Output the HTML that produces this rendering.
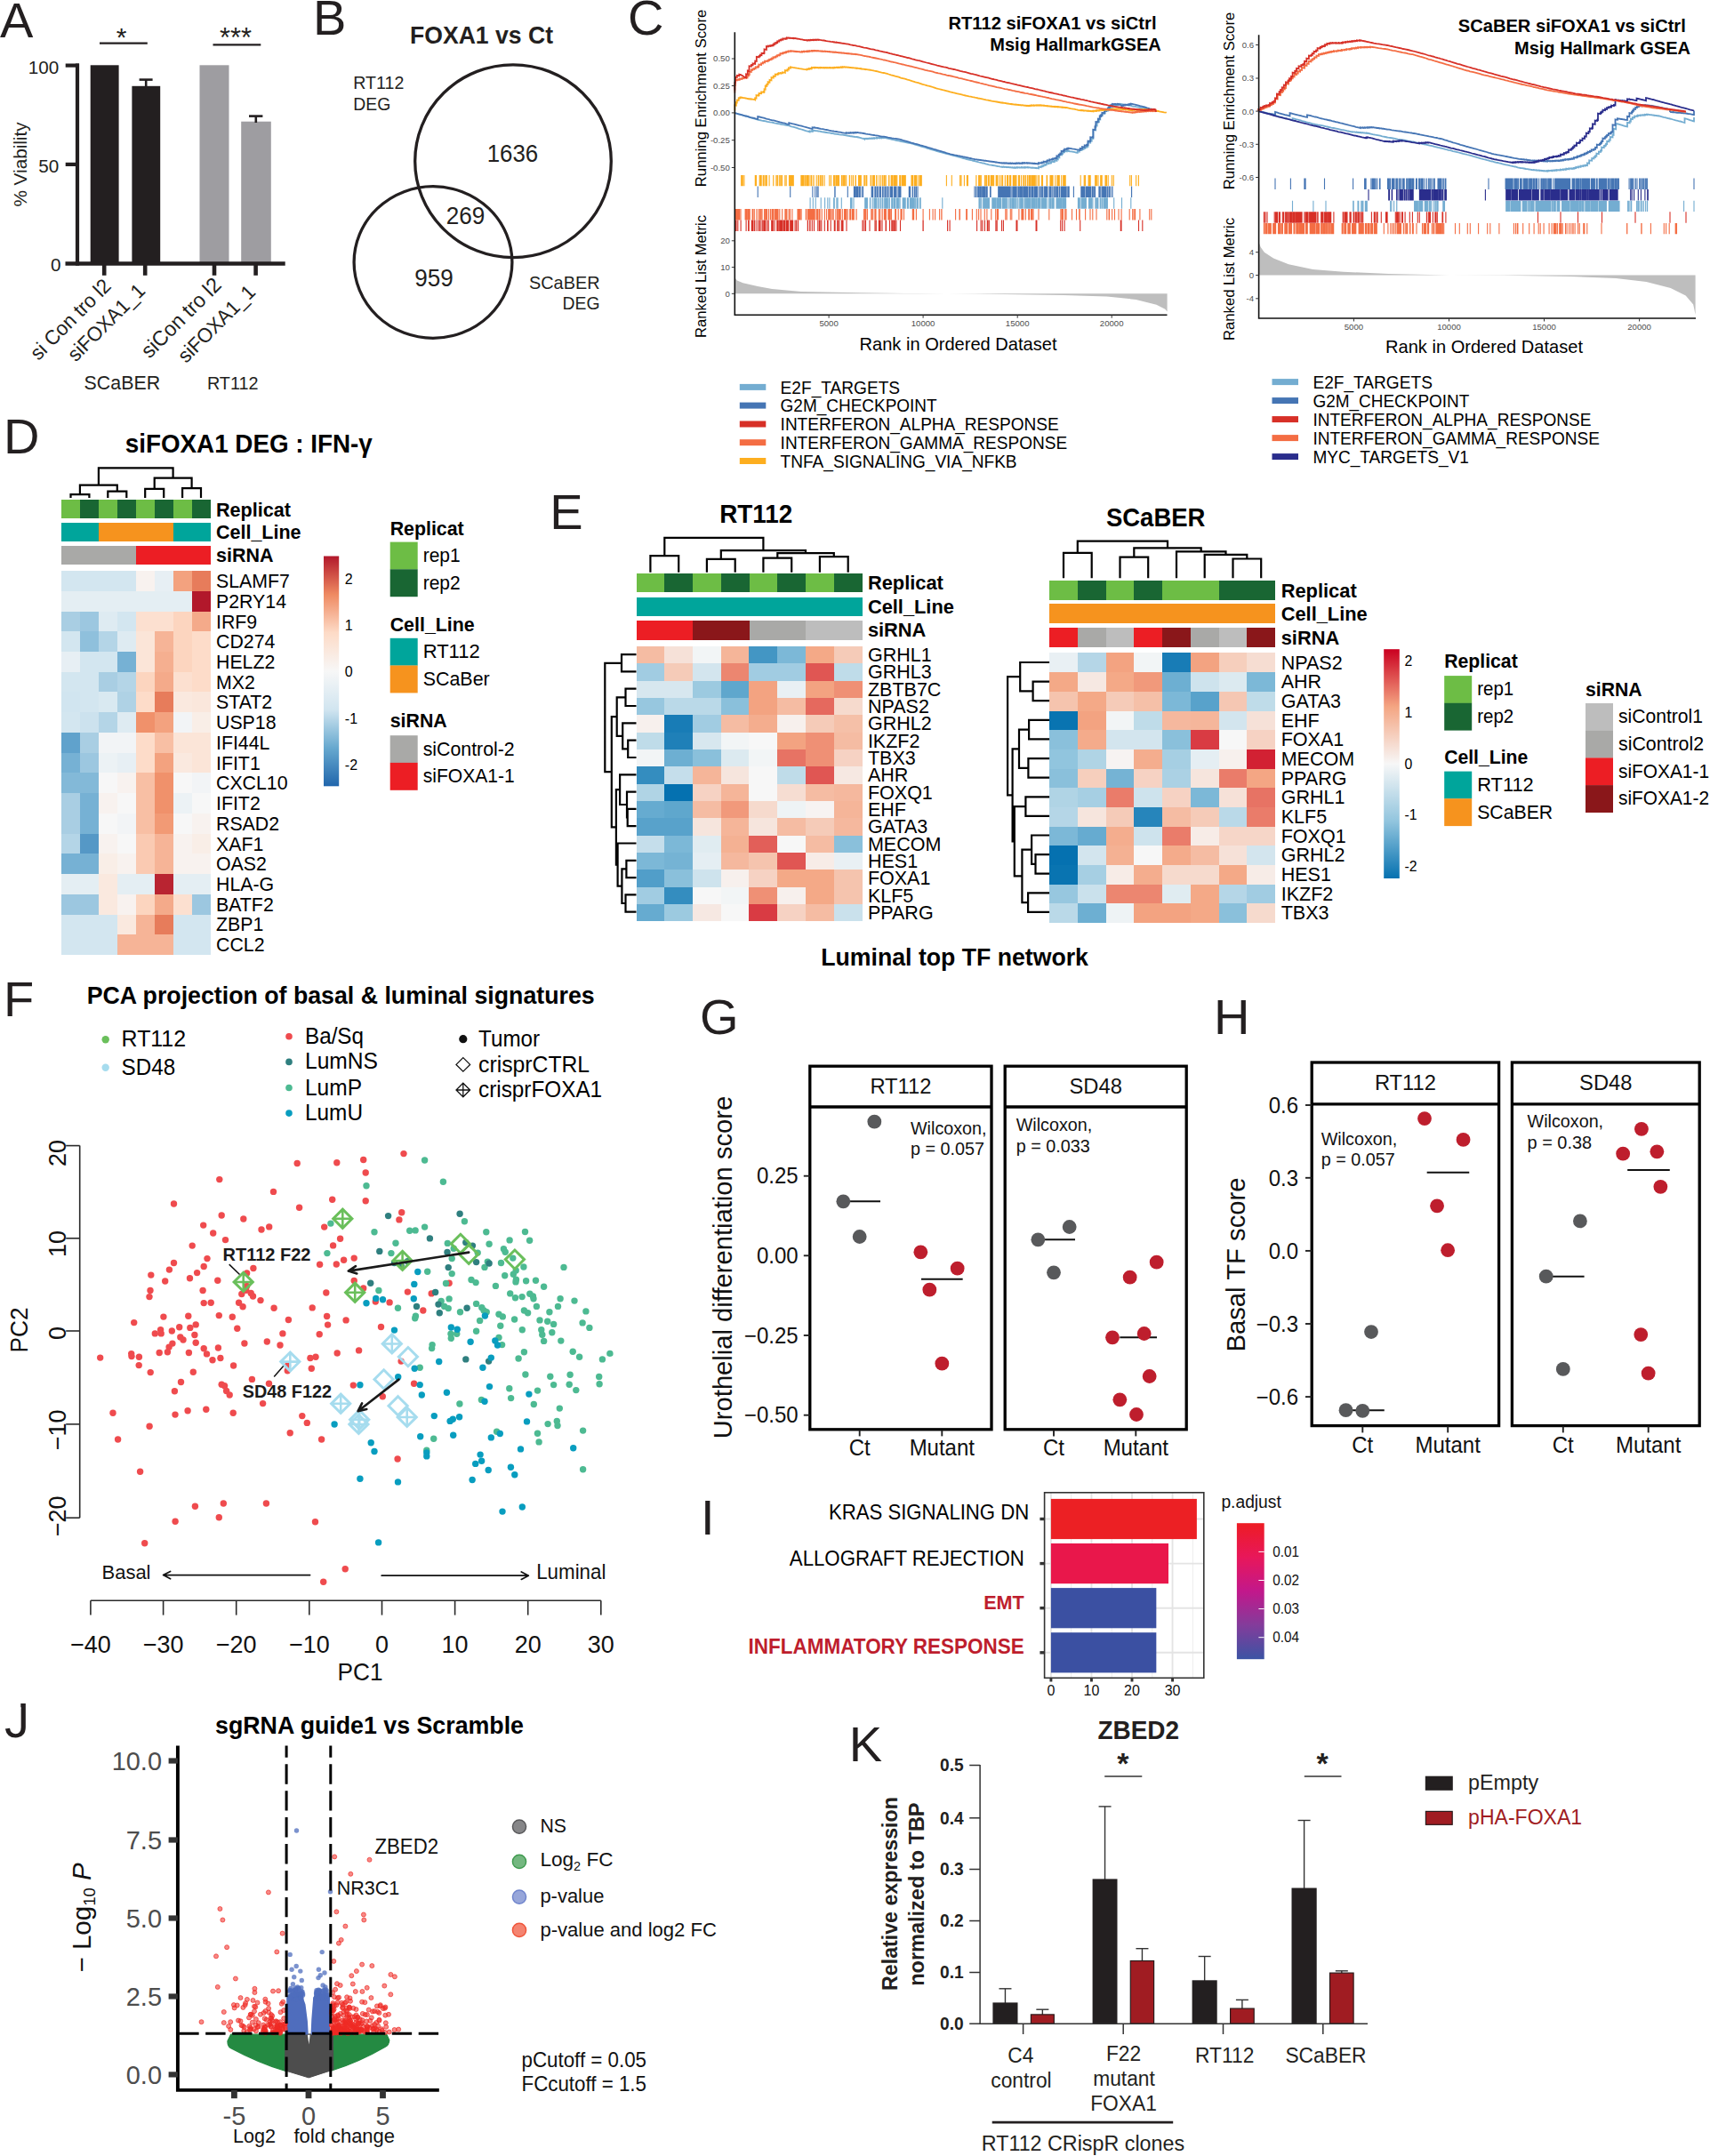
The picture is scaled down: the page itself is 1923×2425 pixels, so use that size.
<!DOCTYPE html>
<html lang="en"><head><meta charset="utf-8"><title>Figure</title>
<style>html,body{margin:0;padding:0;background:#fff}svg{display:block}text{font-family:'Liberation Sans', Arial, Helvetica, sans-serif}</style>
</head><body>
<svg width="1923" height="2425" viewBox="0 0 1923 2425">
<rect width="1923" height="2425" fill="#fff"/>
<text x="0.00" y="42.10" font-size="56.00" fill="#231f20">A</text>
<text x="352.00" y="38.60" font-size="56.00" fill="#231f20">B</text>
<text x="706.00" y="39.30" font-size="56.00" fill="#231f20">C</text>
<text x="4.00" y="509.80" font-size="56.00" fill="#231f20">D</text>
<text x="618.20" y="595.20" font-size="56.00" fill="#231f20">E</text>
<text x="4.00" y="1142.90" font-size="56.00" fill="#231f20">F</text>
<text x="787.00" y="1162.80" font-size="56.00" fill="#231f20">G</text>
<text x="1365.00" y="1162.90" font-size="56.00" fill="#231f20">H</text>
<text x="787.90" y="1725.70" font-size="56.00" fill="#231f20">I</text>
<text x="5.00" y="1954.30" font-size="56.00" fill="#231f20">J</text>
<text x="954.80" y="1980.50" font-size="56.00" fill="#231f20">K</text>
<rect x="13.50" y="1913.50" width="9.80" height="8.60" fill="#fff"/>
<g id="panelA">
<rect x="101.70" y="73.30" width="31.90" height="223.20" fill="#231f20"/>
<rect x="148.40" y="96.80" width="31.80" height="199.70" fill="#231f20"/>
<rect x="224.50" y="73.30" width="33.00" height="223.20" fill="#9e9da1"/>
<rect x="271.20" y="136.70" width="33.60" height="159.80" fill="#9e9da1"/>
<line x1="164.20" y1="89.40" x2="164.20" y2="98.00" stroke="#231f20" stroke-width="2.60"/>
<line x1="156.60" y1="89.60" x2="171.60" y2="89.60" stroke="#231f20" stroke-width="2.60"/>
<line x1="287.80" y1="130.40" x2="287.80" y2="138.00" stroke="#231f20" stroke-width="2.60"/>
<line x1="280.00" y1="130.60" x2="295.40" y2="130.60" stroke="#231f20" stroke-width="2.60"/>
<line x1="87.00" y1="71.60" x2="87.00" y2="298.80" stroke="#231f20" stroke-width="4.20"/>
<line x1="73.50" y1="296.50" x2="320.70" y2="296.50" stroke="#231f20" stroke-width="4.60"/>
<line x1="73.70" y1="73.60" x2="89.00" y2="73.60" stroke="#231f20" stroke-width="4.20"/>
<line x1="73.70" y1="184.90" x2="89.00" y2="184.90" stroke="#231f20" stroke-width="4.20"/>
<line x1="117.20" y1="296.00" x2="117.20" y2="309.80" stroke="#231f20" stroke-width="4.60"/>
<line x1="163.20" y1="296.00" x2="163.20" y2="309.80" stroke="#231f20" stroke-width="4.60"/>
<line x1="241.00" y1="296.00" x2="241.00" y2="309.80" stroke="#231f20" stroke-width="4.60"/>
<line x1="287.60" y1="296.00" x2="287.60" y2="309.80" stroke="#231f20" stroke-width="4.60"/>
<text x="66.20" y="82.60" font-size="20.70" text-anchor="end" fill="#231f20">100</text>
<text x="66.20" y="193.80" font-size="20.70" text-anchor="end" fill="#231f20">50</text>
<text x="68.40" y="305.40" font-size="20.70" text-anchor="end" fill="#231f20">0</text>
<text x="29.50" y="185.00" font-size="20.70" text-anchor="middle" fill="#231f20" transform="rotate(-90 29.50 185.00)">% Viability</text>
<line x1="112.00" y1="48.60" x2="165.80" y2="48.60" stroke="#231f20" stroke-width="2.40"/>
<line x1="239.50" y1="50.40" x2="293.30" y2="50.40" stroke="#231f20" stroke-width="2.40"/>
<text x="136.50" y="52.00" font-size="30.00" text-anchor="middle" fill="#231f20">*</text>
<text x="265.00" y="53.00" font-size="32.06" text-anchor="middle" fill="#231f20" textLength="36.00" lengthAdjust="spacingAndGlyphs">***</text>
<text x="126.30" y="323.20" font-size="22.90" text-anchor="end" fill="#231f20" textLength="117.50" lengthAdjust="spacingAndGlyphs" transform="rotate(-45 126.30 323.20)">si Con tro l2</text>
<text x="164.50" y="328.50" font-size="22.78" text-anchor="end" fill="#231f20" textLength="112.00" lengthAdjust="spacingAndGlyphs" transform="rotate(-45 164.50 328.50)">siFOXA1_1</text>
<text x="250.30" y="322.00" font-size="23.85" text-anchor="end" fill="#231f20" textLength="116.00" lengthAdjust="spacingAndGlyphs" transform="rotate(-45 250.30 322.00)">siCon tro l2</text>
<text x="288.50" y="330.00" font-size="22.78" text-anchor="end" fill="#231f20" textLength="112.00" lengthAdjust="spacingAndGlyphs" transform="rotate(-45 288.50 330.00)">siFOXA1_1</text>
<text x="94.60" y="438.20" font-size="22.22" fill="#231f20" textLength="85.50" lengthAdjust="spacingAndGlyphs">SCaBER</text>
<text x="232.90" y="438.20" font-size="20.63" fill="#231f20" textLength="57.70" lengthAdjust="spacingAndGlyphs">RT112</text>
</g>
<g id="panelB">
<text x="541.50" y="48.60" font-size="27.64" font-weight="bold" text-anchor="middle" fill="#231f20" textLength="161.00" lengthAdjust="spacingAndGlyphs">FOXA1 vs Ct</text>
<ellipse cx="577.0" cy="181.2" rx="110.3" ry="108.4" fill="none" stroke="#231f20" stroke-width="3.3"/>
<ellipse cx="487.0" cy="295.0" rx="88.9" ry="85.3" fill="none" stroke="#231f20" stroke-width="3.3"/>
<text x="397.30" y="99.80" font-size="20.38" fill="#231f20" textLength="57.00" lengthAdjust="spacingAndGlyphs">RT112</text>
<text x="397.30" y="124.40" font-size="20.16" fill="#231f20" textLength="42.00" lengthAdjust="spacingAndGlyphs">DEG</text>
<text x="576.50" y="181.60" font-size="26.88" text-anchor="middle" fill="#231f20" textLength="57.50" lengthAdjust="spacingAndGlyphs">1636</text>
<text x="523.50" y="252.40" font-size="27.12" text-anchor="middle" fill="#231f20" textLength="43.50" lengthAdjust="spacingAndGlyphs">269</text>
<text x="488.00" y="321.80" font-size="27.12" text-anchor="middle" fill="#231f20" textLength="43.50" lengthAdjust="spacingAndGlyphs">959</text>
<text x="674.50" y="325.00" font-size="20.66" text-anchor="end" fill="#231f20" textLength="79.50" lengthAdjust="spacingAndGlyphs">SCaBER</text>
<text x="674.50" y="348.40" font-size="20.16" text-anchor="end" fill="#231f20" textLength="42.00" lengthAdjust="spacingAndGlyphs">DEG</text>
</g>
<g id="gsea1">
<polyline points="826.4,127.1 828.3,127.6 831.1,128.4 833.1,129.1 834.5,129.5 836.7,130.2 837.9,130.4 839.1,130.9 841.4,131.4 844.3,132.5 846.6,133.1 847.9,133.3 849.9,133.9 851.3,134.4 852.2,134.7 854.1,135.0 856.7,135.6 858.9,136.0 861.2,136.4 862.8,136.8 865.7,137.4 868.1,137.7 869.5,138.0 870.7,138.3 872.5,138.7 874.2,139.0 876.8,139.3 878.3,139.8 880.2,140.2 882.0,140.3 884.2,140.9 885.7,141.0 887.3,141.4 890.1,142.3 891.4,142.6 892.6,142.9 895.1,143.7 897.2,144.4 898.6,144.9 899.9,145.2 901.1,145.5 902.5,145.9 905.4,146.9 907.0,147.4 908.4,147.7 910.6,148.4 910.6,147.4 912.9,147.9 912.9,147.3 914.1,147.6 914.1,146.5 916.5,147.0 917.9,147.1 920.4,147.5 922.0,147.7 923.2,148.0 924.7,148.3 926.4,148.5 929.3,149.0 931.4,149.4 932.7,149.4 935.5,150.0 937.0,150.2 938.3,150.5 941.2,150.8 944.0,151.4 946.2,151.6 947.4,151.7 950.2,152.2 951.6,152.5 951.6,152.4 953.1,152.7 953.1,152.6 955.7,153.1 955.7,153.0 957.8,153.4 957.8,153.3 959.4,153.6 959.4,153.5 960.8,153.8 960.8,153.7 963.2,154.1 963.2,154.1 964.3,154.3 964.3,154.2 965.8,154.5 965.8,154.5 966.2,154.6 968.8,155.4 970.4,155.9 971.8,156.1 972.0,156.3 972.0,155.9 973.9,156.2 973.9,155.9 975.1,156.2 975.1,155.8 976.4,156.1 976.4,155.7 978.1,156.0 978.1,155.5 980.2,155.9 980.2,155.6 981.5,155.8 981.5,155.4 983.2,155.8 983.2,155.1 986.0,155.6 986.0,154.9 988.8,155.5 988.8,154.9 991.1,155.4 991.1,154.8 993.4,155.2 993.4,154.8 995.4,155.1 996.7,155.3 997.8,155.7 1000.1,156.2 1001.2,156.4 1003.1,156.8 1004.8,157.2 1005.9,157.4 1008.4,158.0 1010.8,158.4 1013.3,159.0 1015.0,159.3 1017.7,159.9 1019.6,160.3 1022.2,160.8 1024.4,161.2 1024.7,161.3 1026.9,161.8 1029.1,162.7 1031.8,163.5 1033.6,164.0 1035.7,164.6 1038.3,165.3 1040.7,166.0 1042.9,166.8 1044.4,167.2 1046.3,167.8 1049.1,168.6 1050.2,168.9 1052.5,169.6 1053.8,170.1 1053.9,170.1 1055.8,170.7 1057.4,171.0 1058.8,171.4 1061.4,172.2 1064.1,172.8 1066.2,173.3 1067.5,173.7 1070.1,174.5 1072.5,175.2 1074.0,175.4 1075.9,175.9 1077.3,176.4 1079.6,177.0 1081.2,177.5 1083.2,178.0 1085.0,178.3 1086.1,178.8 1087.2,179.0 1089.3,179.5 1091.9,180.0 1093.1,180.4 1094.2,180.8 1095.7,181.0 1096.8,181.4 1098.7,181.9 1100.9,182.5 1103.8,183.2 1105.2,183.5 1106.6,183.7 1108.5,184.3 1109.8,184.6 1111.5,185.1 1112.4,185.3 1114.6,185.7 1116.4,186.0 1119.1,186.4 1121.9,187.0 1123.2,187.2 1125.4,187.7 1127.0,187.9 1127.0,187.6 1129.1,188.0 1129.1,187.7 1131.8,188.2 1131.8,187.9 1134.4,188.3 1134.4,188.0 1137.2,188.5 1137.2,188.3 1139.1,188.6 1139.1,188.3 1141.3,188.8 1141.3,188.7 1141.6,188.8 1141.6,188.3 1144.0,188.7 1144.0,188.2 1146.6,188.7 1146.6,188.2 1148.9,188.6 1148.9,188.1 1151.2,188.6 1151.2,188.3 1152.7,188.6 1152.7,188.0 1155.4,188.5 1155.4,188.3 1156.3,188.5 1156.3,188.1 1159.1,188.7 1159.1,188.5 1161.2,188.8 1161.2,188.6 1163.7,189.0 1163.7,188.9 1165.3,189.2 1165.3,188.9 1168.0,189.4 1168.0,187.6 1170.6,188.1 1170.6,187.0 1172.3,187.3 1172.3,186.6 1173.5,186.8 1173.5,185.6 1175.3,185.9 1175.3,185.0 1176.7,185.3 1176.7,183.9 1179.2,184.3 1179.2,183.2 1181.2,183.6 1181.2,183.0 1182.2,183.2 1182.2,181.7 1184.8,182.2 1184.8,181.6 1185.9,181.8 1185.9,180.4 1188.4,180.9 1188.4,179.0 1189.8,179.3 1189.8,177.0 1191.4,177.4 1191.4,173.9 1194.0,174.4 1194.0,172.7 1195.2,172.9 1195.2,171.1 1196.6,171.4 1196.6,170.5 1197.2,170.6 1197.2,169.9 1199.6,170.4 1199.6,169.6 1202.2,170.1 1202.2,169.9 1203.0,170.1 1205.9,170.6 1208.7,171.1 1210.1,171.5 1211.7,171.8 1211.8,171.8 1211.8,170.2 1213.8,170.6 1213.8,168.5 1216.5,169.0 1216.5,167.4 1218.5,167.8 1218.5,166.5 1220.2,166.8 1220.2,165.4 1221.9,165.8 1221.9,164.5 1223.5,164.8 1223.5,160.2 1226.2,160.7 1226.2,158.3 1227.7,158.6 1227.7,155.7 1229.4,156.0 1229.4,145.9 1232.2,146.5 1232.2,141.1 1233.7,141.4 1233.7,136.8 1235.9,137.2 1235.9,134.1 1237.3,134.4 1237.3,129.9 1239.3,130.3 1239.3,129.7 1239.6,129.7 1239.6,127.6 1241.8,128.0 1241.8,126.9 1242.8,127.1 1242.8,124.3 1245.7,124.8 1245.7,123.6 1246.9,123.9 1246.9,122.2 1248.7,122.5 1248.7,120.1 1251.2,120.6 1251.2,119.2 1252.7,119.5 1252.7,118.6 1254.7,119.0 1254.7,117.9 1257.0,118.3 1257.0,117.8 1258.2,118.0 1258.2,117.1 1260.2,117.5 1260.2,116.9 1261.5,117.1 1264.4,117.7 1265.9,117.9 1267.2,118.1 1269.7,118.6 1270.3,118.6 1271.9,118.8 1274.1,119.5 1275.4,119.7 1276.5,119.8 1277.9,120.2 1279.5,120.4 1281.7,120.8 1284.2,121.3 1286.2,121.7 1287.6,122.1 1287.8,122.1 1289.6,122.5 1291.6,123.0 1293.0,123.4 1295.3,124.0 1297.9,124.6 1299.5,125.0" stroke="#74add1" stroke-width="1.80" fill="none" stroke-linejoin="miter"/>
<polyline points="826.4,127.1 827.9,127.5 830.5,128.3 832.1,128.6 834.9,129.3 837.8,130.3 839.1,130.5 841.5,131.1 842.7,131.6 844.5,132.1 845.8,132.3 848.1,132.9 849.5,133.4 852.2,134.1 852.2,131.1 852.7,131.2 854.0,131.5 856.5,132.1 858.8,132.6 859.9,132.9 861.0,133.3 863.0,133.8 864.3,134.0 865.7,134.6 868.7,135.3 869.9,135.4 872.7,136.2 875.2,136.8 877.1,137.4 878.9,137.8 880.0,138.1 882.6,138.7 884.5,139.3 886.3,139.6 887.3,139.9 887.3,138.2 888.7,138.5 889.8,138.8 892.3,139.5 895.0,140.1 896.8,140.6 898.7,141.2 901.3,141.7 904.1,142.5 906.6,143.2 908.4,143.7 911.0,144.3 913.5,145.0 913.6,144.9 913.6,143.3 916.0,143.7 916.0,143.4 916.5,143.5 918.2,143.8 919.2,144.0 921.4,144.5 922.9,144.8 925.2,145.2 927.5,145.7 929.5,146.0 932.4,146.7 934.8,147.2 937.0,147.5 938.0,147.7 940.5,148.0 942.2,148.3 943.6,148.6 944.8,148.7 947.6,149.3 949.6,149.7 951.6,149.9 951.6,149.2 954.5,149.8 954.5,149.3 956.7,149.7 956.7,149.1 959.3,149.6 959.3,149.3 960.5,149.5 960.5,149.0 962.6,149.4 962.6,148.9 965.1,149.3 965.1,149.1 966.2,149.3 966.2,149.3 966.2,149.3 967.5,149.5 968.9,149.7 971.1,150.0 973.9,150.6 975.9,150.9 977.6,151.1 979.9,151.6 981.4,151.9 983.0,152.0 983.7,152.2 984.8,152.3 987.3,152.7 990.0,153.3 991.2,153.5 994.0,153.7 996.7,154.2 998.6,154.7 1000.1,154.8 1002.9,155.3 1004.9,155.6 1007.4,155.9 1008.7,156.1 1010.1,156.3 1011.5,156.6 1013.5,157.2 1015.4,157.8 1017.3,158.3 1019.4,158.9 1021.9,159.6 1024.8,160.6 1027.2,161.1 1028.5,161.6 1031.0,162.2 1032.7,162.6 1035.0,163.3 1037.2,163.9 1039.3,164.5 1040.7,164.9 1043.6,165.9 1046.3,166.5 1047.4,166.9 1049.2,167.5 1050.4,167.9 1051.6,168.1 1053.9,168.9 1056.1,169.5 1058.1,170.1 1059.8,170.7 1062.4,171.3 1063.6,171.9 1065.8,172.5 1067.3,172.9 1068.5,173.3 1071.1,173.8 1073.4,174.4 1075.0,174.6 1077.4,175.2 1079.3,175.5 1080.5,175.9 1081.7,175.9 1083.8,176.5 1086.1,176.9 1088.6,177.4 1090.0,177.8 1091.2,178.0 1093.6,178.6 1095.2,178.8 1096.9,179.3 1097.8,179.4 1097.8,179.4 1099.0,179.6 1099.0,179.5 1101.4,179.9 1101.4,179.8 1103.5,180.2 1103.5,180.1 1106.3,180.6 1106.3,180.5 1109.1,181.0 1109.1,180.9 1111.8,181.4 1111.8,181.3 1113.7,181.6 1113.7,181.5 1116.2,182.0 1116.2,181.9 1117.8,182.2 1117.8,182.1 1119.5,182.5 1119.5,182.4 1121.3,182.7 1121.3,182.6 1124.1,183.1 1124.1,183.0 1126.8,183.5 1126.8,183.5 1127.0,183.5 1127.0,183.3 1128.7,183.6 1128.7,183.3 1130.4,183.6 1130.4,183.4 1132.2,183.7 1132.2,183.4 1133.9,183.8 1133.9,183.5 1135.7,183.9 1135.7,183.6 1137.1,183.9 1137.1,183.6 1139.2,184.0 1139.2,183.6 1141.6,184.1 1141.6,183.6 1143.7,184.0 1143.7,183.4 1146.3,183.9 1146.3,183.4 1148.4,183.8 1148.4,183.5 1149.8,183.8 1149.8,183.2 1152.2,183.7 1152.2,183.0 1154.9,183.6 1154.9,183.3 1156.3,183.5 1156.3,183.4 1157.3,183.6 1157.3,183.4 1159.3,183.7 1159.3,183.5 1161.4,183.9 1161.4,183.7 1163.5,184.1 1163.5,183.7 1166.3,184.3 1166.3,184.1 1168.0,184.4 1168.0,183.2 1170.5,183.7 1170.5,183.2 1171.7,183.4 1171.7,182.5 1173.7,182.9 1173.7,181.7 1176.2,182.2 1176.2,182.0 1176.7,182.0 1176.7,181.4 1177.9,181.6 1177.9,180.3 1180.3,180.8 1180.3,179.3 1183.1,179.8 1183.1,179.2 1184.2,179.4 1184.2,178.2 1186.5,178.6 1186.5,177.9 1187.8,178.2 1187.8,177.8 1188.4,178.0 1188.4,175.3 1190.7,175.7 1190.7,173.9 1192.2,174.2 1192.2,172.5 1193.6,172.8 1193.6,169.8 1196.1,170.3 1196.1,169.0 1197.2,169.2 1197.2,167.7 1199.7,168.2 1199.7,167.1 1201.4,167.5 1201.4,166.5 1203.0,166.8 1205.9,167.4 1207.9,167.7 1210.3,168.2 1213.0,168.6 1214.7,168.9 1214.7,166.9 1217.0,167.4 1217.0,165.1 1219.7,165.6 1219.7,163.4 1222.2,163.9 1222.2,162.8 1223.5,163.0 1223.5,158.5 1226.2,159.0 1226.2,154.2 1229.1,154.7 1229.1,154.2 1229.4,154.3 1229.4,145.8 1231.4,146.2 1231.4,142.4 1232.3,142.6 1232.3,137.0 1234.8,137.5 1234.8,133.5 1236.7,133.8 1236.7,130.6 1238.1,130.9 1238.1,129.3 1239.4,129.6 1239.4,126.7 1241.9,127.1 1241.9,124.6 1244.0,125.0 1244.0,123.0 1245.7,123.3 1245.7,121.7 1247.1,122.0 1247.1,120.3 1248.5,120.5 1248.5,118.4 1250.3,118.7 1250.3,117.5 1251.3,117.7 1251.3,116.9 1254.2,117.5 1254.2,117.2 1255.3,117.4 1255.3,117.0 1256.9,117.3 1256.9,116.9 1258.1,117.2 1258.1,117.0 1258.6,117.1 1261.1,118.8 1261.5,119.2 1261.5,118.5 1263.4,118.9 1263.4,118.1 1265.5,118.5 1265.5,117.5 1268.3,118.1 1268.3,117.7 1269.4,117.9 1269.4,117.5 1270.3,117.7 1270.3,117.0 1271.7,117.3 1271.7,116.6 1273.1,116.9 1273.1,116.8 1273.2,116.8 1275.6,117.5 1277.1,117.8 1278.6,118.2 1281.1,118.8 1283.1,119.5 1285.1,119.9 1287.8,120.7 1287.8,120.6 1289.9,121.4 1291.8,121.8 1293.0,122.3 1295.5,122.9 1297.5,123.6 1299.1,124.1 1299.5,124.2" stroke="#4575b4" stroke-width="1.80" fill="none" stroke-linejoin="miter"/>
<polyline points="826.4,124.2 826.4,118.3 827.9,118.6 827.9,115.2 828.8,115.4 828.8,112.5 830.7,112.8 830.7,110.2 832.4,110.5 832.4,109.4 833.2,109.5 835.5,110.0 836.9,110.2 838.5,110.5 840.5,111.0 840.5,110.9 842.5,111.3 842.5,111.1 844.7,111.6 844.7,111.4 847.6,111.9 847.6,111.9 849.1,112.2 849.1,112.1 849.2,112.2 849.2,110.3 850.5,110.6 850.5,107.1 853.0,107.6 853.0,106.8 853.6,106.9 853.6,104.9 856.2,105.3 856.2,103.3 858.8,103.8 858.8,103.3 859.5,103.4 859.5,100.3 860.7,100.6 860.7,96.6 862.2,96.9 862.2,96.3 862.4,96.4 862.4,94.7 863.6,94.9 863.6,92.2 865.5,92.6 865.5,89.9 867.5,90.3 867.5,87.2 869.7,87.6 869.7,85.6 871.8,86.0 871.8,83.5 874.5,84.0 874.5,83.0 875.6,83.2 875.6,82.2 878.1,82.7 878.1,82.0 879.9,82.3 879.9,81.3 882.7,81.8 882.7,81.7 882.9,81.8 882.9,79.1 885.5,79.6 885.5,78.1 886.9,78.4 886.9,76.3 888.9,76.7 888.9,75.4 890.2,75.6 891.5,75.9 893.1,76.1 894.3,76.3 896.2,76.7 897.9,76.9 898.9,77.1 900.7,77.4 903.6,77.9 905.8,78.1 907.6,78.6 907.7,78.5 907.7,77.6 909.8,78.0 909.8,77.1 911.7,77.5 911.7,77.0 912.8,77.2 912.8,75.9 915.7,76.4 915.7,76.0 916.5,76.2 916.5,75.9 917.9,76.2 917.9,75.8 920.1,76.3 920.1,76.0 921.7,76.3 921.7,76.0 923.4,76.3 923.4,75.9 925.5,76.3 925.5,76.0 927.1,76.3 927.1,76.1 928.7,76.4 928.7,76.1 930.5,76.4 930.5,76.0 932.8,76.4 932.8,76.2 934.3,76.5 934.3,76.2 935.7,76.5 935.7,76.3 937.0,76.5 937.0,76.1 938.6,76.4 938.6,75.7 941.4,76.2 941.4,75.7 943.5,76.1 943.5,75.5 945.9,76.0 945.9,75.5 947.6,75.9 947.6,75.2 950.2,75.7 950.2,75.4 951.4,75.6 951.4,75.6 951.6,75.6 951.6,75.5 952.8,75.7 952.8,75.5 955.1,76.0 955.1,75.8 957.5,76.2 957.5,76.1 958.8,76.3 958.8,76.2 960.6,76.5 960.6,76.3 963.2,76.8 963.2,76.6 965.4,77.0 965.4,76.9 966.2,77.1 966.2,77.0 967.7,77.3 967.7,77.2 969.0,77.5 969.0,77.4 970.2,77.6 970.2,77.6 972.0,77.9 972.0,77.8 973.2,78.1 973.2,77.9 976.0,78.4 976.0,78.4 977.8,78.7 977.8,78.6 979.8,79.0 979.8,78.9 980.8,79.1 983.3,79.7 985.1,80.0 986.9,80.3 988.6,80.9 991.5,81.6 993.8,82.0 994.9,82.2 995.4,82.3 997.7,82.9 999.4,83.5 1002.0,84.3 1004.1,84.8 1006.6,85.7 1008.7,86.1 1010.7,86.7 1013.0,87.6 1015.1,88.1 1017.7,88.7 1020.5,89.6 1021.9,89.9 1023.4,90.5 1024.7,90.8 1026.3,91.4 1028.0,91.8 1029.3,92.3 1030.6,92.7 1032.6,93.2 1034.7,93.8 1037.5,94.8 1040.1,95.5 1041.3,95.9 1042.9,96.4 1044.4,96.7 1047.0,97.4 1049.0,98.0 1050.1,98.4 1053.0,99.4 1053.9,99.6 1055.5,100.0 1058.0,100.6 1060.1,101.2 1061.2,101.3 1063.1,101.8 1064.8,102.3 1066.2,102.7 1067.7,103.1 1069.4,103.5 1070.5,103.8 1071.8,104.2 1073.9,104.6 1075.7,105.1 1078.1,105.7 1080.5,106.2 1083.2,106.9 1085.8,107.5 1087.6,107.8 1089.7,108.4 1091.7,108.7 1093.5,109.2 1095.2,109.3 1097.6,110.0 1100.0,110.5 1102.4,110.9 1104.6,111.3 1105.9,111.7 1107.8,112.1 1109.0,112.4 1111.0,112.7 1112.4,113.0 1114.2,113.3 1115.3,113.7 1118.2,114.1 1120.9,114.5 1123.4,115.0 1125.9,115.5 1127.0,115.7 1127.0,115.6 1128.2,115.8 1128.2,115.7 1130.8,116.2 1130.8,116.1 1132.0,116.4 1132.0,116.3 1134.1,116.7 1134.1,116.5 1136.9,117.1 1136.9,117.0 1137.9,117.2 1137.9,117.1 1139.4,117.4 1139.4,117.3 1141.0,117.6 1141.0,117.6 1141.6,117.7 1141.6,117.6 1142.8,117.8 1142.8,117.6 1145.5,118.1 1145.5,117.9 1148.1,118.4 1148.1,118.2 1149.9,118.5 1149.9,118.4 1151.6,118.7 1151.6,118.5 1153.7,118.9 1153.7,118.8 1154.8,119.0 1154.8,118.9 1155.9,119.1 1155.9,119.1 1156.3,119.2 1156.3,118.8 1157.9,119.1 1157.9,118.7 1159.8,119.0 1159.8,118.4 1162.6,118.9 1162.6,118.3 1165.5,118.8 1165.5,118.4 1167.4,118.7 1167.4,118.4 1168.9,118.7 1168.9,118.3 1170.4,118.6 1170.4,118.5 1170.9,118.6 1170.9,118.4 1173.6,118.9 1173.6,118.7 1175.0,119.0 1175.0,118.8 1177.6,119.3 1177.6,119.1 1179.3,119.4 1179.3,119.3 1181.2,119.6 1181.2,119.5 1182.6,119.8 1182.6,119.5 1185.3,120.0 1185.3,120.0 1185.5,120.1 1185.5,119.9 1186.9,120.2 1186.9,119.9 1189.1,120.3 1189.1,120.2 1190.5,120.5 1190.5,120.2 1193.2,120.7 1193.2,120.6 1194.3,120.8 1194.3,120.6 1195.6,120.9 1195.6,120.6 1198.0,121.1 1198.0,120.9 1199.6,121.2 1199.6,121.1 1200.1,121.2 1202.8,121.8 1204.1,122.1 1206.9,122.6 1208.1,122.7 1209.7,123.2 1211.1,123.3 1212.5,123.8 1214.7,124.2 1214.7,124.0 1216.5,124.3 1216.5,124.0 1218.7,124.5 1218.7,124.2 1221.5,124.7 1221.5,124.5 1223.6,124.9 1223.6,124.7 1225.1,125.0 1225.1,124.8 1226.7,125.1 1226.7,124.8 1229.4,125.3 1229.4,124.6 1231.6,125.0 1231.6,124.6 1233.2,124.9 1233.2,124.2 1235.4,124.6 1235.4,124.2 1236.6,124.4 1236.6,123.6 1239.5,124.1 1239.5,123.5 1241.4,123.9 1241.4,123.2 1243.4,123.6 1243.4,123.5 1244.0,123.6 1244.0,123.3 1245.1,123.5 1245.1,123.0 1247.2,123.4 1247.2,123.0 1248.8,123.3 1248.8,122.9 1250.3,123.2 1250.3,122.5 1252.9,123.0 1252.9,122.7 1254.1,123.0 1254.1,122.6 1255.6,122.9 1255.6,122.3 1258.1,122.7 1258.1,122.6 1258.6,122.7 1258.6,122.6 1260.2,122.8 1260.2,122.7 1262.2,123.1 1262.2,122.9 1263.6,123.2 1263.6,122.9 1266.3,123.5 1266.3,123.2 1269.2,123.8 1269.2,123.7 1270.3,123.9 1270.3,123.7 1272.2,124.1 1272.2,124.0 1273.2,124.2 1273.2,123.7 1275.0,124.0 1275.0,123.3 1277.8,123.9 1277.8,123.4 1279.7,123.8 1279.7,123.4 1281.1,123.7 1281.1,123.2 1283.2,123.6 1283.2,123.0 1285.4,123.4 1285.4,123.0 1287.1,123.3 1287.1,123.1 1287.8,123.3 1287.8,123.1 1290.3,123.6 1290.3,123.4 1292.4,123.8 1292.4,123.7 1294.3,124.1 1294.3,123.9 1297.0,124.4 1297.0,124.2 1299.3,124.6 1299.3,124.5 1301.3,124.9 1301.3,124.8 1302.5,125.0 1303.8,125.4 1305.1,125.6 1306.6,125.8 1309.1,126.3 1311.6,126.7 1311.8,126.8" stroke="#fdae1f" stroke-width="1.80" fill="none" stroke-linejoin="miter"/>
<polyline points="826.4,104.6 826.4,95.7 827.0,95.8 827.0,90.2 828.8,90.5 828.8,89.6 830.7,89.9 830.7,89.4 831.8,89.6 831.8,88.6 834.0,89.0 834.0,88.7 834.6,88.8 834.6,87.8 836.7,88.2 836.7,87.1 839.4,87.6 839.4,87.1 840.5,87.3 840.5,85.2 841.8,85.4 841.8,83.7 842.8,83.9 842.8,80.7 844.8,81.0 844.8,78.5 846.3,78.8 846.3,77.5 848.2,77.9 848.2,76.8 849.7,77.1 849.7,75.4 852.2,75.9 852.2,74.8 853.3,75.0 853.3,72.5 856.1,73.0 856.1,71.2 858.0,71.5 858.0,70.1 860.1,70.5 860.1,68.7 862.6,69.2 862.6,68.4 863.9,68.6 863.9,67.7 865.2,67.9 865.2,66.8 866.8,67.1 866.8,66.4 867.9,66.6 867.9,65.5 869.5,65.8 869.5,64.3 871.7,64.7 871.7,64.0 872.6,64.2 872.6,63.2 874.2,63.4 874.2,62.0 876.3,62.4 876.3,61.6 877.5,61.8 877.5,60.0 880.1,60.5 880.1,59.6 881.4,59.8 881.4,59.1 882.9,59.4 882.9,58.8 884.2,59.1 884.2,58.0 886.6,58.4 886.6,57.3 889.2,57.8 889.2,57.3 890.2,57.5 890.2,57.4 891.3,57.6 891.3,57.4 893.1,57.8 893.1,57.6 894.8,58.0 894.8,57.8 896.3,58.1 896.3,57.8 899.1,58.4 899.1,58.3 900.2,58.5 900.2,58.3 901.9,58.7 901.9,57.9 904.3,58.4 904.3,57.6 907.2,58.1 907.2,57.7 908.5,58.0 908.5,57.4 910.4,57.8 910.4,57.1 912.9,57.6 912.9,57.2 914.0,57.4 914.0,57.0 915.4,57.3 915.4,57.0 916.5,57.2 916.5,57.0 917.8,57.3 917.8,57.1 919.6,57.4 919.6,57.2 921.1,57.5 921.1,57.3 923.0,57.7 923.0,57.5 924.1,57.7 924.1,57.6 925.2,57.8 925.2,57.5 928.1,58.0 928.1,57.7 930.6,58.2 930.6,57.9 933.0,58.4 933.0,58.2 934.5,58.5 934.5,58.3 936.0,58.6 936.0,58.5 937.0,58.7 937.0,58.5 938.4,58.8 938.4,58.6 940.3,59.0 940.3,58.7 943.1,59.3 943.1,59.1 944.9,59.4 944.9,59.3 946.5,59.6 946.5,59.4 949.4,59.9 949.4,59.7 951.6,60.1 951.6,60.0 952.7,60.2 952.7,60.1 954.5,60.4 954.5,60.2 956.7,60.6 956.7,60.5 957.9,60.7 957.9,60.6 959.5,60.9 959.5,60.7 961.9,61.1 961.9,60.9 964.5,61.4 964.5,61.3 966.2,61.6 968.9,62.1 970.7,62.6 972.4,63.0 973.9,63.1 975.2,63.5 976.6,63.7 978.0,64.0 979.6,64.4 982.5,65.0 985.2,65.5 986.9,65.8 989.3,66.4 990.8,66.6 992.2,67.0 994.0,67.5 995.4,67.7 997.0,68.1 998.3,68.5 1000.0,68.9 1002.4,69.5 1003.5,69.6 1005.2,70.0 1007.9,70.7 1010.4,71.3 1011.5,71.6 1013.0,71.8 1014.3,72.3 1015.4,72.5 1017.2,73.0 1018.5,73.3 1020.0,73.7 1022.3,74.1 1023.7,74.5 1024.7,74.7 1026.5,75.2 1029.1,75.8 1030.7,76.2 1032.2,76.5 1033.2,76.9 1035.3,77.5 1038.2,78.1 1040.5,78.8 1041.9,79.1 1044.2,79.7 1046.9,80.2 1049.1,80.7 1051.0,81.3 1052.1,81.6 1053.7,82.0 1053.9,82.0 1055.2,82.3 1057.2,82.7 1059.5,83.3 1060.7,83.6 1062.5,83.9 1064.6,84.6 1066.7,85.0 1067.8,85.2 1069.5,85.5 1071.3,85.9 1073.2,86.5 1075.1,86.9 1076.6,87.2 1078.3,87.8 1080.4,88.1 1082.7,88.6 1083.2,88.8 1085.4,89.4 1087.1,89.8 1089.9,90.5 1092.1,91.0 1093.9,91.4 1095.4,91.9 1098.1,92.5 1100.9,93.1 1102.2,93.5 1103.8,93.9 1106.7,94.6 1108.1,94.9 1110.4,95.5 1111.4,95.8 1112.4,96.1 1113.9,96.4 1116.1,96.9 1118.3,97.4 1120.9,98.1 1122.6,98.3 1125.3,98.9 1127.7,99.5 1130.0,100.1 1132.6,100.4 1134.8,101.0 1136.9,101.4 1138.5,101.9 1140.5,102.2 1141.6,102.5 1143.3,102.8 1145.3,103.2 1146.4,103.4 1147.6,103.8 1148.9,104.0 1151.4,104.5 1152.7,104.8 1155.4,105.2 1156.9,105.6 1159.4,106.0 1161.8,106.5 1164.2,107.0 1165.8,107.4 1168.5,108.0 1170.6,108.3 1170.9,108.4 1173.1,108.9 1175.6,109.3 1177.4,109.8 1178.8,110.0 1179.9,110.4 1182.7,111.1 1184.0,111.3 1185.8,111.7 1187.6,112.1 1190.5,112.6 1192.9,113.1 1194.0,113.4 1196.4,114.1 1197.6,114.2 1198.7,114.5 1200.1,114.8 1201.9,115.1 1204.4,115.7 1206.0,115.9 1208.2,116.5 1211.0,117.0 1213.4,117.5 1215.9,117.9 1217.3,118.1 1220.1,118.7 1222.0,119.1 1223.7,119.4 1225.8,119.8 1228.0,120.3 1229.4,120.6 1231.3,120.9 1232.8,121.1 1234.0,121.5 1235.6,121.5 1236.9,121.9 1239.9,122.3 1242.5,122.7 1244.0,123.0 1244.0,122.9 1246.5,123.3 1246.5,123.3 1248.3,123.6 1248.3,123.5 1249.4,123.7 1249.4,123.6 1251.5,124.0 1251.5,123.9 1253.8,124.4 1253.8,124.2 1256.0,124.7 1256.0,124.6 1257.5,124.9 1257.5,124.8 1258.6,125.0 1258.6,124.8 1261.3,125.3 1261.3,125.1 1264.2,125.7 1264.2,125.6 1266.0,125.9 1266.0,125.7 1268.6,126.2 1268.6,126.1 1271.1,126.5 1271.1,126.4 1272.4,126.7 1272.4,126.6 1273.2,126.8 1273.2,126.4 1274.6,126.6 1274.6,126.3 1275.8,126.5 1275.8,126.2 1277.0,126.4 1277.0,125.9 1278.7,126.2 1278.7,125.5 1281.1,126.0 1281.1,125.5 1282.7,125.8 1282.7,125.3 1284.7,125.6 1284.7,125.3 1285.8,125.5 1285.8,125.1 1287.2,125.4 1287.2,125.2 1287.8,125.3 1287.8,125.1 1288.9,125.3 1288.9,124.9 1290.9,125.2 1290.9,124.7 1293.5,125.2 1293.5,124.6 1296.0,125.1 1296.0,124.6 1298.4,125.1 1298.4,124.8 1299.5,125.0" stroke="#f46d43" stroke-width="1.80" fill="none" stroke-linejoin="miter"/>
<polyline points="826.4,101.6 826.4,92.8 827.0,92.9 827.0,86.7 828.8,87.0 828.8,84.9 831.3,85.4 831.3,83.7 833.2,84.1 834.4,84.9 836.2,85.9 837.7,86.9 838.7,87.5 839.0,87.6 839.0,83.3 840.8,83.6 840.8,79.4 842.5,79.8 842.5,74.2 844.8,74.6 844.8,74.4 844.9,74.4 844.9,73.0 846.6,73.3 846.6,71.4 848.8,71.8 848.8,71.4 849.2,71.5 849.2,68.6 850.8,68.9 850.8,63.8 853.5,64.4 853.5,64.2 853.6,64.2 853.6,63.1 854.8,63.3 854.8,61.7 856.5,62.1 856.5,59.8 858.9,60.2 858.9,59.7 859.5,59.8 859.5,55.3 861.9,55.8 861.9,52.1 863.9,52.5 863.9,51.5 866.2,51.9 866.2,51.3 867.5,51.6 867.5,51.1 868.8,51.3 868.8,50.9 869.7,51.1 869.7,49.6 871.4,49.9 871.4,48.3 873.2,48.7 873.2,47.8 874.3,48.0 874.3,46.3 876.3,46.7 876.3,45.2 878.0,45.5 878.0,45.1 878.5,45.2 878.5,44.3 880.5,44.7 880.5,43.4 883.4,43.9 883.4,43.3 884.8,43.5 884.8,42.4 887.3,42.9 887.3,42.7 888.9,43.0 888.9,42.7 891.3,43.1 891.3,43.0 892.6,43.2 892.6,42.9 895.5,43.4 895.5,43.3 896.0,43.5 898.9,43.9 900.7,44.3 902.0,44.4 904.3,45.0 906.0,45.1 907.7,45.6 907.7,45.5 907.7,45.0 909.9,45.4 909.9,45.0 911.7,45.3 911.7,44.8 913.9,45.2 913.9,44.9 915.4,45.2 915.4,44.7 917.6,45.1 917.6,44.5 920.3,45.0 920.3,44.5 922.3,44.9 924.6,45.3 926.7,45.5 929.3,46.1 931.2,46.4 933.0,46.6 934.4,46.9 936.6,47.2 937.0,47.3 937.0,47.1 939.2,47.6 939.2,47.5 941.0,47.8 941.0,47.7 943.2,48.1 943.2,48.0 945.4,48.4 945.4,48.3 948.1,48.8 948.1,48.8 949.5,49.0 949.5,48.9 951.4,49.3 951.4,49.3 951.6,49.3 954.0,49.7 956.4,50.4 958.2,50.7 959.5,51.0 961.4,51.2 964.1,51.8 966.2,52.2 968.8,52.9 970.8,53.4 971.9,53.6 974.3,53.9 976.9,54.6 978.9,55.1 980.3,55.3 982.6,55.7 984.6,56.3 986.6,56.6 989.1,57.4 991.6,57.8 994.4,58.5 995.4,58.7 997.2,59.0 998.3,59.3 1000.9,60.1 1002.2,60.3 1003.9,60.9 1006.1,61.4 1007.3,61.7 1008.7,62.0 1011.4,62.7 1012.8,63.0 1014.6,63.3 1016.3,63.8 1018.5,64.4 1020.7,65.0 1022.1,65.2 1024.4,65.9 1024.7,66.0 1025.9,66.4 1028.1,66.8 1029.5,67.3 1031.8,67.9 1033.5,68.2 1035.3,68.7 1037.6,69.3 1040.2,70.0 1042.0,70.5 1044.9,71.2 1047.2,71.8 1049.3,72.3 1052.0,73.0 1053.9,73.6 1056.2,74.1 1059.0,74.8 1061.5,75.4 1063.3,75.7 1065.2,76.2 1067.0,76.8 1068.6,77.1 1070.9,77.6 1072.7,78.0 1075.4,78.7 1077.3,79.1 1079.8,79.9 1082.0,80.3 1083.2,80.6 1085.9,81.2 1087.6,81.7 1090.0,82.3 1091.7,82.8 1094.5,83.3 1096.7,84.0 1098.4,84.4 1100.1,84.9 1102.2,85.5 1105.1,86.2 1106.9,86.6 1109.2,87.1 1112.1,87.7 1112.4,87.9 1114.2,88.4 1115.6,88.8 1117.0,89.0 1118.3,89.3 1120.8,89.8 1122.1,90.3 1124.3,90.8 1125.8,91.2 1128.2,91.8 1129.5,92.0 1130.5,92.3 1133.4,93.0 1134.4,93.1 1136.5,93.7 1137.7,94.0 1139.3,94.4 1140.6,94.7 1141.6,94.9 1142.8,95.2 1144.4,95.6 1145.9,95.9 1147.0,96.1 1148.9,96.6 1150.8,97.1 1152.0,97.4 1153.3,97.7 1155.4,98.0 1157.6,98.7 1160.4,99.2 1161.5,99.4 1164.0,100.1 1166.4,100.5 1168.4,101.0 1169.7,101.3 1170.9,101.6 1173.1,102.2 1174.2,102.4 1175.4,102.6 1176.6,103.1 1178.3,103.3 1180.6,104.0 1183.4,104.5 1185.4,105.1 1187.1,105.3 1189.6,105.9 1191.3,106.3 1193.2,106.7 1195.0,107.2 1196.2,107.5 1197.3,107.7 1199.4,108.2 1200.1,108.4 1201.3,108.6 1202.9,109.0 1204.4,109.4 1206.4,109.6 1208.2,110.2 1209.2,110.4 1212.0,111.0 1214.2,111.4 1215.8,111.8 1217.9,112.2 1219.9,112.7 1222.4,113.1 1223.6,113.5 1225.1,113.9 1226.9,114.4 1228.7,114.6 1229.4,114.8 1230.5,115.2 1233.1,115.6 1234.8,116.0 1237.3,116.5 1238.4,116.8 1239.5,117.0 1241.6,117.5 1243.9,117.8 1246.6,118.6 1248.8,118.8 1249.8,119.2 1251.6,119.5 1254.5,120.1 1255.7,120.2 1257.6,120.5 1258.6,120.6 1258.6,120.5 1260.5,120.9 1260.5,120.8 1262.3,121.2 1262.3,121.1 1263.6,121.3 1263.6,121.3 1265.2,121.6 1265.2,121.4 1267.6,121.9 1267.6,121.8 1268.8,122.1 1268.8,122.0 1270.0,122.2 1270.0,122.1 1272.6,122.6 1272.6,122.6 1273.2,122.7 1273.2,122.5 1275.3,122.9 1275.3,122.8 1276.5,123.0 1276.5,122.9 1277.8,123.1 1277.8,123.0 1279.4,123.3 1279.4,123.1 1282.2,123.6 1282.2,123.4 1284.3,123.8 1284.3,123.5 1287.1,124.1 1287.1,124.0 1287.8,124.2 1287.8,123.7 1289.6,124.0 1289.6,123.5 1291.7,123.9 1291.7,123.2 1294.3,123.7 1294.3,123.3 1295.6,123.6 1295.6,122.9 1298.3,123.4 1298.3,123.0 1299.5,123.3 1300.1,125.9" stroke="#d73027" stroke-width="1.80" fill="none" stroke-linejoin="miter"/>
<path d="M833.6 196.9V209.3M834.8 196.9V209.3M834.8 196.9V209.3M835.4 196.9V209.3M836.9 196.9V209.3M849.3 196.9V209.3M849.8 196.9V209.3M850.5 196.9V209.3M854.2 196.9V209.3M854.8 196.9V209.3M855.3 196.9V209.3M856.2 196.9V209.3M858.2 196.9V209.3M858.4 196.9V209.3M858.7 196.9V209.3M858.7 196.9V209.3M860.1 196.9V209.3M861.5 196.9V209.3M861.9 196.9V209.3M862.3 196.9V209.3M865.1 196.9V209.3M869.7 196.9V209.3M869.8 196.9V209.3M872.9 196.9V209.3M873.1 196.9V209.3M874.4 196.9V209.3M876.3 196.9V209.3M877.7 196.9V209.3M879.0 196.9V209.3M879.5 196.9V209.3M882.8 196.9V209.3M884.2 196.9V209.3M887.5 196.9V209.3M887.5 196.9V209.3M888.4 196.9V209.3M888.8 196.9V209.3M889.4 196.9V209.3M889.7 196.9V209.3M890.5 196.9V209.3M890.6 196.9V209.3M891.4 196.9V209.3M891.6 196.9V209.3M892.3 196.9V209.3M900.9 196.9V209.3M901.6 196.9V209.3M902.0 196.9V209.3M902.9 196.9V209.3M903.5 196.9V209.3M904.9 196.9V209.3M905.4 196.9V209.3M906.8 196.9V209.3M907.0 196.9V209.3M908.0 196.9V209.3M908.2 196.9V209.3M909.3 196.9V209.3M911.0 196.9V209.3M912.5 196.9V209.3M912.8 196.9V209.3M914.9 196.9V209.3M915.1 196.9V209.3M918.2 196.9V209.3M920.2 196.9V209.3M920.3 196.9V209.3M920.7 196.9V209.3M920.7 196.9V209.3M922.4 196.9V209.3M923.0 196.9V209.3M924.5 196.9V209.3M925.0 196.9V209.3M927.1 196.9V209.3M932.7 196.9V209.3M934.5 196.9V209.3M937.4 196.9V209.3M938.6 196.9V209.3M940.0 196.9V209.3M940.4 196.9V209.3M940.5 196.9V209.3M941.4 196.9V209.3M942.6 196.9V209.3M942.9 196.9V209.3M943.3 196.9V209.3M943.5 196.9V209.3M946.4 196.9V209.3M946.4 196.9V209.3M946.6 196.9V209.3M946.7 196.9V209.3M947.2 196.9V209.3M948.6 196.9V209.3M949.5 196.9V209.3M949.8 196.9V209.3M950.2 196.9V209.3M951.7 196.9V209.3M955.3 196.9V209.3M955.6 196.9V209.3M957.8 196.9V209.3M959.5 196.9V209.3M962.0 196.9V209.3M962.1 196.9V209.3M962.4 196.9V209.3M965.5 196.9V209.3M965.8 196.9V209.3M965.8 196.9V209.3M966.4 196.9V209.3M966.8 196.9V209.3M967.5 196.9V209.3M968.3 196.9V209.3M971.8 196.9V209.3M973.0 196.9V209.3M974.5 196.9V209.3M974.8 196.9V209.3M979.1 196.9V209.3M979.4 196.9V209.3M981.2 196.9V209.3M982.4 196.9V209.3M983.5 196.9V209.3M985.7 196.9V209.3M986.1 196.9V209.3M988.7 196.9V209.3M990.7 196.9V209.3M992.6 196.9V209.3M994.1 196.9V209.3M994.3 196.9V209.3M994.9 196.9V209.3M996.2 196.9V209.3M996.2 196.9V209.3M999.6 196.9V209.3M999.9 196.9V209.3M1002.2 196.9V209.3M1002.4 196.9V209.3M1003.2 196.9V209.3M1003.7 196.9V209.3M1005.1 196.9V209.3M1005.8 196.9V209.3M1005.9 196.9V209.3M1006.7 196.9V209.3M1007.3 196.9V209.3M1007.5 196.9V209.3M1007.6 196.9V209.3M1008.8 196.9V209.3M1011.7 196.9V209.3M1012.8 196.9V209.3M1014.4 196.9V209.3M1015.3 196.9V209.3M1015.3 196.9V209.3M1016.3 196.9V209.3M1017.3 196.9V209.3M1018.3 196.9V209.3M1025.0 196.9V209.3M1025.2 196.9V209.3M1026.1 196.9V209.3M1026.8 196.9V209.3M1028.5 196.9V209.3M1029.0 196.9V209.3M1029.0 196.9V209.3M1029.5 196.9V209.3M1030.3 196.9V209.3M1030.9 196.9V209.3M1033.0 196.9V209.3M1033.1 196.9V209.3M1034.6 196.9V209.3M1034.8 196.9V209.3M1035.9 196.9V209.3M1036.3 196.9V209.3M1064.4 196.9V209.3M1070.3 196.9V209.3M1079.6 196.9V209.3M1079.7 196.9V209.3M1081.0 196.9V209.3M1084.4 196.9V209.3M1087.4 196.9V209.3M1088.4 196.9V209.3M1097.8 196.9V209.3M1097.9 196.9V209.3M1100.6 196.9V209.3M1101.4 196.9V209.3M1101.5 196.9V209.3M1102.1 196.9V209.3M1103.3 196.9V209.3M1107.5 196.9V209.3M1108.8 196.9V209.3M1109.6 196.9V209.3M1111.4 196.9V209.3M1112.2 196.9V209.3M1112.3 196.9V209.3M1114.2 196.9V209.3M1114.8 196.9V209.3M1115.4 196.9V209.3M1116.4 196.9V209.3M1117.6 196.9V209.3M1120.2 196.9V209.3M1120.9 196.9V209.3M1120.9 196.9V209.3M1122.1 196.9V209.3M1124.4 196.9V209.3M1126.3 196.9V209.3M1127.6 196.9V209.3M1130.3 196.9V209.3M1130.4 196.9V209.3M1132.5 196.9V209.3M1133.6 196.9V209.3M1133.7 196.9V209.3M1135.6 196.9V209.3M1136.0 196.9V209.3M1136.2 196.9V209.3M1136.6 196.9V209.3M1136.7 196.9V209.3M1139.3 196.9V209.3M1139.7 196.9V209.3M1140.3 196.9V209.3M1140.7 196.9V209.3M1140.8 196.9V209.3M1142.0 196.9V209.3M1142.9 196.9V209.3M1145.4 196.9V209.3M1146.0 196.9V209.3M1146.6 196.9V209.3M1148.6 196.9V209.3M1150.8 196.9V209.3M1152.0 196.9V209.3M1153.6 196.9V209.3M1155.5 196.9V209.3M1155.7 196.9V209.3M1157.2 196.9V209.3M1157.2 196.9V209.3M1158.2 196.9V209.3M1158.8 196.9V209.3M1158.8 196.9V209.3M1160.1 196.9V209.3M1160.4 196.9V209.3M1160.6 196.9V209.3M1160.7 196.9V209.3M1161.6 196.9V209.3M1162.2 196.9V209.3M1162.3 196.9V209.3M1163.0 196.9V209.3M1163.5 196.9V209.3M1164.3 196.9V209.3M1165.9 196.9V209.3M1168.0 196.9V209.3M1168.2 196.9V209.3M1168.5 196.9V209.3M1171.4 196.9V209.3M1171.5 196.9V209.3M1172.5 196.9V209.3M1177.1 196.9V209.3M1177.6 196.9V209.3M1181.0 196.9V209.3M1181.5 196.9V209.3M1182.5 196.9V209.3M1182.9 196.9V209.3M1183.4 196.9V209.3M1184.0 196.9V209.3M1186.8 196.9V209.3M1189.0 196.9V209.3M1189.2 196.9V209.3M1190.2 196.9V209.3M1191.3 196.9V209.3M1193.7 196.9V209.3M1195.7 196.9V209.3M1195.7 196.9V209.3M1195.8 196.9V209.3M1196.1 196.9V209.3M1196.8 196.9V209.3M1197.3 196.9V209.3M1197.7 196.9V209.3M1198.2 196.9V209.3M1215.2 196.9V209.3M1219.2 196.9V209.3M1219.4 196.9V209.3M1220.6 196.9V209.3M1224.1 196.9V209.3M1224.9 196.9V209.3M1225.1 196.9V209.3M1225.6 196.9V209.3M1225.9 196.9V209.3M1225.9 196.9V209.3M1226.2 196.9V209.3M1231.6 196.9V209.3M1232.8 196.9V209.3M1232.9 196.9V209.3M1233.4 196.9V209.3M1235.0 196.9V209.3M1237.7 196.9V209.3M1237.8 196.9V209.3M1238.4 196.9V209.3M1239.2 196.9V209.3M1243.0 196.9V209.3M1243.6 196.9V209.3M1244.5 196.9V209.3M1244.5 196.9V209.3M1246.2 196.9V209.3M1250.3 196.9V209.3M1252.2 196.9V209.3M1252.3 196.9V209.3M1270.7 196.9V209.3M1272.4 196.9V209.3M1277.6 196.9V209.3M1280.3 196.9V209.3M1280.4 196.9V209.3" stroke="#fdae1f" stroke-width="1.10" fill="none"/>
<path d="M852.2 209.6V222.0M888.7 209.6V222.0M913.9 209.6V222.0M916.7 209.6V222.0M918.7 209.6V222.0M920.1 209.6V222.0M938.8 209.6V222.0M939.1 209.6V222.0M953.3 209.6V222.0M960.4 209.6V222.0M961.2 209.6V222.0M962.2 209.6V222.0M963.4 209.6V222.0M964.0 209.6V222.0M965.1 209.6V222.0M966.5 209.6V222.0M967.8 209.6V222.0M969.9 209.6V222.0M970.4 209.6V222.0M970.5 209.6V222.0M980.2 209.6V222.0M981.0 209.6V222.0M981.6 209.6V222.0M981.7 209.6V222.0M983.9 209.6V222.0M984.2 209.6V222.0M984.4 209.6V222.0M984.5 209.6V222.0M986.0 209.6V222.0M986.7 209.6V222.0M987.1 209.6V222.0M989.0 209.6V222.0M989.2 209.6V222.0M989.3 209.6V222.0M990.5 209.6V222.0M992.5 209.6V222.0M993.9 209.6V222.0M995.4 209.6V222.0M996.1 209.6V222.0M997.8 209.6V222.0M999.1 209.6V222.0M1001.1 209.6V222.0M1001.7 209.6V222.0M1002.7 209.6V222.0M1002.9 209.6V222.0M1003.3 209.6V222.0M1003.7 209.6V222.0M1005.6 209.6V222.0M1006.0 209.6V222.0M1006.7 209.6V222.0M1006.9 209.6V222.0M1007.3 209.6V222.0M1007.5 209.6V222.0M1007.7 209.6V222.0M1008.0 209.6V222.0M1010.0 209.6V222.0M1010.2 209.6V222.0M1011.4 209.6V222.0M1012.3 209.6V222.0M1012.9 209.6V222.0M1022.3 209.6V222.0M1022.4 209.6V222.0M1022.6 209.6V222.0M1023.0 209.6V222.0M1023.6 209.6V222.0M1026.2 209.6V222.0M1026.6 209.6V222.0M1028.5 209.6V222.0M1028.9 209.6V222.0M1029.0 209.6V222.0M1030.4 209.6V222.0M1032.0 209.6V222.0M1096.0 209.6V222.0M1097.6 209.6V222.0M1097.6 209.6V222.0M1097.9 209.6V222.0M1099.7 209.6V222.0M1100.1 209.6V222.0M1100.2 209.6V222.0M1101.3 209.6V222.0M1102.5 209.6V222.0M1102.5 209.6V222.0M1103.7 209.6V222.0M1104.9 209.6V222.0M1105.2 209.6V222.0M1105.4 209.6V222.0M1106.1 209.6V222.0M1106.2 209.6V222.0M1107.1 209.6V222.0M1107.6 209.6V222.0M1107.8 209.6V222.0M1109.1 209.6V222.0M1109.9 209.6V222.0M1110.2 209.6V222.0M1113.5 209.6V222.0M1114.1 209.6V222.0M1122.7 209.6V222.0M1123.1 209.6V222.0M1124.0 209.6V222.0M1124.6 209.6V222.0M1125.0 209.6V222.0M1125.2 209.6V222.0M1125.3 209.6V222.0M1125.7 209.6V222.0M1125.8 209.6V222.0M1126.2 209.6V222.0M1126.7 209.6V222.0M1126.8 209.6V222.0M1126.9 209.6V222.0M1127.0 209.6V222.0M1127.5 209.6V222.0M1127.5 209.6V222.0M1128.4 209.6V222.0M1128.9 209.6V222.0M1129.4 209.6V222.0M1129.5 209.6V222.0M1130.0 209.6V222.0M1130.2 209.6V222.0M1130.4 209.6V222.0M1130.7 209.6V222.0M1131.3 209.6V222.0M1132.0 209.6V222.0M1132.1 209.6V222.0M1132.7 209.6V222.0M1133.6 209.6V222.0M1133.9 209.6V222.0M1134.8 209.6V222.0M1134.9 209.6V222.0M1135.1 209.6V222.0M1135.4 209.6V222.0M1135.6 209.6V222.0M1135.8 209.6V222.0M1135.8 209.6V222.0M1137.1 209.6V222.0M1137.1 209.6V222.0M1138.8 209.6V222.0M1138.9 209.6V222.0M1139.9 209.6V222.0M1140.6 209.6V222.0M1141.2 209.6V222.0M1141.5 209.6V222.0M1141.5 209.6V222.0M1141.8 209.6V222.0M1142.0 209.6V222.0M1142.2 209.6V222.0M1143.1 209.6V222.0M1143.2 209.6V222.0M1144.9 209.6V222.0M1145.4 209.6V222.0M1145.7 209.6V222.0M1146.0 209.6V222.0M1147.2 209.6V222.0M1147.4 209.6V222.0M1147.7 209.6V222.0M1147.9 209.6V222.0M1148.6 209.6V222.0M1149.4 209.6V222.0M1150.7 209.6V222.0M1150.8 209.6V222.0M1151.1 209.6V222.0M1151.9 209.6V222.0M1152.3 209.6V222.0M1152.8 209.6V222.0M1152.9 209.6V222.0M1153.6 209.6V222.0M1153.6 209.6V222.0M1154.4 209.6V222.0M1154.6 209.6V222.0M1154.9 209.6V222.0M1155.0 209.6V222.0M1155.4 209.6V222.0M1155.6 209.6V222.0M1157.1 209.6V222.0M1157.3 209.6V222.0M1157.5 209.6V222.0M1158.7 209.6V222.0M1160.1 209.6V222.0M1160.3 209.6V222.0M1160.4 209.6V222.0M1160.6 209.6V222.0M1161.3 209.6V222.0M1161.3 209.6V222.0M1161.4 209.6V222.0M1161.8 209.6V222.0M1162.1 209.6V222.0M1163.5 209.6V222.0M1164.2 209.6V222.0M1164.4 209.6V222.0M1165.4 209.6V222.0M1166.0 209.6V222.0M1166.2 209.6V222.0M1166.7 209.6V222.0M1168.6 209.6V222.0M1168.7 209.6V222.0M1170.3 209.6V222.0M1170.4 209.6V222.0M1170.7 209.6V222.0M1172.0 209.6V222.0M1172.4 209.6V222.0M1172.9 209.6V222.0M1172.9 209.6V222.0M1174.6 209.6V222.0M1174.7 209.6V222.0M1175.3 209.6V222.0M1176.1 209.6V222.0M1176.3 209.6V222.0M1176.4 209.6V222.0M1176.7 209.6V222.0M1176.8 209.6V222.0M1176.9 209.6V222.0M1177.4 209.6V222.0M1177.9 209.6V222.0M1180.0 209.6V222.0M1180.4 209.6V222.0M1180.9 209.6V222.0M1181.0 209.6V222.0M1181.3 209.6V222.0M1181.5 209.6V222.0M1182.1 209.6V222.0M1183.8 209.6V222.0M1185.3 209.6V222.0M1186.7 209.6V222.0M1187.3 209.6V222.0M1188.6 209.6V222.0M1189.1 209.6V222.0M1189.5 209.6V222.0M1191.1 209.6V222.0M1191.5 209.6V222.0M1193.1 209.6V222.0M1193.4 209.6V222.0M1194.1 209.6V222.0M1194.2 209.6V222.0M1194.9 209.6V222.0M1196.0 209.6V222.0M1196.7 209.6V222.0M1197.0 209.6V222.0M1197.9 209.6V222.0M1198.1 209.6V222.0M1198.3 209.6V222.0M1198.7 209.6V222.0M1199.2 209.6V222.0M1200.8 209.6V222.0M1200.8 209.6V222.0M1200.9 209.6V222.0M1201.1 209.6V222.0M1202.2 209.6V222.0M1207.4 209.6V222.0M1215.8 209.6V222.0M1216.6 209.6V222.0M1216.7 209.6V222.0M1217.1 209.6V222.0M1217.2 209.6V222.0M1217.2 209.6V222.0M1217.9 209.6V222.0M1217.9 209.6V222.0M1218.1 209.6V222.0M1218.5 209.6V222.0M1219.1 209.6V222.0M1219.7 209.6V222.0M1219.7 209.6V222.0M1219.7 209.6V222.0M1221.2 209.6V222.0M1222.3 209.6V222.0M1223.3 209.6V222.0M1223.5 209.6V222.0M1224.0 209.6V222.0M1224.1 209.6V222.0M1224.7 209.6V222.0M1224.9 209.6V222.0M1225.6 209.6V222.0M1225.6 209.6V222.0M1226.6 209.6V222.0M1226.6 209.6V222.0M1226.7 209.6V222.0M1228.3 209.6V222.0M1228.9 209.6V222.0M1229.3 209.6V222.0M1230.7 209.6V222.0M1231.0 209.6V222.0M1231.5 209.6V222.0M1235.9 209.6V222.0M1235.9 209.6V222.0M1236.6 209.6V222.0M1236.7 209.6V222.0M1238.0 209.6V222.0M1239.6 209.6V222.0M1239.7 209.6V222.0M1240.4 209.6V222.0M1241.4 209.6V222.0M1241.4 209.6V222.0M1242.4 209.6V222.0M1243.3 209.6V222.0M1243.6 209.6V222.0M1243.8 209.6V222.0M1244.1 209.6V222.0M1245.6 209.6V222.0M1245.8 209.6V222.0M1245.9 209.6V222.0M1247.4 209.6V222.0M1248.8 209.6V222.0M1250.8 209.6V222.0M1251.0 209.6V222.0M1272.5 209.6V222.0M1272.6 209.6V222.0" stroke="#4575b4" stroke-width="1.10" fill="none"/>
<path d="M911.1 222.3V234.7M914.3 222.3V234.7M917.2 222.3V234.7M923.2 222.3V234.7M927.6 222.3V234.7M930.8 222.3V234.7M932.9 222.3V234.7M937.6 222.3V234.7M938.3 222.3V234.7M940.9 222.3V234.7M942.1 222.3V234.7M946.3 222.3V234.7M956.5 222.3V234.7M957.4 222.3V234.7M957.9 222.3V234.7M958.0 222.3V234.7M960.0 222.3V234.7M972.7 222.3V234.7M973.8 222.3V234.7M974.2 222.3V234.7M974.5 222.3V234.7M975.4 222.3V234.7M978.4 222.3V234.7M978.7 222.3V234.7M981.2 222.3V234.7M983.0 222.3V234.7M983.9 222.3V234.7M984.9 222.3V234.7M985.0 222.3V234.7M985.9 222.3V234.7M987.6 222.3V234.7M988.0 222.3V234.7M989.9 222.3V234.7M990.3 222.3V234.7M992.1 222.3V234.7M992.5 222.3V234.7M992.9 222.3V234.7M994.7 222.3V234.7M995.0 222.3V234.7M995.4 222.3V234.7M996.3 222.3V234.7M996.7 222.3V234.7M997.1 222.3V234.7M997.3 222.3V234.7M997.7 222.3V234.7M997.8 222.3V234.7M999.0 222.3V234.7M1000.4 222.3V234.7M1002.7 222.3V234.7M1003.1 222.3V234.7M1003.6 222.3V234.7M1005.0 222.3V234.7M1005.6 222.3V234.7M1006.3 222.3V234.7M1006.6 222.3V234.7M1008.2 222.3V234.7M1009.2 222.3V234.7M1009.8 222.3V234.7M1010.2 222.3V234.7M1010.4 222.3V234.7M1011.8 222.3V234.7M1012.1 222.3V234.7M1015.2 222.3V234.7M1015.8 222.3V234.7M1016.0 222.3V234.7M1016.6 222.3V234.7M1017.3 222.3V234.7M1018.2 222.3V234.7M1020.4 222.3V234.7M1021.4 222.3V234.7M1023.3 222.3V234.7M1023.4 222.3V234.7M1023.5 222.3V234.7M1024.4 222.3V234.7M1024.5 222.3V234.7M1025.5 222.3V234.7M1026.1 222.3V234.7M1026.7 222.3V234.7M1027.6 222.3V234.7M1028.8 222.3V234.7M1030.0 222.3V234.7M1031.5 222.3V234.7M1032.3 222.3V234.7M1034.4 222.3V234.7M1035.0 222.3V234.7M1035.2 222.3V234.7M1035.2 222.3V234.7M1059.8 222.3V234.7M1101.0 222.3V234.7M1101.2 222.3V234.7M1102.3 222.3V234.7M1103.7 222.3V234.7M1105.7 222.3V234.7M1106.0 222.3V234.7M1106.8 222.3V234.7M1106.9 222.3V234.7M1107.1 222.3V234.7M1107.9 222.3V234.7M1107.9 222.3V234.7M1108.0 222.3V234.7M1108.4 222.3V234.7M1109.0 222.3V234.7M1109.2 222.3V234.7M1109.4 222.3V234.7M1109.8 222.3V234.7M1109.9 222.3V234.7M1110.2 222.3V234.7M1110.7 222.3V234.7M1110.9 222.3V234.7M1111.0 222.3V234.7M1111.1 222.3V234.7M1111.5 222.3V234.7M1112.2 222.3V234.7M1112.3 222.3V234.7M1112.4 222.3V234.7M1115.8 222.3V234.7M1116.3 222.3V234.7M1117.3 222.3V234.7M1118.4 222.3V234.7M1119.0 222.3V234.7M1119.3 222.3V234.7M1119.6 222.3V234.7M1119.9 222.3V234.7M1121.2 222.3V234.7M1121.5 222.3V234.7M1121.8 222.3V234.7M1122.4 222.3V234.7M1123.0 222.3V234.7M1123.5 222.3V234.7M1124.3 222.3V234.7M1124.5 222.3V234.7M1125.6 222.3V234.7M1127.3 222.3V234.7M1127.6 222.3V234.7M1128.0 222.3V234.7M1128.5 222.3V234.7M1128.6 222.3V234.7M1129.6 222.3V234.7M1130.1 222.3V234.7M1130.1 222.3V234.7M1130.8 222.3V234.7M1131.1 222.3V234.7M1131.2 222.3V234.7M1132.4 222.3V234.7M1134.2 222.3V234.7M1135.9 222.3V234.7M1136.1 222.3V234.7M1136.1 222.3V234.7M1136.6 222.3V234.7M1137.9 222.3V234.7M1137.9 222.3V234.7M1137.9 222.3V234.7M1138.0 222.3V234.7M1138.7 222.3V234.7M1138.8 222.3V234.7M1139.1 222.3V234.7M1139.1 222.3V234.7M1139.5 222.3V234.7M1139.8 222.3V234.7M1140.8 222.3V234.7M1142.1 222.3V234.7M1142.5 222.3V234.7M1143.0 222.3V234.7M1144.7 222.3V234.7M1146.3 222.3V234.7M1146.3 222.3V234.7M1147.6 222.3V234.7M1148.1 222.3V234.7M1148.2 222.3V234.7M1148.3 222.3V234.7M1148.9 222.3V234.7M1150.0 222.3V234.7M1150.3 222.3V234.7M1152.1 222.3V234.7M1152.1 222.3V234.7M1152.3 222.3V234.7M1153.3 222.3V234.7M1154.5 222.3V234.7M1154.7 222.3V234.7M1154.8 222.3V234.7M1155.7 222.3V234.7M1156.6 222.3V234.7M1157.0 222.3V234.7M1157.9 222.3V234.7M1158.4 222.3V234.7M1159.8 222.3V234.7M1160.1 222.3V234.7M1160.7 222.3V234.7M1160.9 222.3V234.7M1161.4 222.3V234.7M1161.7 222.3V234.7M1161.9 222.3V234.7M1162.6 222.3V234.7M1162.8 222.3V234.7M1163.6 222.3V234.7M1164.8 222.3V234.7M1165.0 222.3V234.7M1165.6 222.3V234.7M1166.9 222.3V234.7M1167.3 222.3V234.7M1168.4 222.3V234.7M1168.7 222.3V234.7M1169.1 222.3V234.7M1169.2 222.3V234.7M1169.3 222.3V234.7M1170.0 222.3V234.7M1170.0 222.3V234.7M1171.6 222.3V234.7M1171.7 222.3V234.7M1171.8 222.3V234.7M1171.9 222.3V234.7M1172.4 222.3V234.7M1173.1 222.3V234.7M1173.2 222.3V234.7M1173.9 222.3V234.7M1174.0 222.3V234.7M1174.1 222.3V234.7M1174.6 222.3V234.7M1175.6 222.3V234.7M1176.1 222.3V234.7M1176.2 222.3V234.7M1176.2 222.3V234.7M1176.8 222.3V234.7M1176.9 222.3V234.7M1179.1 222.3V234.7M1180.6 222.3V234.7M1181.3 222.3V234.7M1181.9 222.3V234.7M1183.2 222.3V234.7M1183.7 222.3V234.7M1184.0 222.3V234.7M1184.3 222.3V234.7M1185.0 222.3V234.7M1185.2 222.3V234.7M1188.0 222.3V234.7M1188.9 222.3V234.7M1189.8 222.3V234.7M1189.9 222.3V234.7M1189.9 222.3V234.7M1190.1 222.3V234.7M1190.6 222.3V234.7M1191.2 222.3V234.7M1192.0 222.3V234.7M1192.6 222.3V234.7M1192.8 222.3V234.7M1193.1 222.3V234.7M1193.5 222.3V234.7M1194.7 222.3V234.7M1195.6 222.3V234.7M1195.8 222.3V234.7M1195.8 222.3V234.7M1195.9 222.3V234.7M1196.4 222.3V234.7M1196.6 222.3V234.7M1196.8 222.3V234.7M1197.6 222.3V234.7M1197.6 222.3V234.7M1198.6 222.3V234.7M1212.4 222.3V234.7M1212.6 222.3V234.7M1212.9 222.3V234.7M1213.0 222.3V234.7M1213.6 222.3V234.7M1214.3 222.3V234.7M1216.0 222.3V234.7M1216.4 222.3V234.7M1216.8 222.3V234.7M1217.5 222.3V234.7M1218.0 222.3V234.7M1218.4 222.3V234.7M1219.1 222.3V234.7M1219.8 222.3V234.7M1220.9 222.3V234.7M1221.4 222.3V234.7M1224.5 222.3V234.7M1224.6 222.3V234.7M1225.0 222.3V234.7M1225.7 222.3V234.7M1226.0 222.3V234.7M1226.0 222.3V234.7M1226.4 222.3V234.7M1227.2 222.3V234.7M1227.6 222.3V234.7M1228.9 222.3V234.7M1231.8 222.3V234.7M1232.0 222.3V234.7M1233.2 222.3V234.7M1233.5 222.3V234.7M1234.2 222.3V234.7M1234.9 222.3V234.7M1237.2 222.3V234.7M1237.7 222.3V234.7M1238.0 222.3V234.7M1238.1 222.3V234.7M1239.6 222.3V234.7M1239.7 222.3V234.7M1241.2 222.3V234.7M1241.6 222.3V234.7M1241.8 222.3V234.7M1242.0 222.3V234.7M1242.2 222.3V234.7M1242.6 222.3V234.7M1242.8 222.3V234.7M1243.3 222.3V234.7M1244.1 222.3V234.7M1244.5 222.3V234.7M1245.2 222.3V234.7M1245.4 222.3V234.7M1252.7 222.3V234.7M1261.5 222.3V234.7M1271.8 222.3V234.7" stroke="#74add1" stroke-width="1.10" fill="none"/>
<path d="M827.0 235.0V247.4M827.2 235.0V247.4M827.5 235.0V247.4M828.2 235.0V247.4M828.9 235.0V247.4M829.3 235.0V247.4M829.9 235.0V247.4M830.8 235.0V247.4M831.2 235.0V247.4M831.5 235.0V247.4M831.6 235.0V247.4M833.0 235.0V247.4M838.1 235.0V247.4M838.9 235.0V247.4M840.0 235.0V247.4M841.2 235.0V247.4M841.4 235.0V247.4M842.5 235.0V247.4M843.2 235.0V247.4M846.1 235.0V247.4M846.4 235.0V247.4M846.8 235.0V247.4M848.3 235.0V247.4M850.9 235.0V247.4M853.0 235.0V247.4M854.5 235.0V247.4M854.5 235.0V247.4M855.3 235.0V247.4M856.7 235.0V247.4M856.8 235.0V247.4M857.0 235.0V247.4M859.6 235.0V247.4M859.8 235.0V247.4M860.1 235.0V247.4M861.3 235.0V247.4M861.4 235.0V247.4M861.7 235.0V247.4M862.3 235.0V247.4M862.6 235.0V247.4M864.5 235.0V247.4M866.4 235.0V247.4M866.5 235.0V247.4M866.7 235.0V247.4M868.3 235.0V247.4M868.5 235.0V247.4M869.3 235.0V247.4M869.7 235.0V247.4M870.0 235.0V247.4M871.6 235.0V247.4M871.6 235.0V247.4M872.6 235.0V247.4M873.0 235.0V247.4M873.9 235.0V247.4M874.1 235.0V247.4M875.0 235.0V247.4M876.8 235.0V247.4M879.7 235.0V247.4M882.9 235.0V247.4M883.4 235.0V247.4M884.6 235.0V247.4M884.9 235.0V247.4M887.1 235.0V247.4M888.5 235.0V247.4M890.9 235.0V247.4M897.0 235.0V247.4M897.0 235.0V247.4M897.5 235.0V247.4M897.8 235.0V247.4M898.6 235.0V247.4M899.7 235.0V247.4M899.8 235.0V247.4M901.1 235.0V247.4M906.3 235.0V247.4M906.8 235.0V247.4M908.6 235.0V247.4M908.9 235.0V247.4M909.4 235.0V247.4M910.1 235.0V247.4M910.3 235.0V247.4M910.4 235.0V247.4M911.0 235.0V247.4M911.5 235.0V247.4M911.8 235.0V247.4M912.9 235.0V247.4M913.3 235.0V247.4M913.5 235.0V247.4M914.5 235.0V247.4M915.6 235.0V247.4M916.9 235.0V247.4M918.6 235.0V247.4M919.2 235.0V247.4M919.5 235.0V247.4M921.0 235.0V247.4M921.8 235.0V247.4M922.0 235.0V247.4M922.0 235.0V247.4M922.0 235.0V247.4M924.2 235.0V247.4M927.4 235.0V247.4M929.6 235.0V247.4M931.7 235.0V247.4M932.6 235.0V247.4M933.8 235.0V247.4M934.2 235.0V247.4M935.9 235.0V247.4M937.2 235.0V247.4M939.9 235.0V247.4M941.6 235.0V247.4M942.9 235.0V247.4M942.9 235.0V247.4M943.8 235.0V247.4M943.9 235.0V247.4M944.8 235.0V247.4M945.2 235.0V247.4M947.3 235.0V247.4M949.5 235.0V247.4M949.5 235.0V247.4M950.6 235.0V247.4M950.7 235.0V247.4M951.5 235.0V247.4M951.7 235.0V247.4M953.2 235.0V247.4M955.7 235.0V247.4M956.0 235.0V247.4M956.8 235.0V247.4M958.5 235.0V247.4M958.8 235.0V247.4M959.7 235.0V247.4M960.0 235.0V247.4M960.3 235.0V247.4M963.0 235.0V247.4M963.1 235.0V247.4M971.6 235.0V247.4M971.9 235.0V247.4M972.3 235.0V247.4M973.5 235.0V247.4M973.8 235.0V247.4M975.4 235.0V247.4M979.8 235.0V247.4M980.1 235.0V247.4M980.3 235.0V247.4M981.7 235.0V247.4M983.9 235.0V247.4M985.0 235.0V247.4M988.3 235.0V247.4M989.7 235.0V247.4M992.1 235.0V247.4M992.2 235.0V247.4M994.4 235.0V247.4M995.4 235.0V247.4M996.4 235.0V247.4M998.9 235.0V247.4M999.3 235.0V247.4M999.9 235.0V247.4M1000.4 235.0V247.4M1001.1 235.0V247.4M1002.4 235.0V247.4M1006.7 235.0V247.4M1007.5 235.0V247.4M1010.2 235.0V247.4M1013.0 235.0V247.4M1013.6 235.0V247.4M1014.2 235.0V247.4M1016.5 235.0V247.4M1026.3 235.0V247.4M1027.4 235.0V247.4M1027.6 235.0V247.4M1030.4 235.0V247.4M1038.1 235.0V247.4M1045.4 235.0V247.4M1049.1 235.0V247.4M1051.6 235.0V247.4M1056.6 235.0V247.4M1058.8 235.0V247.4M1059.0 235.0V247.4M1074.6 235.0V247.4M1079.0 235.0V247.4M1079.4 235.0V247.4M1086.7 235.0V247.4M1087.4 235.0V247.4M1093.4 235.0V247.4M1098.3 235.0V247.4M1100.6 235.0V247.4M1103.0 235.0V247.4M1107.3 235.0V247.4M1109.9 235.0V247.4M1114.8 235.0V247.4M1119.7 235.0V247.4M1121.4 235.0V247.4M1121.5 235.0V247.4M1121.9 235.0V247.4M1122.5 235.0V247.4M1130.8 235.0V247.4M1132.2 235.0V247.4M1136.3 235.0V247.4M1137.8 235.0V247.4M1145.9 235.0V247.4M1148.9 235.0V247.4M1149.9 235.0V247.4M1150.8 235.0V247.4M1153.3 235.0V247.4M1156.8 235.0V247.4M1157.3 235.0V247.4M1157.5 235.0V247.4M1159.5 235.0V247.4M1160.0 235.0V247.4M1160.7 235.0V247.4M1162.0 235.0V247.4M1168.0 235.0V247.4M1179.8 235.0V247.4M1192.9 235.0V247.4M1193.0 235.0V247.4M1194.3 235.0V247.4M1195.4 235.0V247.4M1197.7 235.0V247.4M1199.0 235.0V247.4M1205.5 235.0V247.4M1210.5 235.0V247.4M1213.7 235.0V247.4M1214.2 235.0V247.4M1220.6 235.0V247.4M1226.0 235.0V247.4M1228.8 235.0V247.4M1233.0 235.0V247.4M1244.8 235.0V247.4M1247.1 235.0V247.4M1247.6 235.0V247.4M1250.6 235.0V247.4M1253.5 235.0V247.4M1258.0 235.0V247.4M1261.1 235.0V247.4M1270.2 235.0V247.4M1273.7 235.0V247.4M1275.2 235.0V247.4M1276.6 235.0V247.4M1281.9 235.0V247.4M1292.7 235.0V247.4M1294.8 235.0V247.4" stroke="#f46d43" stroke-width="1.10" fill="none"/>
<path d="M827.6 247.6V260.0M827.8 247.6V260.0M828.0 247.6V260.0M829.8 247.6V260.0M833.1 247.6V260.0M839.1 247.6V260.0M839.1 247.6V260.0M841.6 247.6V260.0M842.2 247.6V260.0M845.3 247.6V260.0M846.2 247.6V260.0M846.3 247.6V260.0M846.7 247.6V260.0M847.0 247.6V260.0M848.6 247.6V260.0M848.8 247.6V260.0M851.1 247.6V260.0M853.3 247.6V260.0M854.1 247.6V260.0M855.9 247.6V260.0M857.7 247.6V260.0M859.0 247.6V260.0M859.2 247.6V260.0M859.4 247.6V260.0M860.4 247.6V260.0M862.1 247.6V260.0M863.9 247.6V260.0M864.2 247.6V260.0M864.2 247.6V260.0M867.7 247.6V260.0M868.3 247.6V260.0M868.6 247.6V260.0M869.3 247.6V260.0M871.1 247.6V260.0M873.8 247.6V260.0M874.5 247.6V260.0M875.8 247.6V260.0M876.1 247.6V260.0M877.3 247.6V260.0M878.0 247.6V260.0M878.3 247.6V260.0M878.6 247.6V260.0M879.5 247.6V260.0M880.9 247.6V260.0M881.7 247.6V260.0M882.2 247.6V260.0M882.7 247.6V260.0M882.9 247.6V260.0M884.4 247.6V260.0M884.8 247.6V260.0M885.3 247.6V260.0M886.4 247.6V260.0M886.7 247.6V260.0M888.7 247.6V260.0M889.2 247.6V260.0M889.2 247.6V260.0M890.1 247.6V260.0M890.1 247.6V260.0M890.4 247.6V260.0M891.4 247.6V260.0M891.6 247.6V260.0M894.1 247.6V260.0M895.6 247.6V260.0M897.4 247.6V260.0M897.5 247.6V260.0M908.3 247.6V260.0M908.5 247.6V260.0M910.7 247.6V260.0M911.0 247.6V260.0M913.3 247.6V260.0M915.5 247.6V260.0M919.8 247.6V260.0M921.4 247.6V260.0M922.1 247.6V260.0M923.8 247.6V260.0M927.3 247.6V260.0M930.6 247.6V260.0M931.1 247.6V260.0M934.2 247.6V260.0M938.3 247.6V260.0M939.1 247.6V260.0M941.7 247.6V260.0M942.3 247.6V260.0M943.8 247.6V260.0M946.4 247.6V260.0M946.8 247.6V260.0M947.6 247.6V260.0M948.0 247.6V260.0M952.0 247.6V260.0M970.0 247.6V260.0M970.2 247.6V260.0M972.0 247.6V260.0M973.5 247.6V260.0M978.0 247.6V260.0M984.0 247.6V260.0M985.3 247.6V260.0M988.4 247.6V260.0M989.2 247.6V260.0M990.0 247.6V260.0M992.0 247.6V260.0M996.1 247.6V260.0M996.2 247.6V260.0M996.5 247.6V260.0M1000.5 247.6V260.0M1002.8 247.6V260.0M1004.0 247.6V260.0M1004.3 247.6V260.0M1005.7 247.6V260.0M1006.4 247.6V260.0M1007.9 247.6V260.0M1012.5 247.6V260.0M1038.0 247.6V260.0M1038.2 247.6V260.0M1065.6 247.6V260.0M1068.1 247.6V260.0M1098.6 247.6V260.0M1103.1 247.6V260.0M1104.8 247.6V260.0M1107.4 247.6V260.0M1110.3 247.6V260.0M1110.7 247.6V260.0M1110.9 247.6V260.0M1112.3 247.6V260.0M1119.9 247.6V260.0M1121.2 247.6V260.0M1126.5 247.6V260.0M1128.4 247.6V260.0M1143.0 247.6V260.0M1143.9 247.6V260.0M1165.1 247.6V260.0M1165.9 247.6V260.0M1192.7 247.6V260.0M1194.6 247.6V260.0M1197.1 247.6V260.0M1214.7 247.6V260.0M1260.3 247.6V260.0M1261.0 247.6V260.0M1280.5 247.6V260.0M1284.8 247.6V260.0M1284.8 247.6V260.0" stroke="#d73027" stroke-width="1.10" fill="none"/>
<polygon points="826.3,312.3 828.9,315.6 835.5,318.2 851.9,322.1 868.2,325.1 901.0,327.9 966.5,329.3 1032.0,330.1 1097.4,330.5 1195.7,331.9 1244.8,333.6 1277.5,336.9 1300.5,342.8 1310.3,347.7 1312.6,350.6 1312.6,330.3 826.3,330.3" fill="#bebebe"/>
<path d="M826.3 36.3V354.2H1312.5" stroke="#111" stroke-width="1.60" fill="none"/>
<line x1="822.80" y1="66.00" x2="826.30" y2="66.00" stroke="#333" stroke-width="1.00"/>
<text x="820.80" y="69.40" font-size="9.60" text-anchor="end" fill="#4d4d4d">0.50</text>
<line x1="822.80" y1="96.50" x2="826.30" y2="96.50" stroke="#333" stroke-width="1.00"/>
<text x="820.80" y="99.90" font-size="9.60" text-anchor="end" fill="#4d4d4d">0.25</text>
<line x1="822.80" y1="126.90" x2="826.30" y2="126.90" stroke="#333" stroke-width="1.00"/>
<text x="820.80" y="130.30" font-size="9.60" text-anchor="end" fill="#4d4d4d">0.00</text>
<line x1="822.80" y1="157.70" x2="826.30" y2="157.70" stroke="#333" stroke-width="1.00"/>
<text x="820.80" y="161.10" font-size="9.60" text-anchor="end" fill="#4d4d4d">-0.25</text>
<line x1="822.80" y1="188.50" x2="826.30" y2="188.50" stroke="#333" stroke-width="1.00"/>
<text x="820.80" y="191.90" font-size="9.60" text-anchor="end" fill="#4d4d4d">-0.50</text>
<line x1="822.80" y1="270.80" x2="826.30" y2="270.80" stroke="#333" stroke-width="1.00"/>
<text x="820.80" y="274.20" font-size="9.60" text-anchor="end" fill="#4d4d4d">20</text>
<line x1="822.80" y1="300.60" x2="826.30" y2="300.60" stroke="#333" stroke-width="1.00"/>
<text x="820.80" y="304.00" font-size="9.60" text-anchor="end" fill="#4d4d4d">10</text>
<line x1="822.80" y1="330.30" x2="826.30" y2="330.30" stroke="#333" stroke-width="1.00"/>
<text x="820.80" y="333.70" font-size="9.60" text-anchor="end" fill="#4d4d4d">0</text>
<line x1="932.10" y1="354.20" x2="932.10" y2="357.70" stroke="#333" stroke-width="1.00"/>
<text x="932.10" y="367.40" font-size="9.60" text-anchor="middle" fill="#4d4d4d">5000</text>
<line x1="1038.10" y1="354.20" x2="1038.10" y2="357.70" stroke="#333" stroke-width="1.00"/>
<text x="1038.10" y="367.40" font-size="9.60" text-anchor="middle" fill="#4d4d4d">10000</text>
<line x1="1144.20" y1="354.20" x2="1144.20" y2="357.70" stroke="#333" stroke-width="1.00"/>
<text x="1144.20" y="367.40" font-size="9.60" text-anchor="middle" fill="#4d4d4d">15000</text>
<line x1="1250.20" y1="354.20" x2="1250.20" y2="357.70" stroke="#333" stroke-width="1.00"/>
<text x="1250.20" y="367.40" font-size="9.60" text-anchor="middle" fill="#4d4d4d">20000</text>
<text x="1077.50" y="394.40" font-size="20.87" text-anchor="middle" textLength="222.00" lengthAdjust="spacingAndGlyphs">Rank in Ordered Dataset</text>
<text x="793.50" y="110.50" font-size="17.36" text-anchor="middle" textLength="199.50" lengthAdjust="spacingAndGlyphs" transform="rotate(-90 793.50 110.50)">Running Enrichment Score</text>
<text x="793.50" y="311.00" font-size="17.33" text-anchor="middle" textLength="138.00" lengthAdjust="spacingAndGlyphs" transform="rotate(-90 793.50 311.00)">Ranked List Metric</text>
<text x="1300.50" y="33.40" font-size="20.95" font-weight="bold" text-anchor="end" textLength="234.00" lengthAdjust="spacingAndGlyphs">RT112 siFOXA1 vs siCtrl</text>
<text x="1305.80" y="57.40" font-size="20.82" font-weight="bold" text-anchor="end" textLength="192.50" lengthAdjust="spacingAndGlyphs">Msig HallmarkGSEA</text>
<rect x="831.80" y="431.90" width="29.50" height="7.00" fill="#74add1"/>
<text x="877.60" y="442.50" font-size="19.87" textLength="134.50" lengthAdjust="spacingAndGlyphs">E2F_TARGETS</text>
<rect x="831.80" y="452.60" width="29.50" height="7.00" fill="#4575b4"/>
<text x="877.60" y="463.20" font-size="19.73" textLength="176.00" lengthAdjust="spacingAndGlyphs">G2M_CHECKPOINT</text>
<rect x="831.80" y="473.50" width="29.50" height="7.00" fill="#d73027"/>
<text x="877.60" y="484.10" font-size="19.79" textLength="313.00" lengthAdjust="spacingAndGlyphs">INTERFERON_ALPHA_RESPONSE</text>
<rect x="831.80" y="494.20" width="29.50" height="7.00" fill="#f46d43"/>
<text x="877.60" y="504.80" font-size="19.79" textLength="322.50" lengthAdjust="spacingAndGlyphs">INTERFERON_GAMMA_RESPONSE</text>
<rect x="831.80" y="515.00" width="29.50" height="7.00" fill="#fdae1f"/>
<text x="877.60" y="525.60" font-size="19.83" textLength="266.00" lengthAdjust="spacingAndGlyphs">TNFA_SIGNALING_VIA_NFKB</text>
</g>
<g id="gsea2">
<polyline points="1415.4,125.1 1418.3,125.9 1421.0,126.5 1423.2,127.1 1425.3,127.6 1426.8,128.0 1428.2,128.4 1429.3,128.6 1431.8,129.3 1433.8,129.9 1435.6,130.2 1438.1,131.0 1440.5,131.6 1443.4,132.4 1446.0,133.0 1448.1,133.6 1449.8,133.9 1451.8,134.6 1453.5,135.0 1453.5,133.2 1455.0,133.5 1457.3,134.0 1458.7,134.5 1461.3,135.1 1462.6,135.4 1463.7,135.8 1465.9,136.5 1467.6,136.8 1469.2,137.3 1471.8,138.0 1473.3,138.3 1475.9,139.1 1477.5,139.5 1479.0,139.8 1481.9,140.4 1484.8,140.9 1487.7,141.4 1489.6,141.8 1492.2,142.5 1492.5,142.5 1495.1,143.1 1497.2,143.6 1499.7,144.0 1502.7,144.6 1504.1,144.9 1506.1,145.3 1508.9,146.1 1510.4,146.2 1512.5,146.6 1514.6,147.2 1516.1,147.5 1519.0,148.1 1520.7,148.5 1521.0,148.5 1521.0,148.2 1523.8,148.7 1523.8,148.5 1526.2,148.9 1526.2,148.7 1528.0,149.1 1528.0,148.8 1530.4,149.3 1530.4,149.0 1533.1,149.5 1533.1,149.3 1535.4,149.7 1535.4,149.5 1536.9,149.8 1536.9,149.7 1538.5,150.0 1538.5,149.9 1539.0,150.0 1541.6,150.6 1543.7,151.1 1544.9,151.3 1546.6,151.7 1549.3,152.2 1552.2,152.7 1554.4,153.3 1555.9,153.6 1557.8,154.0 1560.0,154.5 1561.1,154.7 1563.6,155.0 1566.4,155.5 1568.8,155.9 1570.7,156.3 1571.9,156.6 1573.9,156.9 1576.0,157.2 1578.1,157.5 1580.9,158.0 1583.6,158.6 1585.6,158.9 1588.0,159.3 1589.6,159.5 1590.0,159.6 1591.6,160.1 1593.4,160.3 1595.2,160.9 1597.2,161.3 1598.8,161.6 1600.0,161.8 1601.5,162.3 1603.6,162.6 1605.5,163.1 1607.7,163.7 1610.4,164.2 1613.1,164.9 1616.1,165.6 1617.2,165.9 1618.8,166.2 1620.0,166.5 1622.7,167.1 1625.2,167.8 1627.5,168.3 1628.8,168.8 1631.1,169.2 1634.0,170.1 1635.4,170.3 1637.7,170.8 1640.2,171.5 1642.6,172.2 1645.1,172.9 1647.4,173.4 1649.1,173.7 1650.0,174.0 1652.7,174.7 1654.6,175.2 1656.9,175.9 1659.6,176.6 1661.3,177.1 1663.8,177.8 1665.5,178.3 1668.5,179.1 1669.8,179.3 1672.3,180.1 1673.5,180.3 1675.9,181.1 1678.0,181.5 1679.9,182.0 1680.0,182.1 1681.9,182.6 1684.1,183.0 1685.6,183.4 1688.0,183.9 1689.4,184.3 1691.5,184.9 1693.6,185.3 1695.5,185.7 1698.4,186.4 1700.7,186.8 1701.9,187.2 1703.7,187.5 1704.8,187.7 1706.7,188.3 1709.1,188.8 1710.0,189.0 1711.6,189.2 1713.8,189.5 1716.0,190.0 1718.1,190.2 1719.3,190.5 1720.6,190.7 1722.3,191.0 1724.8,191.4 1725.0,191.4 1725.0,191.2 1726.4,191.5 1726.4,191.3 1728.2,191.7 1728.2,191.3 1731.1,191.9 1731.1,191.7 1732.7,192.0 1732.7,191.8 1734.3,192.1 1734.3,191.9 1736.3,192.3 1736.3,192.1 1738.4,192.5 1738.4,192.3 1740.0,192.6 1740.0,192.2 1741.6,192.5 1741.6,191.7 1744.6,192.2 1744.6,191.9 1745.6,192.1 1745.6,191.5 1748.2,191.9 1748.2,191.4 1750.4,191.8 1750.4,191.0 1753.2,191.5 1753.2,191.2 1754.6,191.4 1754.6,191.3 1755.0,191.4 1755.0,190.5 1757.9,191.1 1757.9,190.3 1760.3,190.8 1760.3,190.4 1761.5,190.6 1761.5,189.7 1764.4,190.3 1764.4,189.4 1767.3,189.9 1767.3,189.5 1768.6,189.8 1768.6,189.3 1770.0,189.6 1770.0,189.1 1771.2,189.3 1771.2,188.8 1772.4,189.0 1772.4,187.9 1775.0,188.4 1775.0,187.3 1777.5,187.8 1777.5,186.6 1780.4,187.1 1780.4,186.1 1782.7,186.6 1782.7,185.7 1784.7,186.1 1784.7,185.9 1785.0,186.0 1785.0,183.4 1787.2,183.8 1787.2,180.3 1790.2,180.8 1790.2,178.1 1792.5,178.5 1792.5,176.7 1794.0,177.0 1794.0,175.3 1795.4,175.6 1795.4,172.6 1797.9,173.1 1797.9,170.6 1800.0,171.0 1800.0,169.3 1801.2,169.5 1801.2,165.7 1803.8,166.2 1803.8,164.2 1805.2,164.5 1805.2,163.4 1806.0,163.5 1806.0,161.9 1807.2,162.1 1807.2,158.8 1809.5,159.3 1809.5,157.4 1810.8,157.7 1810.8,154.0 1813.5,154.5 1813.5,151.7 1814.6,151.9 1814.6,144.8 1817.2,145.3 1817.2,139.1 1819.5,139.5 1821.7,140.1 1824.3,140.9 1825.6,141.3 1827.3,141.8 1829.4,142.4 1830.0,142.5 1830.0,137.9 1832.7,138.4 1832.7,136.4 1833.9,136.6 1833.9,133.8 1835.6,134.1 1835.6,133.4 1836.0,133.5 1836.0,132.0 1838.2,132.4 1838.2,130.5 1840.9,131.0 1840.9,130.3 1842.0,130.5 1842.0,129.7 1844.6,130.2 1844.6,129.4 1847.2,129.8 1847.2,129.4 1848.6,129.7 1848.6,129.3 1849.9,129.5 1849.9,128.8 1852.1,129.2 1852.1,128.6 1854.0,129.0 1854.0,128.9 1856.3,129.3 1856.3,129.2 1858.1,129.5 1858.1,129.4 1860.2,129.8 1860.2,129.6 1862.8,130.1 1862.8,130.0 1864.9,130.4 1864.9,130.3 1866.0,130.5 1868.2,131.1 1870.8,131.8 1872.4,132.1 1875.0,132.8 1878.0,133.6 1878.0,133.5 1880.0,134.0 1881.5,134.5 1884.5,135.3 1885.7,135.5 1887.5,136.2 1889.4,136.5 1891.5,137.1 1892.7,137.5 1894.5,138.0 1894.5,133.2 1896.0,133.5 1898.5,134.3 1900.6,135.1 1903.2,135.9 1904.3,136.4 1905.0,136.5 1905.0,132.0" stroke="#74add1" stroke-width="1.80" fill="none" stroke-linejoin="miter"/>
<polyline points="1415.4,125.1 1417.9,125.6 1420.5,126.1 1421.7,126.4 1423.7,126.9 1425.5,127.3 1427.3,127.6 1428.7,128.0 1431.6,128.4 1434.0,129.0 1434.0,126.0 1436.6,126.7 1437.8,127.1 1440.4,127.8 1443.3,128.6 1445.6,129.3 1446.9,129.5 1449.0,130.1 1450.5,130.5 1450.5,127.2 1452.0,127.5 1454.3,128.1 1457.2,128.8 1459.6,129.4 1461.5,129.8 1462.8,130.1 1464.5,130.6 1465.7,130.9 1467.5,131.5 1470.0,132.0 1470.0,129.3 1471.5,129.6 1474.2,130.2 1475.5,130.6 1477.0,131.0 1478.9,131.5 1480.4,131.7 1482.7,132.4 1484.2,132.8 1487.2,133.5 1490.1,134.3 1491.0,134.4 1493.5,135.0 1496.0,135.5 1498.1,136.1 1500.0,136.5 1501.2,136.8 1502.8,137.3 1504.1,137.4 1505.4,137.8 1507.3,138.4 1509.0,138.7 1511.4,139.3 1513.5,139.9 1515.5,140.4 1517.7,141.0 1520.3,141.7 1522.8,142.1 1524.8,142.8 1527.4,143.4 1530.0,144.0 1530.0,143.4 1532.7,143.9 1532.7,143.4 1534.8,143.8 1534.8,143.3 1537.1,143.7 1537.1,143.5 1538.2,143.7 1538.2,143.2 1540.2,143.6 1540.2,143.0 1542.6,143.5 1542.6,143.0 1545.0,143.4 1545.0,143.3 1547.7,143.8 1547.7,143.7 1549.6,144.0 1549.6,144.0 1551.1,144.3 1551.1,144.1 1553.9,144.6 1553.9,144.5 1556.2,145.0 1556.2,144.9 1557.6,145.2 1557.6,145.1 1558.8,145.3 1558.8,145.3 1560.0,145.5 1562.2,145.7 1565.2,146.3 1567.7,146.7 1569.2,146.9 1570.6,147.1 1572.5,147.4 1573.8,147.5 1575.6,147.7 1577.4,148.2 1580.2,148.5 1582.9,148.9 1584.4,149.2 1586.0,149.3 1587.2,149.5 1588.6,149.9 1589.8,150.0 1590.0,150.0 1592.5,150.4 1594.2,150.9 1595.3,151.0 1597.0,151.4 1599.3,151.8 1602.0,152.4 1604.6,152.8 1605.8,153.1 1607.0,153.4 1608.4,153.6 1611.1,154.2 1613.1,154.6 1615.7,155.0 1616.9,155.4 1617.9,155.6 1620.0,156.0 1622.7,156.7 1624.5,157.3 1626.7,157.9 1629.2,158.9 1631.4,159.4 1634.0,160.3 1636.7,161.0 1637.9,161.4 1640.6,162.2 1642.3,162.8 1644.5,163.3 1647.1,164.1 1648.6,164.7 1649.8,165.0 1650.0,165.0 1652.2,165.6 1655.0,166.3 1656.2,166.7 1657.7,167.1 1659.0,167.4 1661.1,168.0 1662.7,168.5 1663.9,169.0 1666.7,169.6 1669.4,170.4 1671.8,171.0 1674.3,171.9 1675.9,172.2 1677.6,172.8 1680.0,173.4 1681.4,173.7 1683.8,174.2 1686.8,174.6 1689.3,175.1 1690.7,175.4 1692.2,175.7 1693.9,176.0 1696.8,176.6 1698.9,177.0 1700.3,177.3 1702.9,177.8 1704.8,178.1 1706.0,178.3 1708.3,178.9 1710.0,179.1 1710.0,179.0 1711.7,179.3 1711.7,179.1 1714.2,179.6 1714.2,179.4 1717.0,179.9 1717.0,179.7 1719.9,180.3 1719.9,180.1 1722.3,180.6 1722.3,180.5 1724.0,180.8 1724.0,180.7 1725.0,180.9 1725.0,180.7 1726.1,180.9 1726.1,180.6 1728.2,181.0 1728.2,180.7 1730.2,181.1 1730.2,180.7 1733.0,181.2 1733.0,180.9 1735.2,181.3 1735.2,181.1 1736.7,181.4 1736.7,181.2 1738.0,181.4 1738.0,181.3 1739.2,181.5 1739.2,181.3 1740.0,181.5 1740.0,180.9 1742.6,181.4 1742.6,181.0 1744.4,181.3 1744.4,181.0 1745.8,181.3 1745.8,180.8 1748.0,181.2 1748.0,180.9 1749.4,181.1 1749.4,180.6 1751.5,181.0 1751.5,180.6 1753.2,181.0 1753.2,180.6 1754.9,180.9 1754.9,180.9 1755.0,180.9 1755.0,180.4 1756.5,180.7 1756.5,180.1 1758.2,180.4 1758.2,179.6 1760.4,180.0 1760.4,179.0 1763.3,179.6 1763.3,179.1 1764.6,179.4 1764.6,178.8 1766.3,179.1 1766.3,178.5 1767.8,178.8 1767.8,178.3 1769.5,178.6 1769.5,178.4 1770.0,178.5 1770.0,177.0 1772.7,177.5 1772.7,176.7 1774.1,177.0 1774.1,175.6 1776.5,176.1 1776.5,175.0 1778.4,175.4 1778.4,174.1 1780.6,174.5 1780.6,173.7 1782.0,174.0 1782.0,172.5 1784.2,172.9 1784.2,171.9 1785.6,172.2 1785.6,170.6 1787.9,171.1 1787.9,169.8 1789.7,170.1 1789.7,168.4 1792.3,168.9 1792.3,167.7 1794.0,168.0 1794.0,165.8 1795.8,166.2 1795.8,162.6 1798.8,163.2 1798.8,161.8 1800.0,162.0 1800.0,160.5 1801.1,160.7 1801.1,158.8 1802.4,159.0 1802.4,155.6 1804.8,156.0 1804.8,154.3 1806.0,154.5 1806.0,154.5 1806.0,154.5 1806.0,153.3 1807.2,153.5 1807.2,151.9 1808.9,152.2 1808.9,150.0 1811.1,150.4 1811.1,149.3 1812.2,149.5 1812.2,148.3 1813.5,148.5 1813.5,140.4 1816.5,141.0 1816.5,134.4 1819.0,134.8 1819.0,133.4 1819.5,133.5 1819.5,133.4 1822.3,133.9 1822.3,133.8 1824.5,134.2 1824.5,134.1 1827.1,134.6 1827.1,134.5 1828.8,134.8 1828.8,134.8 1830.0,135.0 1830.0,130.9 1832.4,131.4 1832.4,127.1 1835.0,127.6 1835.0,125.8 1836.0,126.0 1836.0,124.4 1837.3,124.7 1837.3,122.4 1839.2,122.8 1839.2,120.8 1840.9,121.1 1840.9,119.8 1842.0,120.0 1842.0,119.5 1843.3,119.8 1843.3,118.9 1845.8,119.4 1845.8,118.9 1847.1,119.1 1847.1,118.5 1848.9,118.9 1848.9,118.5 1849.9,118.7 1849.9,118.3 1851.0,118.5 1851.0,118.3 1853.3,118.7 1853.3,118.6 1854.5,118.8 1854.5,118.6 1857.4,119.1 1857.4,118.9 1860.0,119.4 1862.5,120.0 1864.9,120.3 1866.5,120.6 1867.6,121.0 1869.8,121.3 1872.3,121.8 1873.9,122.1 1875.4,122.6 1877.4,122.9 1878.0,123.0 1878.0,126.0 1878.0,125.8 1880.4,126.2 1880.4,126.0 1882.1,126.3 1882.1,126.0 1885.0,126.6 1885.0,126.5 1886.3,126.7 1886.3,126.5 1888.1,126.8 1888.1,126.5 1890.9,127.1 1890.9,126.8 1893.3,127.3 1893.3,127.1 1895.0,127.4 1895.0,127.3 1896.0,127.5 1898.5,128.0 1900.1,128.2 1902.4,128.6 1904.5,129.0 1905.0,129.0 1905.0,124.5" stroke="#4575b4" stroke-width="1.80" fill="none" stroke-linejoin="miter"/>
<polyline points="1415.4,125.1 1416.9,125.5 1418.3,125.9 1420.0,126.5 1421.7,126.9 1424.4,127.6 1426.6,128.2 1428.4,128.7 1430.8,129.4 1432.2,129.8 1434.2,130.4 1436.1,131.0 1438.5,131.6 1440.0,132.0 1441.8,132.4 1444.2,133.0 1445.4,133.3 1446.5,133.5 1448.3,134.0 1450.2,134.5 1451.7,134.9 1453.4,135.3 1455.4,135.9 1456.5,136.0 1458.5,136.7 1460.7,137.2 1463.7,138.0 1466.3,138.7 1467.5,138.8 1470.0,139.5 1471.8,140.0 1473.0,140.3 1475.3,140.8 1477.9,141.5 1479.9,141.9 1482.5,142.5 1484.1,142.9 1485.2,143.3 1486.3,143.6 1488.0,143.9 1490.0,144.5 1491.5,144.9 1493.2,145.2 1496.1,146.1 1497.6,146.4 1499.8,146.9 1500.0,147.0 1501.6,147.3 1503.5,147.7 1505.0,148.3 1507.6,148.7 1510.5,149.4 1513.3,150.1 1516.1,150.7 1518.8,151.3 1520.6,151.8 1523.2,152.5 1524.5,152.7 1525.9,153.0 1527.2,153.3 1528.8,153.7 1531.7,154.4 1534.2,154.9 1535.9,155.4 1536.0,155.4 1536.0,154.9 1537.1,155.1 1537.1,154.3 1538.7,154.6 1538.7,154.4 1539.0,154.5 1540.2,154.8 1541.7,155.2 1542.8,155.4 1545.2,156.1 1546.6,156.5 1547.7,156.8 1550.3,157.4 1553.0,158.0 1555.3,158.6 1557.0,159.0 1557.0,158.8 1558.8,159.1 1558.8,158.8 1561.5,159.3 1561.5,159.1 1563.2,159.4 1563.2,159.1 1565.3,159.6 1565.3,159.5 1566.0,159.6 1566.0,159.3 1567.2,159.5 1567.2,158.7 1569.9,159.2 1569.9,158.7 1571.7,159.0 1571.7,158.5 1573.5,158.9 1573.5,158.0 1576.4,158.6 1576.4,158.1 1578.0,158.4 1579.4,158.6 1581.3,159.0 1582.9,159.2 1585.8,159.7 1587.9,160.1 1590.5,160.4 1593.0,160.9 1594.4,161.1 1596.0,161.4 1596.0,160.7 1598.7,161.2 1598.7,160.5 1601.5,161.0 1601.5,160.5 1603.5,160.8 1603.5,160.2 1605.8,160.7 1605.8,160.2 1607.7,160.5 1607.7,160.4 1608.0,160.5 1610.1,161.0 1613.1,161.8 1614.2,162.1 1615.4,162.3 1617.4,162.8 1619.3,163.3 1620.0,163.5 1622.3,164.1 1623.5,164.3 1624.7,164.7 1626.7,165.2 1627.8,165.5 1629.1,165.8 1631.8,166.6 1634.0,166.9 1635.6,167.4 1638.0,168.1 1640.7,168.6 1642.0,169.0 1643.5,169.4 1645.5,169.9 1647.3,170.4 1648.9,170.7 1650.0,171.0 1651.6,171.4 1653.9,172.0 1655.4,172.5 1658.1,173.2 1660.6,173.9 1662.9,174.5 1665.5,175.1 1667.2,175.6 1668.7,176.0 1670.8,176.5 1672.0,176.8 1673.4,177.3 1675.7,178.0 1677.8,178.5 1679.7,178.9 1680.0,179.1 1682.5,179.5 1684.2,179.9 1686.6,180.3 1688.4,180.6 1690.5,181.1 1691.9,181.3 1694.7,181.8 1696.1,182.2 1698.4,182.5 1700.3,182.8 1701.0,183.0 1701.0,182.6 1702.6,182.9 1702.6,182.4 1704.5,182.8 1704.5,182.0 1707.3,182.6 1707.3,182.1 1709.4,182.4 1709.4,182.3 1710.0,182.4 1710.0,182.1 1711.7,182.5 1711.7,182.2 1713.3,182.5 1713.3,182.2 1715.6,182.6 1715.6,182.3 1718.0,182.7 1718.0,182.5 1719.3,182.8 1719.3,182.6 1720.4,182.8 1720.4,182.5 1722.2,182.9 1722.2,182.7 1723.6,182.9 1723.6,182.7 1725.0,183.0 1725.0,182.4 1726.4,182.7 1726.4,181.8 1728.4,182.2 1728.4,181.3 1730.4,181.7 1730.4,180.4 1733.3,180.9 1733.3,180.2 1735.0,180.5 1735.0,179.8 1736.6,180.1 1736.6,179.9 1737.0,180.0 1737.0,178.8 1739.3,179.2 1739.3,178.4 1740.9,178.7 1740.9,177.9 1742.4,178.2 1742.4,176.9 1744.8,177.4 1744.8,176.8 1746.0,177.0 1746.0,176.6 1747.2,176.8 1747.2,175.8 1749.9,176.4 1749.9,175.9 1751.2,176.1 1751.2,175.6 1752.8,175.9 1752.8,175.1 1754.9,175.5 1754.9,175.5 1755.0,175.5 1755.0,173.7 1757.5,174.2 1757.5,173.3 1758.9,173.6 1758.9,172.0 1761.2,172.4 1761.2,171.4 1762.6,171.7 1762.6,170.8 1763.9,171.1 1763.9,171.0 1764.0,171.0 1764.0,168.4 1766.6,168.9 1766.6,167.6 1767.8,167.8 1767.8,166.7 1768.9,166.9 1768.9,165.4 1770.4,165.7 1770.4,163.5 1772.6,163.9 1772.6,163.4 1773.0,163.5 1773.0,160.5 1775.9,161.1 1775.9,160.0 1777.0,160.2 1777.0,157.6 1779.5,158.1 1779.5,155.5 1782.0,156.0 1782.0,153.3 1783.8,153.6 1783.8,149.6 1786.4,150.1 1786.4,148.0 1787.8,148.2 1787.8,144.3 1790.4,144.8 1790.4,143.9 1791.0,144.0 1791.0,139.4 1793.7,139.9 1793.7,135.5 1796.3,136.0 1796.3,134.9 1797.0,135.0 1797.0,127.6 1799.7,128.2 1799.7,127.5 1800.0,127.5 1800.0,126.5 1801.1,126.8 1801.1,125.6 1802.5,125.8 1802.5,123.7 1805.0,124.2 1805.0,122.4 1807.1,122.8 1807.1,121.1 1809.0,121.5 1809.0,120.3 1811.0,120.7 1811.0,120.1 1812.1,120.3 1812.1,118.6 1814.9,119.1 1814.9,118.2 1816.5,118.5 1816.5,112.2 1818.0,112.5 1818.0,112.4 1820.0,112.8 1820.0,112.6 1822.8,113.1 1822.8,113.0 1824.8,113.3 1824.8,113.2 1826.9,113.6 1826.9,113.4 1829.5,113.9 1829.5,113.9 1830.0,114.0 1830.0,111.4 1832.7,111.9 1832.7,111.5 1833.0,111.6 1834.7,111.9 1836.8,112.3 1837.8,112.6 1840.3,113.1 1840.5,113.1 1840.5,110.7 1842.0,111.0 1844.8,111.6 1846.4,112.0 1848.8,112.5 1849.9,112.9 1851.0,113.2 1851.0,113.1 1851.0,110.1 1852.5,110.4 1855.2,111.1 1857.3,111.7 1858.9,112.0 1861.9,112.9 1864.5,113.6 1865.7,113.9 1867.2,114.4 1869.8,115.0 1871.8,115.7 1873.8,116.1 1875.9,116.6 1878.0,117.2 1880.1,117.7 1881.2,118.2 1883.3,118.6 1885.1,119.2 1886.9,119.6 1888.8,120.2 1891.1,120.8 1893.4,121.3 1896.2,122.1 1897.7,122.5 1900.3,123.3 1902.7,123.8 1905.0,124.5" stroke="#2a2d8c" stroke-width="1.80" fill="none" stroke-linejoin="miter"/>
<polyline points="1415.4,125.1 1415.4,123.0 1418.2,123.6 1418.2,122.6 1419.5,122.9 1419.5,121.8 1421.0,122.1 1421.0,121.3 1422.0,121.5 1422.0,120.8 1423.3,121.0 1423.3,120.3 1424.6,120.6 1424.6,119.5 1426.7,119.9 1426.7,119.1 1428.0,119.4 1428.0,117.8 1430.0,118.1 1430.0,116.4 1432.1,116.8 1432.1,115.1 1434.0,115.5 1434.0,111.0 1436.7,111.5 1436.7,106.5 1439.6,107.1 1439.6,106.4 1440.0,106.5 1440.0,103.6 1442.0,104.0 1442.0,102.3 1443.2,102.5 1443.2,100.2 1444.8,100.5 1444.8,98.8 1446.0,99.0 1446.0,94.1 1448.9,94.6 1448.9,90.4 1451.4,90.9 1451.4,89.9 1452.0,90.0 1452.0,88.0 1453.7,88.3 1453.7,86.1 1455.6,86.4 1455.6,83.7 1457.9,84.1 1457.9,84.0 1458.0,84.0 1458.0,82.3 1459.7,82.6 1459.7,80.1 1462.1,80.6 1462.1,78.7 1464.0,79.0 1464.0,76.1 1466.8,76.7 1466.8,76.5 1467.0,76.5 1467.0,73.5 1469.5,74.0 1469.5,71.4 1471.7,71.8 1471.7,68.8 1474.2,69.3 1474.2,68.9 1474.5,69.0 1474.5,67.4 1476.3,67.7 1476.3,66.0 1478.2,66.3 1478.2,64.3 1480.5,64.7 1480.5,62.5 1482.9,63.0 1482.9,61.1 1485.0,61.5 1485.0,60.7 1486.8,61.1 1486.8,60.2 1488.8,60.6 1488.8,59.7 1490.8,60.1 1490.8,59.3 1492.6,59.6 1492.6,58.9 1494.3,59.2 1494.3,58.7 1495.4,58.9 1495.4,58.4 1496.6,58.6 1496.6,58.4 1497.0,58.5 1497.0,58.1 1498.2,58.3 1498.2,57.8 1500.0,58.1 1500.0,57.2 1502.9,57.8 1502.9,57.2 1504.8,57.5 1504.8,56.6 1507.6,57.2 1507.6,56.7 1509.0,57.0 1509.0,56.0 1511.9,56.5 1511.9,55.7 1514.2,56.1 1514.2,55.1 1517.1,55.6 1517.1,55.3 1518.0,55.5 1518.0,55.1 1519.2,55.3 1519.2,54.9 1520.3,55.1 1520.3,54.1 1523.2,54.7 1523.2,54.1 1524.9,54.4 1524.9,53.6 1527.2,54.1 1527.2,53.1 1530.1,53.6 1530.1,53.1 1531.5,53.4 1531.5,53.0 1533.6,53.4 1533.6,53.0 1535.3,53.3 1535.3,52.8 1537.5,53.3 1537.5,52.8 1539.9,53.2 1539.9,53.0 1541.1,53.2 1541.1,52.6 1543.7,53.1 1543.7,52.9 1544.8,53.1 1544.8,53.1 1545.0,53.1 1547.7,53.6 1550.4,54.1 1552.4,54.3 1554.3,54.6 1555.8,54.8 1557.8,55.0 1560.0,55.4 1560.0,55.5 1561.2,55.7 1563.1,56.2 1566.1,56.8 1568.7,57.2 1570.8,57.7 1573.7,58.3 1574.8,58.5 1577.3,59.1 1580.1,59.5 1582.0,59.8 1583.4,60.3 1585.9,60.8 1587.6,61.1 1588.7,61.2 1590.0,61.5 1591.6,62.1 1592.7,62.4 1595.0,63.1 1596.9,63.7 1599.0,64.2 1601.3,64.8 1603.5,65.5 1604.6,65.9 1605.7,66.3 1607.2,66.8 1608.9,67.2 1610.6,67.7 1612.0,68.0 1613.6,68.7 1616.4,69.4 1619.3,70.4 1620.0,70.5 1622.3,71.1 1624.0,71.6 1625.5,72.2 1626.9,72.5 1628.3,72.9 1630.8,73.7 1633.8,74.5 1634.9,74.9 1636.9,75.5 1638.8,76.2 1641.1,76.8 1643.9,77.6 1646.0,78.3 1648.6,79.1 1650.0,79.5 1651.4,79.7 1652.9,80.3 1655.8,80.9 1657.0,81.2 1659.9,81.9 1661.7,82.3 1663.7,82.9 1666.7,83.8 1668.7,84.3 1671.1,84.8 1673.7,85.3 1675.0,85.8 1677.1,86.3 1679.3,86.9 1680.0,87.0 1681.4,87.3 1684.1,88.0 1686.7,88.7 1688.4,89.2 1691.0,89.7 1693.1,90.3 1695.0,90.7 1697.2,91.4 1698.7,91.7 1700.5,92.1 1703.3,92.9 1704.6,93.1 1706.3,93.5 1707.6,93.9 1709.3,94.4 1710.0,94.5 1712.1,95.0 1714.4,95.4 1716.9,96.1 1718.5,96.4 1721.1,96.9 1723.3,97.5 1725.0,98.1 1726.4,98.2 1727.4,98.5 1728.6,98.7 1731.0,99.4 1732.4,99.7 1735.3,100.2 1736.7,100.6 1737.8,100.9 1740.0,101.4 1742.8,101.8 1744.9,102.2 1746.8,102.5 1749.1,102.9 1751.4,103.2 1752.5,103.6 1754.2,103.8 1756.3,104.2 1757.3,104.4 1760.3,104.8 1761.9,105.1 1764.2,105.5 1766.4,105.9 1767.9,106.2 1770.0,106.5 1770.0,106.4 1772.3,106.8 1772.3,106.7 1774.6,107.1 1774.6,106.9 1777.5,107.5 1777.5,107.4 1778.8,107.6 1778.8,107.5 1780.9,107.9 1780.9,107.8 1783.1,108.2 1783.1,108.1 1784.5,108.4 1784.5,108.3 1786.2,108.6 1786.2,108.5 1787.8,108.8 1787.8,108.7 1789.9,109.1 1789.9,108.9 1792.3,109.4 1792.3,109.3 1793.9,109.6 1793.9,109.5 1795.8,109.9 1795.8,109.8 1797.3,110.0 1797.3,109.9 1799.1,110.3 1799.1,110.2 1800.0,110.4 1802.8,110.8 1804.5,111.1 1807.3,111.7 1808.4,111.8 1810.2,112.1 1812.6,112.6 1814.4,113.0 1816.6,113.2 1819.0,113.5 1820.8,114.0 1822.2,114.1 1824.0,114.6 1825.5,114.7 1827.7,115.0 1829.5,115.5 1830.0,115.5 1832.1,116.0 1833.2,116.2 1834.9,116.6 1836.9,117.2 1839.2,117.7 1841.3,118.3 1842.8,118.5 1844.3,118.9 1845.0,119.1 1846.9,119.5 1848.9,119.7 1851.2,120.0 1853.2,120.4 1855.2,120.7 1857.5,121.1 1858.6,121.3 1860.0,121.5 1860.0,121.4 1861.8,121.7 1861.8,121.6 1863.2,121.9 1863.2,121.7 1865.8,122.2 1865.8,122.1 1867.2,122.3 1867.2,122.2 1868.8,122.5 1868.8,122.4 1870.5,122.7 1870.5,122.5 1873.3,123.1 1873.3,122.9 1875.3,123.3 1875.3,123.2 1876.6,123.4 1876.6,123.3 1878.0,123.6 1878.0,123.5 1879.7,123.8 1879.7,123.7 1882.3,124.2 1882.3,124.1 1883.4,124.3 1883.4,124.2 1884.9,124.5 1884.9,124.4 1887.3,124.8 1887.3,124.8 1888.6,125.0 1888.6,124.9 1890.8,125.3 1890.8,125.1 1893.4,125.7 1893.4,125.5 1895.4,125.9 1895.4,125.9 1896.0,126.0" stroke="#f46d43" stroke-width="1.80" fill="none" stroke-linejoin="miter"/>
<polyline points="1415.4,125.1 1415.4,123.0 1417.5,123.4 1417.5,120.8 1420.3,121.3 1420.3,119.7 1422.0,120.0 1422.0,119.0 1424.2,119.4 1424.2,118.4 1426.7,118.8 1426.7,118.2 1428.0,118.5 1428.0,116.0 1430.7,116.5 1430.7,114.8 1432.5,115.1 1432.5,113.7 1434.0,114.0 1434.0,110.4 1435.9,110.7 1435.9,105.5 1438.6,106.0 1438.6,103.2 1440.0,103.5 1440.0,101.1 1441.7,101.4 1441.7,98.3 1443.8,98.7 1443.8,95.6 1446.0,96.0 1446.0,92.4 1448.5,92.9 1448.5,90.8 1450.0,91.0 1450.0,88.2 1452.0,88.6 1452.0,88.5 1452.0,88.5 1452.0,85.8 1453.6,86.1 1453.6,81.7 1456.2,82.2 1456.2,79.8 1457.6,80.1 1457.6,79.4 1458.0,79.5 1458.0,76.9 1460.5,77.4 1460.5,74.4 1463.4,75.0 1463.4,73.0 1465.3,73.4 1465.3,72.2 1466.5,72.4 1466.5,71.9 1467.0,72.0 1467.0,68.8 1469.3,69.2 1469.3,65.7 1471.9,66.2 1471.9,62.5 1474.5,63.0 1474.5,61.8 1475.7,62.0 1475.7,60.0 1477.6,60.4 1477.6,57.8 1480.0,58.2 1480.0,56.6 1481.6,56.9 1481.6,54.1 1484.3,54.6 1484.3,53.9 1485.0,54.0 1485.0,52.9 1486.7,53.2 1486.7,51.8 1488.9,52.2 1488.9,51.5 1490.1,51.7 1490.1,50.2 1492.4,50.7 1492.4,48.8 1495.3,49.4 1495.3,48.3 1497.0,48.6 1497.0,48.3 1498.7,48.6 1498.7,48.1 1501.5,48.6 1501.5,48.4 1502.6,48.6 1502.6,48.2 1504.7,48.6 1504.7,48.4 1505.9,48.6 1505.9,48.2 1507.8,48.6 1507.8,48.4 1509.0,48.6 1509.0,48.1 1510.3,48.4 1510.3,47.4 1513.1,47.9 1513.1,47.0 1515.7,47.5 1515.7,46.7 1517.8,47.1 1517.8,47.1 1518.0,47.1 1518.0,46.5 1520.0,46.9 1520.0,46.4 1521.5,46.7 1521.5,46.1 1523.7,46.5 1523.7,45.8 1526.0,46.2 1526.0,45.3 1528.9,45.9 1528.9,45.4 1530.4,45.7 1530.4,45.4 1531.5,45.6 1532.9,46.0 1535.5,46.5 1537.4,47.0 1539.6,47.4 1541.5,47.8 1542.5,48.0 1545.0,48.6 1547.9,49.1 1550.2,49.4 1551.9,49.7 1554.5,50.2 1556.1,50.4 1558.0,50.7 1560.0,51.0 1562.9,51.7 1565.2,52.0 1566.3,52.3 1568.6,52.9 1569.7,53.2 1572.1,53.7 1573.7,54.0 1575.8,54.4 1577.9,55.0 1580.1,55.4 1583.1,56.0 1585.2,56.5 1586.4,56.8 1588.7,57.4 1590.0,57.6 1591.4,58.0 1592.5,58.3 1593.8,58.7 1596.3,59.4 1598.0,59.9 1600.1,60.4 1602.5,61.0 1605.4,62.0 1606.5,62.3 1608.4,62.6 1610.4,63.3 1611.5,63.5 1614.0,64.3 1616.8,65.1 1619.1,65.7 1620.0,66.0 1622.4,66.7 1624.5,67.4 1626.6,67.9 1628.0,68.5 1630.8,69.2 1633.0,70.0 1634.4,70.3 1637.0,71.1 1639.1,71.8 1640.9,72.2 1642.6,72.7 1644.5,73.3 1647.2,74.2 1649.6,74.9 1650.0,75.0 1651.9,75.5 1653.4,75.9 1656.3,76.8 1658.6,77.4 1660.5,77.9 1661.6,78.3 1663.5,78.7 1666.4,79.6 1667.5,79.8 1669.2,80.4 1670.2,80.6 1672.6,81.4 1674.3,81.9 1675.6,82.1 1676.7,82.4 1679.4,83.2 1680.0,83.4 1682.5,84.1 1685.4,84.9 1687.8,85.6 1690.1,86.1 1692.5,86.7 1695.1,87.4 1698.0,88.3 1700.9,89.1 1702.7,89.5 1704.6,89.9 1707.3,90.7 1708.8,91.1 1710.0,91.5 1711.9,91.9 1714.0,92.5 1715.4,92.9 1717.4,93.4 1718.5,93.7 1719.9,94.0 1721.3,94.3 1723.8,95.0 1726.8,95.6 1729.6,96.5 1731.3,96.9 1732.8,97.3 1734.5,97.6 1736.8,98.3 1738.5,98.5 1740.0,99.0 1742.5,99.5 1744.4,99.9 1746.3,100.4 1748.1,100.6 1750.9,101.1 1752.7,101.6 1755.0,102.0 1756.9,102.5 1759.7,102.9 1761.6,103.2 1762.9,103.5 1764.6,104.0 1766.0,104.2 1768.7,104.6 1770.0,105.0 1771.7,105.3 1774.6,105.6 1776.6,106.0 1779.2,106.5 1782.0,106.7 1783.7,106.9 1784.8,107.2 1786.7,107.5 1789.6,107.8 1792.6,108.4 1793.9,108.6 1795.2,108.7 1797.5,109.0 1799.8,109.5 1800.0,109.5 1801.7,109.8 1802.9,110.1 1805.5,110.5 1807.8,110.8 1810.1,111.3 1813.0,111.7 1814.1,112.1 1816.5,112.5 1817.7,112.7 1820.2,113.0 1822.8,113.6 1824.1,113.8 1826.0,114.2 1828.1,114.6 1830.0,114.9 1832.0,115.2 1835.0,115.9 1837.3,116.4 1838.7,116.5 1841.3,117.2 1842.7,117.4 1844.9,117.9 1845.0,117.9 1845.0,117.8 1847.0,118.2 1847.0,118.1 1848.4,118.4 1848.4,118.3 1851.0,118.7 1851.0,118.6 1852.8,119.0 1852.8,118.9 1854.4,119.2 1854.4,119.1 1855.7,119.4 1855.7,119.3 1857.2,119.6 1857.2,119.6 1858.5,119.8 1858.5,119.7 1859.9,120.0 1859.9,120.0 1860.0,120.0 1861.3,120.1 1863.7,120.5 1866.2,120.9 1867.9,121.2 1870.0,121.7 1872.5,122.1 1875.2,122.4 1877.4,122.8 1878.0,123.0 1878.0,122.8 1880.8,123.4 1880.8,123.3 1882.3,123.6 1882.3,123.5 1883.5,123.7 1883.5,123.6 1886.5,124.1 1886.5,124.1 1887.5,124.3 1887.5,124.1 1889.8,124.6 1889.8,124.5 1891.1,124.7 1891.1,124.6 1893.3,125.0 1893.3,124.9 1896.0,125.4 1896.0,125.4 1896.0,125.4" stroke="#d73027" stroke-width="1.80" fill="none" stroke-linejoin="miter"/>
<path d="M1434.0 200.5V212.9M1451.4 200.5V212.9M1466.9 200.5V212.9M1467.7 200.5V212.9M1468.1 200.5V212.9M1489.5 200.5V212.9M1521.6 200.5V212.9M1534.6 200.5V212.9M1535.3 200.5V212.9M1536.1 200.5V212.9M1541.9 200.5V212.9M1543.3 200.5V212.9M1544.3 200.5V212.9M1545.3 200.5V212.9M1546.5 200.5V212.9M1548.2 200.5V212.9M1548.6 200.5V212.9M1551.4 200.5V212.9M1552.0 200.5V212.9M1560.5 200.5V212.9M1561.2 200.5V212.9M1561.2 200.5V212.9M1561.6 200.5V212.9M1562.8 200.5V212.9M1563.6 200.5V212.9M1563.6 200.5V212.9M1565.5 200.5V212.9M1565.6 200.5V212.9M1565.7 200.5V212.9M1565.8 200.5V212.9M1566.2 200.5V212.9M1566.7 200.5V212.9M1567.3 200.5V212.9M1567.4 200.5V212.9M1568.0 200.5V212.9M1568.0 200.5V212.9M1569.9 200.5V212.9M1570.4 200.5V212.9M1571.4 200.5V212.9M1573.2 200.5V212.9M1573.4 200.5V212.9M1573.9 200.5V212.9M1574.1 200.5V212.9M1575.6 200.5V212.9M1575.7 200.5V212.9M1577.6 200.5V212.9M1577.7 200.5V212.9M1578.6 200.5V212.9M1579.2 200.5V212.9M1581.7 200.5V212.9M1582.9 200.5V212.9M1584.2 200.5V212.9M1585.0 200.5V212.9M1585.3 200.5V212.9M1586.3 200.5V212.9M1586.5 200.5V212.9M1587.7 200.5V212.9M1587.8 200.5V212.9M1588.0 200.5V212.9M1588.6 200.5V212.9M1589.3 200.5V212.9M1589.8 200.5V212.9M1592.5 200.5V212.9M1592.8 200.5V212.9M1593.4 200.5V212.9M1595.6 200.5V212.9M1596.6 200.5V212.9M1597.9 200.5V212.9M1598.2 200.5V212.9M1598.3 200.5V212.9M1598.6 200.5V212.9M1599.0 200.5V212.9M1599.0 200.5V212.9M1599.4 200.5V212.9M1600.0 200.5V212.9M1600.2 200.5V212.9M1600.3 200.5V212.9M1602.2 200.5V212.9M1604.5 200.5V212.9M1604.5 200.5V212.9M1606.6 200.5V212.9M1607.9 200.5V212.9M1609.2 200.5V212.9M1611.1 200.5V212.9M1611.1 200.5V212.9M1612.8 200.5V212.9M1613.4 200.5V212.9M1617.0 200.5V212.9M1618.0 200.5V212.9M1618.5 200.5V212.9M1619.1 200.5V212.9M1619.8 200.5V212.9M1620.8 200.5V212.9M1621.0 200.5V212.9M1622.8 200.5V212.9M1623.3 200.5V212.9M1625.1 200.5V212.9M1625.7 200.5V212.9M1625.9 200.5V212.9M1674.0 200.5V212.9M1693.1 200.5V212.9M1693.2 200.5V212.9M1693.4 200.5V212.9M1693.5 200.5V212.9M1693.7 200.5V212.9M1694.5 200.5V212.9M1694.6 200.5V212.9M1694.9 200.5V212.9M1695.3 200.5V212.9M1695.4 200.5V212.9M1695.7 200.5V212.9M1696.6 200.5V212.9M1697.4 200.5V212.9M1698.3 200.5V212.9M1698.5 200.5V212.9M1698.8 200.5V212.9M1699.5 200.5V212.9M1699.6 200.5V212.9M1699.9 200.5V212.9M1700.4 200.5V212.9M1700.5 200.5V212.9M1700.5 200.5V212.9M1700.9 200.5V212.9M1701.2 200.5V212.9M1702.9 200.5V212.9M1703.2 200.5V212.9M1703.5 200.5V212.9M1704.2 200.5V212.9M1704.4 200.5V212.9M1704.8 200.5V212.9M1704.8 200.5V212.9M1705.3 200.5V212.9M1705.3 200.5V212.9M1705.3 200.5V212.9M1705.7 200.5V212.9M1706.3 200.5V212.9M1707.5 200.5V212.9M1709.4 200.5V212.9M1709.7 200.5V212.9M1709.8 200.5V212.9M1710.1 200.5V212.9M1710.5 200.5V212.9M1711.2 200.5V212.9M1713.1 200.5V212.9M1713.8 200.5V212.9M1714.0 200.5V212.9M1714.1 200.5V212.9M1714.3 200.5V212.9M1714.3 200.5V212.9M1714.4 200.5V212.9M1714.7 200.5V212.9M1715.4 200.5V212.9M1715.5 200.5V212.9M1716.0 200.5V212.9M1716.3 200.5V212.9M1716.4 200.5V212.9M1716.8 200.5V212.9M1717.5 200.5V212.9M1718.9 200.5V212.9M1719.0 200.5V212.9M1719.3 200.5V212.9M1720.5 200.5V212.9M1720.5 200.5V212.9M1720.7 200.5V212.9M1721.8 200.5V212.9M1721.8 200.5V212.9M1721.8 200.5V212.9M1722.5 200.5V212.9M1723.9 200.5V212.9M1724.0 200.5V212.9M1724.4 200.5V212.9M1725.1 200.5V212.9M1725.4 200.5V212.9M1726.8 200.5V212.9M1727.2 200.5V212.9M1727.5 200.5V212.9M1727.7 200.5V212.9M1728.7 200.5V212.9M1730.7 200.5V212.9M1730.7 200.5V212.9M1733.0 200.5V212.9M1733.3 200.5V212.9M1733.8 200.5V212.9M1733.9 200.5V212.9M1733.9 200.5V212.9M1735.1 200.5V212.9M1735.3 200.5V212.9M1735.6 200.5V212.9M1736.8 200.5V212.9M1737.0 200.5V212.9M1737.7 200.5V212.9M1737.8 200.5V212.9M1738.3 200.5V212.9M1739.7 200.5V212.9M1739.7 200.5V212.9M1740.0 200.5V212.9M1740.1 200.5V212.9M1740.1 200.5V212.9M1741.4 200.5V212.9M1741.7 200.5V212.9M1742.1 200.5V212.9M1742.2 200.5V212.9M1743.0 200.5V212.9M1743.5 200.5V212.9M1743.7 200.5V212.9M1743.9 200.5V212.9M1744.5 200.5V212.9M1746.8 200.5V212.9M1748.7 200.5V212.9M1748.8 200.5V212.9M1749.7 200.5V212.9M1750.2 200.5V212.9M1750.2 200.5V212.9M1750.5 200.5V212.9M1750.9 200.5V212.9M1751.6 200.5V212.9M1752.3 200.5V212.9M1752.7 200.5V212.9M1752.7 200.5V212.9M1753.8 200.5V212.9M1754.2 200.5V212.9M1755.2 200.5V212.9M1755.4 200.5V212.9M1755.8 200.5V212.9M1756.2 200.5V212.9M1757.3 200.5V212.9M1758.3 200.5V212.9M1758.8 200.5V212.9M1759.3 200.5V212.9M1759.5 200.5V212.9M1760.2 200.5V212.9M1760.8 200.5V212.9M1761.1 200.5V212.9M1761.1 200.5V212.9M1761.3 200.5V212.9M1761.9 200.5V212.9M1761.9 200.5V212.9M1762.2 200.5V212.9M1762.2 200.5V212.9M1763.3 200.5V212.9M1763.7 200.5V212.9M1764.1 200.5V212.9M1764.5 200.5V212.9M1765.3 200.5V212.9M1765.6 200.5V212.9M1768.1 200.5V212.9M1769.0 200.5V212.9M1769.8 200.5V212.9M1769.9 200.5V212.9M1770.1 200.5V212.9M1770.2 200.5V212.9M1770.2 200.5V212.9M1770.5 200.5V212.9M1770.8 200.5V212.9M1770.9 200.5V212.9M1771.0 200.5V212.9M1771.1 200.5V212.9M1772.6 200.5V212.9M1772.7 200.5V212.9M1773.2 200.5V212.9M1773.2 200.5V212.9M1773.9 200.5V212.9M1774.1 200.5V212.9M1774.9 200.5V212.9M1775.7 200.5V212.9M1777.0 200.5V212.9M1778.1 200.5V212.9M1779.4 200.5V212.9M1779.5 200.5V212.9M1780.3 200.5V212.9M1781.0 200.5V212.9M1781.8 200.5V212.9M1782.2 200.5V212.9M1782.8 200.5V212.9M1783.5 200.5V212.9M1783.8 200.5V212.9M1784.3 200.5V212.9M1784.5 200.5V212.9M1785.0 200.5V212.9M1785.5 200.5V212.9M1786.1 200.5V212.9M1786.6 200.5V212.9M1787.2 200.5V212.9M1787.6 200.5V212.9M1789.4 200.5V212.9M1790.3 200.5V212.9M1790.6 200.5V212.9M1791.6 200.5V212.9M1792.1 200.5V212.9M1792.6 200.5V212.9M1792.6 200.5V212.9M1792.7 200.5V212.9M1793.0 200.5V212.9M1793.2 200.5V212.9M1793.4 200.5V212.9M1795.2 200.5V212.9M1795.2 200.5V212.9M1796.2 200.5V212.9M1798.2 200.5V212.9M1798.3 200.5V212.9M1799.4 200.5V212.9M1799.5 200.5V212.9M1800.0 200.5V212.9M1800.8 200.5V212.9M1801.9 200.5V212.9M1802.9 200.5V212.9M1803.7 200.5V212.9M1803.8 200.5V212.9M1804.0 200.5V212.9M1805.0 200.5V212.9M1805.1 200.5V212.9M1805.4 200.5V212.9M1805.6 200.5V212.9M1806.0 200.5V212.9M1806.4 200.5V212.9M1806.6 200.5V212.9M1806.7 200.5V212.9M1808.3 200.5V212.9M1809.2 200.5V212.9M1809.3 200.5V212.9M1810.7 200.5V212.9M1810.8 200.5V212.9M1812.1 200.5V212.9M1813.0 200.5V212.9M1813.4 200.5V212.9M1813.8 200.5V212.9M1814.1 200.5V212.9M1814.1 200.5V212.9M1815.1 200.5V212.9M1816.4 200.5V212.9M1816.7 200.5V212.9M1816.8 200.5V212.9M1817.8 200.5V212.9M1817.9 200.5V212.9M1817.9 200.5V212.9M1818.0 200.5V212.9M1819.2 200.5V212.9M1819.2 200.5V212.9M1820.1 200.5V212.9M1820.4 200.5V212.9M1832.1 200.5V212.9M1833.7 200.5V212.9M1834.5 200.5V212.9M1835.7 200.5V212.9M1836.1 200.5V212.9M1836.2 200.5V212.9M1836.4 200.5V212.9M1836.7 200.5V212.9M1839.0 200.5V212.9M1839.3 200.5V212.9M1841.0 200.5V212.9M1843.7 200.5V212.9M1843.8 200.5V212.9M1845.0 200.5V212.9M1846.6 200.5V212.9M1846.8 200.5V212.9M1846.9 200.5V212.9M1848.3 200.5V212.9M1849.0 200.5V212.9M1850.6 200.5V212.9M1851.8 200.5V212.9M1852.4 200.5V212.9M1905.0 200.5V212.9" stroke="#4575b4" stroke-width="1.10" fill="none"/>
<path d="M1539.0 213.1V225.5M1539.0 213.1V225.5M1561.7 213.1V225.5M1561.8 213.1V225.5M1562.5 213.1V225.5M1565.2 213.1V225.5M1565.6 213.1V225.5M1570.6 213.1V225.5M1572.0 213.1V225.5M1573.9 213.1V225.5M1574.9 213.1V225.5M1575.9 213.1V225.5M1576.2 213.1V225.5M1576.7 213.1V225.5M1577.4 213.1V225.5M1579.0 213.1V225.5M1580.1 213.1V225.5M1581.5 213.1V225.5M1583.0 213.1V225.5M1584.2 213.1V225.5M1585.6 213.1V225.5M1586.7 213.1V225.5M1587.5 213.1V225.5M1588.0 213.1V225.5M1588.9 213.1V225.5M1588.9 213.1V225.5M1589.1 213.1V225.5M1589.2 213.1V225.5M1596.4 213.1V225.5M1596.5 213.1V225.5M1596.6 213.1V225.5M1596.9 213.1V225.5M1597.1 213.1V225.5M1597.3 213.1V225.5M1597.5 213.1V225.5M1597.8 213.1V225.5M1598.4 213.1V225.5M1599.0 213.1V225.5M1599.9 213.1V225.5M1600.1 213.1V225.5M1600.5 213.1V225.5M1600.8 213.1V225.5M1601.5 213.1V225.5M1601.6 213.1V225.5M1601.7 213.1V225.5M1602.2 213.1V225.5M1602.3 213.1V225.5M1602.3 213.1V225.5M1602.5 213.1V225.5M1602.6 213.1V225.5M1603.1 213.1V225.5M1604.0 213.1V225.5M1604.9 213.1V225.5M1605.0 213.1V225.5M1605.4 213.1V225.5M1605.8 213.1V225.5M1605.8 213.1V225.5M1606.2 213.1V225.5M1606.9 213.1V225.5M1607.3 213.1V225.5M1607.7 213.1V225.5M1607.9 213.1V225.5M1608.5 213.1V225.5M1608.8 213.1V225.5M1610.3 213.1V225.5M1610.6 213.1V225.5M1611.2 213.1V225.5M1612.4 213.1V225.5M1612.5 213.1V225.5M1612.7 213.1V225.5M1613.4 213.1V225.5M1613.6 213.1V225.5M1614.1 213.1V225.5M1614.3 213.1V225.5M1615.3 213.1V225.5M1616.0 213.1V225.5M1616.0 213.1V225.5M1616.1 213.1V225.5M1617.0 213.1V225.5M1618.2 213.1V225.5M1618.2 213.1V225.5M1618.3 213.1V225.5M1618.4 213.1V225.5M1619.4 213.1V225.5M1620.6 213.1V225.5M1620.9 213.1V225.5M1622.2 213.1V225.5M1622.5 213.1V225.5M1622.6 213.1V225.5M1622.7 213.1V225.5M1622.8 213.1V225.5M1624.8 213.1V225.5M1625.1 213.1V225.5M1625.5 213.1V225.5M1625.9 213.1V225.5M1626.3 213.1V225.5M1626.4 213.1V225.5M1626.4 213.1V225.5M1670.4 213.1V225.5M1693.7 213.1V225.5M1694.3 213.1V225.5M1694.4 213.1V225.5M1694.5 213.1V225.5M1694.6 213.1V225.5M1695.1 213.1V225.5M1695.8 213.1V225.5M1695.9 213.1V225.5M1696.2 213.1V225.5M1697.2 213.1V225.5M1697.8 213.1V225.5M1698.2 213.1V225.5M1698.6 213.1V225.5M1698.8 213.1V225.5M1700.1 213.1V225.5M1700.2 213.1V225.5M1701.0 213.1V225.5M1701.4 213.1V225.5M1701.7 213.1V225.5M1702.3 213.1V225.5M1702.3 213.1V225.5M1702.6 213.1V225.5M1702.6 213.1V225.5M1702.9 213.1V225.5M1703.6 213.1V225.5M1703.6 213.1V225.5M1703.9 213.1V225.5M1704.1 213.1V225.5M1704.2 213.1V225.5M1704.5 213.1V225.5M1704.7 213.1V225.5M1705.3 213.1V225.5M1705.6 213.1V225.5M1706.6 213.1V225.5M1708.5 213.1V225.5M1708.5 213.1V225.5M1708.9 213.1V225.5M1709.7 213.1V225.5M1710.4 213.1V225.5M1710.5 213.1V225.5M1710.5 213.1V225.5M1711.4 213.1V225.5M1711.6 213.1V225.5M1711.6 213.1V225.5M1712.4 213.1V225.5M1712.5 213.1V225.5M1712.6 213.1V225.5M1713.3 213.1V225.5M1713.5 213.1V225.5M1713.8 213.1V225.5M1713.9 213.1V225.5M1714.2 213.1V225.5M1714.8 213.1V225.5M1714.9 213.1V225.5M1715.8 213.1V225.5M1716.3 213.1V225.5M1716.6 213.1V225.5M1716.7 213.1V225.5M1716.8 213.1V225.5M1717.0 213.1V225.5M1717.5 213.1V225.5M1717.9 213.1V225.5M1718.3 213.1V225.5M1718.5 213.1V225.5M1718.8 213.1V225.5M1719.3 213.1V225.5M1719.7 213.1V225.5M1719.9 213.1V225.5M1720.0 213.1V225.5M1720.7 213.1V225.5M1721.3 213.1V225.5M1721.6 213.1V225.5M1721.6 213.1V225.5M1723.1 213.1V225.5M1723.3 213.1V225.5M1724.4 213.1V225.5M1725.1 213.1V225.5M1725.6 213.1V225.5M1725.7 213.1V225.5M1725.8 213.1V225.5M1726.0 213.1V225.5M1726.2 213.1V225.5M1726.3 213.1V225.5M1727.1 213.1V225.5M1727.2 213.1V225.5M1727.4 213.1V225.5M1728.0 213.1V225.5M1728.1 213.1V225.5M1728.3 213.1V225.5M1728.4 213.1V225.5M1728.9 213.1V225.5M1729.4 213.1V225.5M1729.7 213.1V225.5M1729.7 213.1V225.5M1730.1 213.1V225.5M1730.3 213.1V225.5M1732.9 213.1V225.5M1733.1 213.1V225.5M1733.5 213.1V225.5M1733.6 213.1V225.5M1734.5 213.1V225.5M1735.7 213.1V225.5M1735.8 213.1V225.5M1736.0 213.1V225.5M1737.4 213.1V225.5M1737.5 213.1V225.5M1738.6 213.1V225.5M1738.7 213.1V225.5M1739.3 213.1V225.5M1739.4 213.1V225.5M1739.8 213.1V225.5M1739.8 213.1V225.5M1740.4 213.1V225.5M1740.4 213.1V225.5M1741.5 213.1V225.5M1742.4 213.1V225.5M1742.7 213.1V225.5M1743.9 213.1V225.5M1744.9 213.1V225.5M1744.9 213.1V225.5M1744.9 213.1V225.5M1745.5 213.1V225.5M1745.5 213.1V225.5M1745.9 213.1V225.5M1746.8 213.1V225.5M1747.1 213.1V225.5M1747.3 213.1V225.5M1748.4 213.1V225.5M1748.4 213.1V225.5M1749.2 213.1V225.5M1749.3 213.1V225.5M1749.9 213.1V225.5M1749.9 213.1V225.5M1749.9 213.1V225.5M1750.4 213.1V225.5M1750.5 213.1V225.5M1750.5 213.1V225.5M1751.1 213.1V225.5M1751.9 213.1V225.5M1752.0 213.1V225.5M1752.8 213.1V225.5M1752.9 213.1V225.5M1753.1 213.1V225.5M1753.3 213.1V225.5M1753.6 213.1V225.5M1753.6 213.1V225.5M1753.6 213.1V225.5M1753.7 213.1V225.5M1753.8 213.1V225.5M1754.1 213.1V225.5M1754.2 213.1V225.5M1755.6 213.1V225.5M1755.8 213.1V225.5M1756.5 213.1V225.5M1757.5 213.1V225.5M1757.9 213.1V225.5M1758.4 213.1V225.5M1758.8 213.1V225.5M1759.3 213.1V225.5M1759.9 213.1V225.5M1760.6 213.1V225.5M1760.7 213.1V225.5M1760.7 213.1V225.5M1761.0 213.1V225.5M1761.2 213.1V225.5M1762.1 213.1V225.5M1762.3 213.1V225.5M1762.7 213.1V225.5M1765.0 213.1V225.5M1765.0 213.1V225.5M1765.6 213.1V225.5M1765.7 213.1V225.5M1765.8 213.1V225.5M1766.2 213.1V225.5M1766.3 213.1V225.5M1766.5 213.1V225.5M1766.9 213.1V225.5M1767.6 213.1V225.5M1767.6 213.1V225.5M1767.9 213.1V225.5M1768.9 213.1V225.5M1769.1 213.1V225.5M1770.2 213.1V225.5M1770.5 213.1V225.5M1772.0 213.1V225.5M1772.4 213.1V225.5M1773.5 213.1V225.5M1774.6 213.1V225.5M1774.7 213.1V225.5M1774.7 213.1V225.5M1774.8 213.1V225.5M1775.0 213.1V225.5M1775.0 213.1V225.5M1775.1 213.1V225.5M1775.2 213.1V225.5M1775.8 213.1V225.5M1777.0 213.1V225.5M1777.0 213.1V225.5M1777.9 213.1V225.5M1779.2 213.1V225.5M1779.3 213.1V225.5M1779.4 213.1V225.5M1780.2 213.1V225.5M1780.5 213.1V225.5M1781.1 213.1V225.5M1781.2 213.1V225.5M1781.2 213.1V225.5M1781.4 213.1V225.5M1781.4 213.1V225.5M1781.6 213.1V225.5M1781.6 213.1V225.5M1782.0 213.1V225.5M1782.7 213.1V225.5M1782.8 213.1V225.5M1783.3 213.1V225.5M1783.5 213.1V225.5M1783.5 213.1V225.5M1784.7 213.1V225.5M1785.1 213.1V225.5M1785.2 213.1V225.5M1785.3 213.1V225.5M1785.8 213.1V225.5M1786.0 213.1V225.5M1787.2 213.1V225.5M1787.3 213.1V225.5M1787.4 213.1V225.5M1787.4 213.1V225.5M1787.5 213.1V225.5M1787.7 213.1V225.5M1788.3 213.1V225.5M1789.2 213.1V225.5M1789.9 213.1V225.5M1789.9 213.1V225.5M1790.3 213.1V225.5M1790.9 213.1V225.5M1790.9 213.1V225.5M1790.9 213.1V225.5M1791.5 213.1V225.5M1792.2 213.1V225.5M1792.5 213.1V225.5M1793.6 213.1V225.5M1793.7 213.1V225.5M1794.0 213.1V225.5M1794.1 213.1V225.5M1795.0 213.1V225.5M1795.4 213.1V225.5M1795.4 213.1V225.5M1795.4 213.1V225.5M1796.1 213.1V225.5M1796.1 213.1V225.5M1796.2 213.1V225.5M1796.8 213.1V225.5M1796.9 213.1V225.5M1797.2 213.1V225.5M1798.2 213.1V225.5M1798.2 213.1V225.5M1798.3 213.1V225.5M1800.1 213.1V225.5M1800.1 213.1V225.5M1800.7 213.1V225.5M1800.9 213.1V225.5M1802.6 213.1V225.5M1803.5 213.1V225.5M1803.8 213.1V225.5M1804.4 213.1V225.5M1804.6 213.1V225.5M1804.7 213.1V225.5M1804.7 213.1V225.5M1805.6 213.1V225.5M1805.8 213.1V225.5M1805.9 213.1V225.5M1806.1 213.1V225.5M1806.2 213.1V225.5M1806.5 213.1V225.5M1806.7 213.1V225.5M1807.8 213.1V225.5M1808.1 213.1V225.5M1808.1 213.1V225.5M1810.2 213.1V225.5M1810.7 213.1V225.5M1810.8 213.1V225.5M1811.6 213.1V225.5M1811.9 213.1V225.5M1812.2 213.1V225.5M1812.5 213.1V225.5M1812.6 213.1V225.5M1813.6 213.1V225.5M1813.7 213.1V225.5M1814.1 213.1V225.5M1814.5 213.1V225.5M1815.1 213.1V225.5M1815.6 213.1V225.5M1816.2 213.1V225.5M1816.2 213.1V225.5M1816.2 213.1V225.5M1817.0 213.1V225.5M1817.0 213.1V225.5M1817.0 213.1V225.5M1818.0 213.1V225.5M1819.1 213.1V225.5M1833.7 213.1V225.5M1835.2 213.1V225.5M1837.6 213.1V225.5M1842.3 213.1V225.5M1845.4 213.1V225.5M1849.9 213.1V225.5M1852.7 213.1V225.5M1853.3 213.1V225.5" stroke="#2a2d8c" stroke-width="1.10" fill="none"/>
<path d="M1453.5 225.7V238.1M1476.9 225.7V238.1M1491.0 225.7V238.1M1521.7 225.7V238.1M1521.8 225.7V238.1M1522.1 225.7V238.1M1522.2 225.7V238.1M1527.0 225.7V238.1M1527.8 225.7V238.1M1530.8 225.7V238.1M1532.0 225.7V238.1M1532.9 225.7V238.1M1535.4 225.7V238.1M1536.5 225.7V238.1M1537.3 225.7V238.1M1563.6 225.7V238.1M1564.9 225.7V238.1M1567.6 225.7V238.1M1570.7 225.7V238.1M1570.8 225.7V238.1M1590.6 225.7V238.1M1590.7 225.7V238.1M1591.7 225.7V238.1M1592.0 225.7V238.1M1592.9 225.7V238.1M1593.8 225.7V238.1M1594.4 225.7V238.1M1595.7 225.7V238.1M1596.5 225.7V238.1M1596.8 225.7V238.1M1597.5 225.7V238.1M1598.4 225.7V238.1M1599.5 225.7V238.1M1599.7 225.7V238.1M1602.3 225.7V238.1M1602.4 225.7V238.1M1602.5 225.7V238.1M1602.7 225.7V238.1M1602.9 225.7V238.1M1603.7 225.7V238.1M1604.0 225.7V238.1M1604.3 225.7V238.1M1604.6 225.7V238.1M1605.1 225.7V238.1M1605.4 225.7V238.1M1607.1 225.7V238.1M1607.4 225.7V238.1M1608.6 225.7V238.1M1610.0 225.7V238.1M1612.6 225.7V238.1M1612.8 225.7V238.1M1614.4 225.7V238.1M1615.8 225.7V238.1M1616.4 225.7V238.1M1617.1 225.7V238.1M1622.8 225.7V238.1M1623.3 225.7V238.1M1624.2 225.7V238.1M1624.3 225.7V238.1M1624.5 225.7V238.1M1693.7 225.7V238.1M1693.8 225.7V238.1M1693.9 225.7V238.1M1694.2 225.7V238.1M1694.5 225.7V238.1M1694.5 225.7V238.1M1695.1 225.7V238.1M1695.4 225.7V238.1M1695.8 225.7V238.1M1696.1 225.7V238.1M1696.8 225.7V238.1M1696.9 225.7V238.1M1697.4 225.7V238.1M1697.7 225.7V238.1M1697.9 225.7V238.1M1698.0 225.7V238.1M1699.4 225.7V238.1M1699.9 225.7V238.1M1700.0 225.7V238.1M1700.1 225.7V238.1M1700.2 225.7V238.1M1700.4 225.7V238.1M1700.6 225.7V238.1M1701.1 225.7V238.1M1701.6 225.7V238.1M1702.0 225.7V238.1M1702.5 225.7V238.1M1702.9 225.7V238.1M1703.0 225.7V238.1M1703.9 225.7V238.1M1704.0 225.7V238.1M1705.1 225.7V238.1M1705.1 225.7V238.1M1705.3 225.7V238.1M1706.0 225.7V238.1M1706.3 225.7V238.1M1706.4 225.7V238.1M1706.7 225.7V238.1M1706.8 225.7V238.1M1707.1 225.7V238.1M1707.9 225.7V238.1M1708.1 225.7V238.1M1709.0 225.7V238.1M1709.1 225.7V238.1M1709.4 225.7V238.1M1709.8 225.7V238.1M1712.3 225.7V238.1M1712.3 225.7V238.1M1712.8 225.7V238.1M1712.8 225.7V238.1M1713.0 225.7V238.1M1713.9 225.7V238.1M1714.2 225.7V238.1M1714.9 225.7V238.1M1715.0 225.7V238.1M1715.7 225.7V238.1M1716.7 225.7V238.1M1717.1 225.7V238.1M1718.8 225.7V238.1M1718.9 225.7V238.1M1718.9 225.7V238.1M1719.4 225.7V238.1M1719.7 225.7V238.1M1721.0 225.7V238.1M1721.2 225.7V238.1M1721.5 225.7V238.1M1722.4 225.7V238.1M1723.4 225.7V238.1M1723.6 225.7V238.1M1723.7 225.7V238.1M1724.3 225.7V238.1M1724.6 225.7V238.1M1724.9 225.7V238.1M1725.0 225.7V238.1M1727.0 225.7V238.1M1728.1 225.7V238.1M1728.1 225.7V238.1M1728.4 225.7V238.1M1728.6 225.7V238.1M1729.3 225.7V238.1M1729.6 225.7V238.1M1730.4 225.7V238.1M1731.4 225.7V238.1M1732.4 225.7V238.1M1732.7 225.7V238.1M1732.9 225.7V238.1M1733.8 225.7V238.1M1734.0 225.7V238.1M1734.8 225.7V238.1M1734.9 225.7V238.1M1735.8 225.7V238.1M1735.9 225.7V238.1M1736.1 225.7V238.1M1736.5 225.7V238.1M1736.6 225.7V238.1M1737.7 225.7V238.1M1738.5 225.7V238.1M1738.6 225.7V238.1M1739.4 225.7V238.1M1739.6 225.7V238.1M1739.8 225.7V238.1M1740.5 225.7V238.1M1741.5 225.7V238.1M1741.9 225.7V238.1M1742.6 225.7V238.1M1742.9 225.7V238.1M1743.6 225.7V238.1M1743.8 225.7V238.1M1745.3 225.7V238.1M1745.9 225.7V238.1M1747.2 225.7V238.1M1747.6 225.7V238.1M1748.1 225.7V238.1M1749.1 225.7V238.1M1749.1 225.7V238.1M1749.3 225.7V238.1M1751.1 225.7V238.1M1751.1 225.7V238.1M1751.2 225.7V238.1M1751.9 225.7V238.1M1751.9 225.7V238.1M1752.0 225.7V238.1M1752.6 225.7V238.1M1752.8 225.7V238.1M1752.8 225.7V238.1M1752.9 225.7V238.1M1753.6 225.7V238.1M1753.8 225.7V238.1M1756.6 225.7V238.1M1756.7 225.7V238.1M1757.2 225.7V238.1M1757.3 225.7V238.1M1757.3 225.7V238.1M1757.5 225.7V238.1M1758.0 225.7V238.1M1758.0 225.7V238.1M1758.7 225.7V238.1M1758.9 225.7V238.1M1759.1 225.7V238.1M1759.5 225.7V238.1M1760.1 225.7V238.1M1760.1 225.7V238.1M1760.4 225.7V238.1M1761.5 225.7V238.1M1761.7 225.7V238.1M1762.4 225.7V238.1M1762.7 225.7V238.1M1763.0 225.7V238.1M1763.3 225.7V238.1M1763.5 225.7V238.1M1764.4 225.7V238.1M1765.2 225.7V238.1M1766.6 225.7V238.1M1766.6 225.7V238.1M1766.7 225.7V238.1M1766.8 225.7V238.1M1767.3 225.7V238.1M1767.5 225.7V238.1M1767.8 225.7V238.1M1767.9 225.7V238.1M1768.1 225.7V238.1M1768.5 225.7V238.1M1768.6 225.7V238.1M1768.6 225.7V238.1M1769.3 225.7V238.1M1769.4 225.7V238.1M1769.6 225.7V238.1M1769.9 225.7V238.1M1770.3 225.7V238.1M1770.4 225.7V238.1M1770.7 225.7V238.1M1771.2 225.7V238.1M1771.8 225.7V238.1M1772.5 225.7V238.1M1772.9 225.7V238.1M1773.0 225.7V238.1M1773.3 225.7V238.1M1774.1 225.7V238.1M1774.7 225.7V238.1M1774.9 225.7V238.1M1776.1 225.7V238.1M1776.1 225.7V238.1M1776.1 225.7V238.1M1776.5 225.7V238.1M1776.6 225.7V238.1M1776.7 225.7V238.1M1776.7 225.7V238.1M1776.8 225.7V238.1M1777.2 225.7V238.1M1777.4 225.7V238.1M1777.9 225.7V238.1M1779.1 225.7V238.1M1779.2 225.7V238.1M1779.4 225.7V238.1M1779.6 225.7V238.1M1779.7 225.7V238.1M1779.8 225.7V238.1M1779.9 225.7V238.1M1780.4 225.7V238.1M1780.7 225.7V238.1M1781.0 225.7V238.1M1782.8 225.7V238.1M1783.2 225.7V238.1M1783.5 225.7V238.1M1783.7 225.7V238.1M1784.0 225.7V238.1M1784.8 225.7V238.1M1785.0 225.7V238.1M1785.2 225.7V238.1M1785.3 225.7V238.1M1786.2 225.7V238.1M1786.4 225.7V238.1M1786.6 225.7V238.1M1787.7 225.7V238.1M1787.8 225.7V238.1M1789.1 225.7V238.1M1789.4 225.7V238.1M1789.6 225.7V238.1M1789.7 225.7V238.1M1789.7 225.7V238.1M1790.0 225.7V238.1M1790.4 225.7V238.1M1790.9 225.7V238.1M1791.3 225.7V238.1M1791.4 225.7V238.1M1791.6 225.7V238.1M1792.1 225.7V238.1M1792.2 225.7V238.1M1792.5 225.7V238.1M1793.0 225.7V238.1M1794.0 225.7V238.1M1794.9 225.7V238.1M1795.4 225.7V238.1M1795.5 225.7V238.1M1795.7 225.7V238.1M1795.7 225.7V238.1M1796.3 225.7V238.1M1796.6 225.7V238.1M1798.1 225.7V238.1M1798.2 225.7V238.1M1798.7 225.7V238.1M1799.0 225.7V238.1M1799.1 225.7V238.1M1799.4 225.7V238.1M1800.3 225.7V238.1M1800.6 225.7V238.1M1800.6 225.7V238.1M1801.3 225.7V238.1M1801.6 225.7V238.1M1802.1 225.7V238.1M1802.2 225.7V238.1M1802.4 225.7V238.1M1802.6 225.7V238.1M1802.8 225.7V238.1M1803.4 225.7V238.1M1803.7 225.7V238.1M1804.0 225.7V238.1M1804.1 225.7V238.1M1804.8 225.7V238.1M1804.9 225.7V238.1M1805.1 225.7V238.1M1805.4 225.7V238.1M1805.9 225.7V238.1M1806.0 225.7V238.1M1806.1 225.7V238.1M1806.1 225.7V238.1M1806.2 225.7V238.1M1806.4 225.7V238.1M1809.3 225.7V238.1M1809.3 225.7V238.1M1809.4 225.7V238.1M1810.2 225.7V238.1M1810.4 225.7V238.1M1810.9 225.7V238.1M1811.0 225.7V238.1M1812.1 225.7V238.1M1812.3 225.7V238.1M1812.8 225.7V238.1M1813.0 225.7V238.1M1813.1 225.7V238.1M1813.9 225.7V238.1M1814.9 225.7V238.1M1815.5 225.7V238.1M1815.6 225.7V238.1M1815.8 225.7V238.1M1816.1 225.7V238.1M1816.3 225.7V238.1M1817.0 225.7V238.1M1817.0 225.7V238.1M1817.1 225.7V238.1M1817.3 225.7V238.1M1817.6 225.7V238.1M1818.3 225.7V238.1M1818.6 225.7V238.1M1818.7 225.7V238.1M1819.3 225.7V238.1M1819.9 225.7V238.1M1819.9 225.7V238.1M1820.6 225.7V238.1M1821.0 225.7V238.1M1830.6 225.7V238.1M1830.9 225.7V238.1M1832.1 225.7V238.1M1834.0 225.7V238.1M1834.7 225.7V238.1M1840.6 225.7V238.1M1841.9 225.7V238.1M1842.1 225.7V238.1M1843.1 225.7V238.1M1845.0 225.7V238.1M1845.1 225.7V238.1M1846.6 225.7V238.1M1848.4 225.7V238.1M1850.6 225.7V238.1M1852.4 225.7V238.1M1852.6 225.7V238.1M1893.6 225.7V238.1M1905.0 225.7V238.1" stroke="#74add1" stroke-width="1.10" fill="none"/>
<path d="M1421.4 238.3V250.7M1422.8 238.3V250.7M1423.0 238.3V250.7M1425.0 238.3V250.7M1433.2 238.3V250.7M1434.5 238.3V250.7M1434.6 238.3V250.7M1434.7 238.3V250.7M1434.8 238.3V250.7M1435.3 238.3V250.7M1435.5 238.3V250.7M1436.1 238.3V250.7M1436.7 238.3V250.7M1438.5 238.3V250.7M1438.8 238.3V250.7M1439.4 238.3V250.7M1442.3 238.3V250.7M1443.5 238.3V250.7M1445.3 238.3V250.7M1446.5 238.3V250.7M1447.8 238.3V250.7M1448.6 238.3V250.7M1448.7 238.3V250.7M1450.1 238.3V250.7M1450.6 238.3V250.7M1451.2 238.3V250.7M1451.5 238.3V250.7M1452.1 238.3V250.7M1452.8 238.3V250.7M1452.9 238.3V250.7M1453.0 238.3V250.7M1454.2 238.3V250.7M1455.2 238.3V250.7M1455.2 238.3V250.7M1456.1 238.3V250.7M1457.3 238.3V250.7M1457.7 238.3V250.7M1458.7 238.3V250.7M1459.1 238.3V250.7M1460.1 238.3V250.7M1460.3 238.3V250.7M1460.8 238.3V250.7M1460.9 238.3V250.7M1461.2 238.3V250.7M1461.8 238.3V250.7M1462.5 238.3V250.7M1462.9 238.3V250.7M1463.7 238.3V250.7M1463.7 238.3V250.7M1464.1 238.3V250.7M1466.9 238.3V250.7M1467.1 238.3V250.7M1468.5 238.3V250.7M1468.9 238.3V250.7M1469.6 238.3V250.7M1470.4 238.3V250.7M1470.9 238.3V250.7M1471.0 238.3V250.7M1471.1 238.3V250.7M1472.6 238.3V250.7M1473.5 238.3V250.7M1473.7 238.3V250.7M1474.2 238.3V250.7M1475.1 238.3V250.7M1475.1 238.3V250.7M1475.7 238.3V250.7M1475.7 238.3V250.7M1476.7 238.3V250.7M1477.2 238.3V250.7M1477.3 238.3V250.7M1477.6 238.3V250.7M1478.6 238.3V250.7M1479.4 238.3V250.7M1480.0 238.3V250.7M1481.7 238.3V250.7M1482.1 238.3V250.7M1485.7 238.3V250.7M1486.0 238.3V250.7M1487.1 238.3V250.7M1488.0 238.3V250.7M1489.6 238.3V250.7M1490.2 238.3V250.7M1491.0 238.3V250.7M1491.8 238.3V250.7M1491.8 238.3V250.7M1492.4 238.3V250.7M1493.6 238.3V250.7M1493.6 238.3V250.7M1494.5 238.3V250.7M1495.5 238.3V250.7M1496.1 238.3V250.7M1496.7 238.3V250.7M1499.9 238.3V250.7M1499.9 238.3V250.7M1510.2 238.3V250.7M1510.4 238.3V250.7M1511.9 238.3V250.7M1512.1 238.3V250.7M1512.7 238.3V250.7M1513.5 238.3V250.7M1514.5 238.3V250.7M1514.8 238.3V250.7M1515.0 238.3V250.7M1518.0 238.3V250.7M1518.5 238.3V250.7M1519.2 238.3V250.7M1522.1 238.3V250.7M1522.3 238.3V250.7M1522.6 238.3V250.7M1524.2 238.3V250.7M1524.6 238.3V250.7M1525.8 238.3V250.7M1526.2 238.3V250.7M1527.6 238.3V250.7M1528.2 238.3V250.7M1528.5 238.3V250.7M1528.6 238.3V250.7M1530.3 238.3V250.7M1530.5 238.3V250.7M1530.6 238.3V250.7M1530.7 238.3V250.7M1532.1 238.3V250.7M1532.6 238.3V250.7M1532.7 238.3V250.7M1542.4 238.3V250.7M1545.3 238.3V250.7M1545.3 238.3V250.7M1546.2 238.3V250.7M1546.3 238.3V250.7M1548.1 238.3V250.7M1548.7 238.3V250.7M1549.1 238.3V250.7M1553.3 238.3V250.7M1558.5 238.3V250.7M1559.5 238.3V250.7M1560.1 238.3V250.7M1569.3 238.3V250.7M1570.6 238.3V250.7M1571.7 238.3V250.7M1572.7 238.3V250.7M1574.2 238.3V250.7M1576.5 238.3V250.7M1576.8 238.3V250.7M1577.4 238.3V250.7M1580.1 238.3V250.7M1585.3 238.3V250.7M1588.4 238.3V250.7M1594.3 238.3V250.7M1596.3 238.3V250.7M1604.4 238.3V250.7M1606.3 238.3V250.7M1607.5 238.3V250.7M1608.5 238.3V250.7M1611.4 238.3V250.7M1613.9 238.3V250.7M1614.9 238.3V250.7M1616.3 238.3V250.7M1622.0 238.3V250.7M1622.6 238.3V250.7M1625.9 238.3V250.7M1729.5 238.3V250.7M1755.0 238.3V250.7M1774.5 238.3V250.7M1801.5 238.3V250.7M1839.0 238.3V250.7M1878.0 238.3V250.7M1896.0 238.3V250.7" stroke="#d73027" stroke-width="1.10" fill="none"/>
<path d="M1421.4 250.9V263.3M1421.4 250.9V263.3M1421.8 250.9V263.3M1421.9 250.9V263.3M1423.3 250.9V263.3M1424.3 250.9V263.3M1424.7 250.9V263.3M1425.1 250.9V263.3M1426.6 250.9V263.3M1427.0 250.9V263.3M1427.8 250.9V263.3M1428.9 250.9V263.3M1429.3 250.9V263.3M1431.7 250.9V263.3M1431.8 250.9V263.3M1432.7 250.9V263.3M1433.2 250.9V263.3M1433.5 250.9V263.3M1434.0 250.9V263.3M1434.6 250.9V263.3M1437.5 250.9V263.3M1438.0 250.9V263.3M1438.7 250.9V263.3M1438.8 250.9V263.3M1439.0 250.9V263.3M1439.2 250.9V263.3M1439.3 250.9V263.3M1439.4 250.9V263.3M1440.2 250.9V263.3M1441.6 250.9V263.3M1441.9 250.9V263.3M1442.0 250.9V263.3M1442.4 250.9V263.3M1442.4 250.9V263.3M1444.8 250.9V263.3M1445.6 250.9V263.3M1446.1 250.9V263.3M1446.7 250.9V263.3M1447.6 250.9V263.3M1447.6 250.9V263.3M1449.4 250.9V263.3M1449.5 250.9V263.3M1449.8 250.9V263.3M1449.9 250.9V263.3M1450.1 250.9V263.3M1450.9 250.9V263.3M1451.2 250.9V263.3M1451.5 250.9V263.3M1452.4 250.9V263.3M1452.5 250.9V263.3M1452.5 250.9V263.3M1455.0 250.9V263.3M1455.4 250.9V263.3M1455.9 250.9V263.3M1456.0 250.9V263.3M1457.8 250.9V263.3M1457.9 250.9V263.3M1458.0 250.9V263.3M1458.3 250.9V263.3M1458.5 250.9V263.3M1459.2 250.9V263.3M1460.1 250.9V263.3M1461.3 250.9V263.3M1461.8 250.9V263.3M1462.1 250.9V263.3M1462.7 250.9V263.3M1463.3 250.9V263.3M1463.5 250.9V263.3M1463.6 250.9V263.3M1463.7 250.9V263.3M1463.9 250.9V263.3M1464.3 250.9V263.3M1464.7 250.9V263.3M1465.2 250.9V263.3M1466.1 250.9V263.3M1466.1 250.9V263.3M1466.5 250.9V263.3M1468.4 250.9V263.3M1469.0 250.9V263.3M1469.3 250.9V263.3M1470.3 250.9V263.3M1473.2 250.9V263.3M1473.6 250.9V263.3M1473.8 250.9V263.3M1474.4 250.9V263.3M1475.5 250.9V263.3M1475.7 250.9V263.3M1475.7 250.9V263.3M1475.7 250.9V263.3M1476.7 250.9V263.3M1477.8 250.9V263.3M1478.3 250.9V263.3M1478.5 250.9V263.3M1479.9 250.9V263.3M1480.5 250.9V263.3M1481.0 250.9V263.3M1481.1 250.9V263.3M1481.4 250.9V263.3M1482.3 250.9V263.3M1482.6 250.9V263.3M1482.6 250.9V263.3M1482.9 250.9V263.3M1483.0 250.9V263.3M1483.6 250.9V263.3M1483.7 250.9V263.3M1485.7 250.9V263.3M1485.8 250.9V263.3M1486.4 250.9V263.3M1486.5 250.9V263.3M1487.7 250.9V263.3M1488.7 250.9V263.3M1489.1 250.9V263.3M1489.2 250.9V263.3M1490.0 250.9V263.3M1490.2 250.9V263.3M1490.3 250.9V263.3M1491.5 250.9V263.3M1492.3 250.9V263.3M1493.6 250.9V263.3M1493.8 250.9V263.3M1495.1 250.9V263.3M1495.4 250.9V263.3M1495.5 250.9V263.3M1495.6 250.9V263.3M1496.9 250.9V263.3M1497.6 250.9V263.3M1498.4 250.9V263.3M1498.9 250.9V263.3M1499.5 250.9V263.3M1499.7 250.9V263.3M1509.2 250.9V263.3M1509.7 250.9V263.3M1510.2 250.9V263.3M1511.8 250.9V263.3M1512.0 250.9V263.3M1512.6 250.9V263.3M1513.7 250.9V263.3M1515.9 250.9V263.3M1516.4 250.9V263.3M1516.9 250.9V263.3M1518.0 250.9V263.3M1518.3 250.9V263.3M1520.5 250.9V263.3M1520.5 250.9V263.3M1521.0 250.9V263.3M1522.0 250.9V263.3M1522.2 250.9V263.3M1522.9 250.9V263.3M1523.3 250.9V263.3M1523.9 250.9V263.3M1524.3 250.9V263.3M1524.8 250.9V263.3M1528.1 250.9V263.3M1528.9 250.9V263.3M1529.7 250.9V263.3M1530.1 250.9V263.3M1530.4 250.9V263.3M1530.6 250.9V263.3M1531.0 250.9V263.3M1531.0 250.9V263.3M1531.6 250.9V263.3M1532.6 250.9V263.3M1533.3 250.9V263.3M1535.4 250.9V263.3M1535.4 250.9V263.3M1536.0 250.9V263.3M1536.9 250.9V263.3M1537.0 250.9V263.3M1538.5 250.9V263.3M1539.0 250.9V263.3M1539.2 250.9V263.3M1540.1 250.9V263.3M1541.7 250.9V263.3M1542.1 250.9V263.3M1542.3 250.9V263.3M1542.8 250.9V263.3M1543.7 250.9V263.3M1545.5 250.9V263.3M1546.2 250.9V263.3M1546.3 250.9V263.3M1546.6 250.9V263.3M1546.8 250.9V263.3M1547.6 250.9V263.3M1548.2 250.9V263.3M1548.3 250.9V263.3M1556.3 250.9V263.3M1560.9 250.9V263.3M1563.8 250.9V263.3M1565.7 250.9V263.3M1567.5 250.9V263.3M1569.3 250.9V263.3M1571.1 250.9V263.3M1572.1 250.9V263.3M1573.1 250.9V263.3M1573.4 250.9V263.3M1574.0 250.9V263.3M1575.0 250.9V263.3M1575.5 250.9V263.3M1578.3 250.9V263.3M1578.4 250.9V263.3M1580.2 250.9V263.3M1581.7 250.9V263.3M1582.7 250.9V263.3M1585.5 250.9V263.3M1585.9 250.9V263.3M1588.5 250.9V263.3M1588.6 250.9V263.3M1589.1 250.9V263.3M1589.3 250.9V263.3M1593.0 250.9V263.3M1599.5 250.9V263.3M1601.1 250.9V263.3M1602.1 250.9V263.3M1602.5 250.9V263.3M1602.9 250.9V263.3M1603.5 250.9V263.3M1603.7 250.9V263.3M1605.6 250.9V263.3M1606.1 250.9V263.3M1606.6 250.9V263.3M1610.3 250.9V263.3M1611.9 250.9V263.3M1612.8 250.9V263.3M1614.9 250.9V263.3M1616.0 250.9V263.3M1616.8 250.9V263.3M1617.7 250.9V263.3M1618.8 250.9V263.3M1619.2 250.9V263.3M1619.4 250.9V263.3M1620.1 250.9V263.3M1621.1 250.9V263.3M1621.2 250.9V263.3M1622.4 250.9V263.3M1623.7 250.9V263.3M1636.5 250.9V263.3M1641.3 250.9V263.3M1650.3 250.9V263.3M1653.3 250.9V263.3M1662.6 250.9V263.3M1672.7 250.9V263.3M1675.8 250.9V263.3M1685.9 250.9V263.3M1702.4 250.9V263.3M1704.5 250.9V263.3M1706.3 250.9V263.3M1706.9 250.9V263.3M1712.7 250.9V263.3M1719.7 250.9V263.3M1725.1 250.9V263.3M1730.2 250.9V263.3M1732.2 250.9V263.3M1736.1 250.9V263.3M1742.1 250.9V263.3M1745.1 250.9V263.3M1747.3 250.9V263.3M1748.4 250.9V263.3M1749.0 250.9V263.3M1749.9 250.9V263.3M1751.4 250.9V263.3M1753.7 250.9V263.3M1754.4 250.9V263.3M1755.3 250.9V263.3M1755.8 250.9V263.3M1757.2 250.9V263.3M1760.5 250.9V263.3M1762.1 250.9V263.3M1764.6 250.9V263.3M1766.8 250.9V263.3M1768.8 250.9V263.3M1769.1 250.9V263.3M1771.1 250.9V263.3M1774.6 250.9V263.3M1776.3 250.9V263.3M1780.8 250.9V263.3M1780.9 250.9V263.3M1781.1 250.9V263.3M1781.8 250.9V263.3M1784.8 250.9V263.3M1801.0 250.9V263.3M1829.6 250.9V263.3M1829.8 250.9V263.3M1845.8 250.9V263.3M1846.1 250.9V263.3M1856.4 250.9V263.3M1871.3 250.9V263.3M1873.6 250.9V263.3M1877.2 250.9V263.3M1884.2 250.9V263.3M1885.3 250.9V263.3M1885.5 250.9V263.3" stroke="#f46d43" stroke-width="1.10" fill="none"/>
<polygon points="1415.7,272.7 1417.7,277.9 1421.8,283.7 1432.1,290.5 1449.1,297.3 1476.4,303.1 1510.5,305.8 1561.6,307.9 1629.8,309.4 1691.2,309.7 1766.2,310.9 1817.3,313.0 1851.4,317.1 1878.7,323.9 1895.7,332.4 1904.2,342.6 1906.6,353.9 1906.6,309.6 1415.7,309.6" fill="#bebebe"/>
<path d="M1415.6 39.2V358.0H1907" stroke="#111" stroke-width="1.60" fill="none"/>
<line x1="1412.10" y1="50.50" x2="1415.60" y2="50.50" stroke="#333" stroke-width="1.00"/>
<text x="1410.10" y="53.90" font-size="9.60" text-anchor="end" fill="#4d4d4d">0.6</text>
<line x1="1412.10" y1="88.00" x2="1415.60" y2="88.00" stroke="#333" stroke-width="1.00"/>
<text x="1410.10" y="91.40" font-size="9.60" text-anchor="end" fill="#4d4d4d">0.3</text>
<line x1="1412.10" y1="125.10" x2="1415.60" y2="125.10" stroke="#333" stroke-width="1.00"/>
<text x="1410.10" y="128.50" font-size="9.60" text-anchor="end" fill="#4d4d4d">0.0</text>
<line x1="1412.10" y1="162.30" x2="1415.60" y2="162.30" stroke="#333" stroke-width="1.00"/>
<text x="1410.10" y="165.70" font-size="9.60" text-anchor="end" fill="#4d4d4d">-0.3</text>
<line x1="1412.10" y1="199.50" x2="1415.60" y2="199.50" stroke="#333" stroke-width="1.00"/>
<text x="1410.10" y="202.90" font-size="9.60" text-anchor="end" fill="#4d4d4d">-0.6</text>
<line x1="1412.10" y1="283.70" x2="1415.60" y2="283.70" stroke="#333" stroke-width="1.00"/>
<text x="1410.10" y="287.10" font-size="9.60" text-anchor="end" fill="#4d4d4d">4</text>
<line x1="1412.10" y1="309.60" x2="1415.60" y2="309.60" stroke="#333" stroke-width="1.00"/>
<text x="1410.10" y="313.00" font-size="9.60" text-anchor="end" fill="#4d4d4d">0</text>
<line x1="1412.10" y1="335.80" x2="1415.60" y2="335.80" stroke="#333" stroke-width="1.00"/>
<text x="1410.10" y="339.20" font-size="9.60" text-anchor="end" fill="#4d4d4d">-4</text>
<line x1="1522.40" y1="358.00" x2="1522.40" y2="361.50" stroke="#333" stroke-width="1.00"/>
<text x="1522.40" y="371.20" font-size="9.60" text-anchor="middle" fill="#4d4d4d">5000</text>
<line x1="1629.50" y1="358.00" x2="1629.50" y2="361.50" stroke="#333" stroke-width="1.00"/>
<text x="1629.50" y="371.20" font-size="9.60" text-anchor="middle" fill="#4d4d4d">10000</text>
<line x1="1736.50" y1="358.00" x2="1736.50" y2="361.50" stroke="#333" stroke-width="1.00"/>
<text x="1736.50" y="371.20" font-size="9.60" text-anchor="middle" fill="#4d4d4d">15000</text>
<line x1="1843.60" y1="358.00" x2="1843.60" y2="361.50" stroke="#333" stroke-width="1.00"/>
<text x="1843.60" y="371.20" font-size="9.60" text-anchor="middle" fill="#4d4d4d">20000</text>
<text x="1669.00" y="397.40" font-size="20.87" text-anchor="middle" textLength="222.00" lengthAdjust="spacingAndGlyphs">Rank in Ordered Dataset</text>
<text x="1388.00" y="113.50" font-size="17.36" text-anchor="middle" textLength="199.50" lengthAdjust="spacingAndGlyphs" transform="rotate(-90 1388.00 113.50)">Running Enrichment Score</text>
<text x="1388.00" y="314.00" font-size="17.33" text-anchor="middle" textLength="138.00" lengthAdjust="spacingAndGlyphs" transform="rotate(-90 1388.00 314.00)">Ranked List Metric</text>
<text x="1895.80" y="35.90" font-size="20.92" font-weight="bold" text-anchor="end" textLength="256.00" lengthAdjust="spacingAndGlyphs">SCaBER siFOXA1 vs siCtrl</text>
<text x="1901.00" y="60.80" font-size="20.82" font-weight="bold" text-anchor="end" textLength="198.00" lengthAdjust="spacingAndGlyphs">Msig Hallmark GSEA</text>
<rect x="1430.50" y="426.10" width="29.50" height="7.00" fill="#74add1"/>
<text x="1476.40" y="436.70" font-size="19.87" textLength="134.50" lengthAdjust="spacingAndGlyphs">E2F_TARGETS</text>
<rect x="1430.50" y="447.10" width="29.50" height="7.00" fill="#4575b4"/>
<text x="1476.40" y="457.70" font-size="19.73" textLength="176.00" lengthAdjust="spacingAndGlyphs">G2M_CHECKPOINT</text>
<rect x="1430.50" y="468.10" width="29.50" height="7.00" fill="#d73027"/>
<text x="1476.40" y="478.70" font-size="19.79" textLength="313.00" lengthAdjust="spacingAndGlyphs">INTERFERON_ALPHA_RESPONSE</text>
<rect x="1430.50" y="489.10" width="29.50" height="7.00" fill="#f46d43"/>
<text x="1476.40" y="499.70" font-size="19.79" textLength="322.50" lengthAdjust="spacingAndGlyphs">INTERFERON_GAMMA_RESPONSE</text>
<rect x="1430.50" y="510.10" width="29.50" height="7.00" fill="#2a2d8c"/>
<text x="1476.40" y="520.70" font-size="19.83" textLength="175.50" lengthAdjust="spacingAndGlyphs">MYC_TARGETS_V1</text>
</g>
<g id="panelD">
<text x="279.80" y="509.00" font-size="28.91" font-weight="bold" text-anchor="middle" textLength="278.00" lengthAdjust="spacingAndGlyphs">siFOXA1 DEG : IFN-γ</text>
<path d="M79.5 560.1V556.1H100.4V560.1M121.3 560.1V552.6H142.3V560.1M89.9 556.1V545.6H131.8V552.6M163.2 560.1V549.8H184.2V560.1M205.1 560.1V549.1H226.0V560.1M173.7 549.8V537.6H215.6V549.1M110.9 545.6V526.4H194.6V537.6" stroke="#000" stroke-width="2.20" fill="none" stroke-linejoin="miter"/>
<rect x="69.00" y="562.00" width="20.94" height="21.40" fill="#6dbd45" shape-rendering="crispEdges"/>
<rect x="89.94" y="562.00" width="20.94" height="21.40" fill="#196633" shape-rendering="crispEdges"/>
<rect x="110.88" y="562.00" width="20.94" height="21.40" fill="#6dbd45" shape-rendering="crispEdges"/>
<rect x="131.82" y="562.00" width="20.94" height="21.40" fill="#196633" shape-rendering="crispEdges"/>
<rect x="152.76" y="562.00" width="20.94" height="21.40" fill="#6dbd45" shape-rendering="crispEdges"/>
<rect x="173.70" y="562.00" width="20.94" height="21.40" fill="#196633" shape-rendering="crispEdges"/>
<rect x="194.64" y="562.00" width="20.94" height="21.40" fill="#6dbd45" shape-rendering="crispEdges"/>
<rect x="215.58" y="562.00" width="20.94" height="21.40" fill="#196633" shape-rendering="crispEdges"/>
<rect x="69.00" y="587.80" width="41.88" height="21.50" fill="#00a59b" shape-rendering="crispEdges"/>
<rect x="110.88" y="587.80" width="83.76" height="21.50" fill="#f6931e" shape-rendering="crispEdges"/>
<rect x="194.64" y="587.80" width="41.88" height="21.50" fill="#00a59b" shape-rendering="crispEdges"/>
<rect x="69.00" y="613.90" width="83.76" height="21.20" fill="#a9a9a7" shape-rendering="crispEdges"/>
<rect x="152.76" y="613.90" width="83.76" height="21.20" fill="#ec1e24" shape-rendering="crispEdges"/>
<text x="243.00" y="580.60" font-size="22.46" font-weight="bold" textLength="84.00" lengthAdjust="spacingAndGlyphs">Replicat</text>
<text x="243.00" y="606.40" font-size="22.34" font-weight="bold" textLength="95.50" lengthAdjust="spacingAndGlyphs">Cell_Line</text>
<text x="243.00" y="632.40" font-size="22.36" font-weight="bold" textLength="64.50" lengthAdjust="spacingAndGlyphs">siRNA</text>
<g shape-rendering="crispEdges">
<rect x="69" y="642" width="21" height="23" fill="#d3e6f0"/>
<rect x="90" y="642" width="21" height="23" fill="#d3e6f0"/>
<rect x="111" y="642" width="21" height="23" fill="#d3e6f0"/>
<rect x="132" y="642" width="21" height="23" fill="#d3e6f0"/>
<rect x="153" y="642" width="21" height="23" fill="#f8f2ef"/>
<rect x="174" y="642" width="21" height="23" fill="#e7eff4"/>
<rect x="195" y="642" width="21" height="23" fill="#f3a27f"/>
<rect x="216" y="642" width="21" height="23" fill="#e77c5b"/>
<rect x="69" y="665" width="21" height="23" fill="#e4eef3"/>
<rect x="90" y="665" width="21" height="23" fill="#e4eef3"/>
<rect x="111" y="665" width="21" height="23" fill="#e4eef3"/>
<rect x="132" y="665" width="21" height="23" fill="#e4eef3"/>
<rect x="153" y="665" width="21" height="23" fill="#e4eef3"/>
<rect x="174" y="665" width="21" height="23" fill="#e4eef3"/>
<rect x="195" y="665" width="21" height="23" fill="#e4eef3"/>
<rect x="216" y="665" width="21" height="23" fill="#b2182b"/>
<rect x="69" y="688" width="21" height="22" fill="#a9cee3"/>
<rect x="90" y="688" width="21" height="22" fill="#9cc7e0"/>
<rect x="111" y="688" width="21" height="22" fill="#deebf2"/>
<rect x="132" y="688" width="21" height="22" fill="#d3e6f0"/>
<rect x="153" y="688" width="21" height="22" fill="#fce0d0"/>
<rect x="174" y="688" width="21" height="22" fill="#fce0d0"/>
<rect x="195" y="688" width="21" height="22" fill="#fcd5bf"/>
<rect x="216" y="688" width="21" height="22" fill="#f4aa8a"/>
<rect x="69" y="710" width="21" height="23" fill="#d3e6f0"/>
<rect x="90" y="710" width="21" height="23" fill="#8fc0dc"/>
<rect x="111" y="710" width="21" height="23" fill="#b4d5e7"/>
<rect x="132" y="710" width="21" height="23" fill="#deebf2"/>
<rect x="153" y="710" width="21" height="23" fill="#fbe5d8"/>
<rect x="174" y="710" width="21" height="23" fill="#f6b497"/>
<rect x="195" y="710" width="21" height="23" fill="#fcd5bf"/>
<rect x="216" y="710" width="21" height="23" fill="#fddcc9"/>
<rect x="69" y="733" width="21" height="23" fill="#e7eff4"/>
<rect x="90" y="733" width="21" height="23" fill="#d3e6f0"/>
<rect x="111" y="733" width="21" height="23" fill="#d3e6f0"/>
<rect x="132" y="733" width="21" height="23" fill="#76b1d4"/>
<rect x="153" y="733" width="21" height="23" fill="#fbe5d8"/>
<rect x="174" y="733" width="21" height="23" fill="#f5af90"/>
<rect x="195" y="733" width="21" height="23" fill="#fcd5bf"/>
<rect x="216" y="733" width="21" height="23" fill="#fddcc9"/>
<rect x="69" y="756" width="21" height="22" fill="#d3e6f0"/>
<rect x="90" y="756" width="21" height="22" fill="#d3e6f0"/>
<rect x="111" y="756" width="21" height="22" fill="#a9cee3"/>
<rect x="132" y="756" width="21" height="22" fill="#b4d5e7"/>
<rect x="153" y="756" width="21" height="22" fill="#fcd5bf"/>
<rect x="174" y="756" width="21" height="22" fill="#f4aa8a"/>
<rect x="195" y="756" width="21" height="22" fill="#fce0d0"/>
<rect x="216" y="756" width="21" height="22" fill="#fddcc9"/>
<rect x="69" y="778" width="21" height="23" fill="#d1e5f0"/>
<rect x="90" y="778" width="21" height="23" fill="#d3e6f0"/>
<rect x="111" y="778" width="21" height="23" fill="#d9e9f1"/>
<rect x="132" y="778" width="21" height="23" fill="#afd2e5"/>
<rect x="153" y="778" width="21" height="23" fill="#fddcc9"/>
<rect x="174" y="778" width="21" height="23" fill="#e77c5b"/>
<rect x="195" y="778" width="21" height="23" fill="#fae9df"/>
<rect x="216" y="778" width="21" height="23" fill="#fae7dc"/>
<rect x="69" y="801" width="21" height="23" fill="#d3e6f0"/>
<rect x="90" y="801" width="21" height="23" fill="#cce2ee"/>
<rect x="111" y="801" width="21" height="23" fill="#b4d5e7"/>
<rect x="132" y="801" width="21" height="23" fill="#deebf2"/>
<rect x="153" y="801" width="21" height="23" fill="#f0916b"/>
<rect x="174" y="801" width="21" height="23" fill="#f3a27f"/>
<rect x="195" y="801" width="21" height="23" fill="#f2f4f6"/>
<rect x="216" y="801" width="21" height="23" fill="#f9eee7"/>
<rect x="69" y="824" width="21" height="23" fill="#60a2cc"/>
<rect x="90" y="824" width="21" height="23" fill="#a9cee3"/>
<rect x="111" y="824" width="21" height="23" fill="#f2f4f6"/>
<rect x="132" y="824" width="21" height="23" fill="#f2f4f6"/>
<rect x="153" y="824" width="21" height="23" fill="#fddcc9"/>
<rect x="174" y="824" width="21" height="23" fill="#f8bfa4"/>
<rect x="195" y="824" width="21" height="23" fill="#fbe5d8"/>
<rect x="216" y="824" width="21" height="23" fill="#fbe5d8"/>
<rect x="69" y="847" width="21" height="22" fill="#76b1d4"/>
<rect x="90" y="847" width="21" height="22" fill="#9cc7e0"/>
<rect x="111" y="847" width="21" height="22" fill="#ecf2f5"/>
<rect x="132" y="847" width="21" height="22" fill="#e7eff4"/>
<rect x="153" y="847" width="21" height="22" fill="#fddcc9"/>
<rect x="174" y="847" width="21" height="22" fill="#f3a27f"/>
<rect x="195" y="847" width="21" height="22" fill="#fae9df"/>
<rect x="216" y="847" width="21" height="22" fill="#fbe5d8"/>
<rect x="69" y="869" width="21" height="23" fill="#83b9d8"/>
<rect x="90" y="869" width="21" height="23" fill="#83b9d8"/>
<rect x="111" y="869" width="21" height="23" fill="#f7f7f7"/>
<rect x="132" y="869" width="21" height="23" fill="#f8f2ef"/>
<rect x="153" y="869" width="21" height="23" fill="#f8bfa4"/>
<rect x="174" y="869" width="21" height="23" fill="#f0916b"/>
<rect x="195" y="869" width="21" height="23" fill="#f7f7f7"/>
<rect x="216" y="869" width="21" height="23" fill="#f2f4f6"/>
<rect x="69" y="892" width="21" height="23" fill="#a9cee3"/>
<rect x="90" y="892" width="21" height="23" fill="#76b1d4"/>
<rect x="111" y="892" width="21" height="23" fill="#f8f2ef"/>
<rect x="132" y="892" width="21" height="23" fill="#f7f7f7"/>
<rect x="153" y="892" width="21" height="23" fill="#f8bfa4"/>
<rect x="174" y="892" width="21" height="23" fill="#f0916b"/>
<rect x="195" y="892" width="21" height="23" fill="#ecf2f5"/>
<rect x="216" y="892" width="21" height="23" fill="#f7f7f7"/>
<rect x="69" y="915" width="21" height="23" fill="#a9cee3"/>
<rect x="90" y="915" width="21" height="23" fill="#76b1d4"/>
<rect x="111" y="915" width="21" height="23" fill="#f7f7f7"/>
<rect x="132" y="915" width="21" height="23" fill="#f2f4f6"/>
<rect x="153" y="915" width="21" height="23" fill="#f8bfa4"/>
<rect x="174" y="915" width="21" height="23" fill="#f29a75"/>
<rect x="195" y="915" width="21" height="23" fill="#f7f7f7"/>
<rect x="216" y="915" width="21" height="23" fill="#f8f2ef"/>
<rect x="69" y="938" width="21" height="22" fill="#b4d5e7"/>
<rect x="90" y="938" width="21" height="22" fill="#5598c6"/>
<rect x="111" y="938" width="21" height="22" fill="#f8f2ef"/>
<rect x="132" y="938" width="21" height="22" fill="#f7f7f7"/>
<rect x="153" y="938" width="21" height="22" fill="#facab2"/>
<rect x="174" y="938" width="21" height="22" fill="#f6b497"/>
<rect x="195" y="938" width="21" height="22" fill="#f8f2ef"/>
<rect x="216" y="938" width="21" height="22" fill="#f9eee7"/>
<rect x="69" y="960" width="21" height="23" fill="#76b1d4"/>
<rect x="90" y="960" width="21" height="23" fill="#76b1d4"/>
<rect x="111" y="960" width="21" height="23" fill="#f9eee7"/>
<rect x="132" y="960" width="21" height="23" fill="#f8f2ef"/>
<rect x="153" y="960" width="21" height="23" fill="#facab2"/>
<rect x="174" y="960" width="21" height="23" fill="#f6b497"/>
<rect x="195" y="960" width="21" height="23" fill="#f8f2ef"/>
<rect x="216" y="960" width="21" height="23" fill="#f8f2ef"/>
<rect x="69" y="983" width="21" height="23" fill="#e4eef3"/>
<rect x="90" y="983" width="21" height="23" fill="#e4eef3"/>
<rect x="111" y="983" width="21" height="23" fill="#fae9df"/>
<rect x="132" y="983" width="21" height="23" fill="#e4eef3"/>
<rect x="153" y="983" width="21" height="23" fill="#e4eef3"/>
<rect x="174" y="983" width="21" height="23" fill="#b92431"/>
<rect x="195" y="983" width="21" height="23" fill="#e4eef3"/>
<rect x="216" y="983" width="21" height="23" fill="#e4eef3"/>
<rect x="69" y="1006" width="21" height="23" fill="#9cc7e0"/>
<rect x="90" y="1006" width="21" height="23" fill="#9cc7e0"/>
<rect x="111" y="1006" width="21" height="23" fill="#fae9df"/>
<rect x="132" y="1006" width="21" height="23" fill="#f8f2ef"/>
<rect x="153" y="1006" width="21" height="23" fill="#fcd5bf"/>
<rect x="174" y="1006" width="21" height="23" fill="#f4aa8a"/>
<rect x="195" y="1006" width="21" height="23" fill="#fce0d0"/>
<rect x="216" y="1006" width="21" height="23" fill="#9cc7e0"/>
<rect x="69" y="1029" width="21" height="22" fill="#d3e6f0"/>
<rect x="90" y="1029" width="21" height="22" fill="#d3e6f0"/>
<rect x="111" y="1029" width="21" height="22" fill="#d3e6f0"/>
<rect x="132" y="1029" width="21" height="22" fill="#fae9df"/>
<rect x="153" y="1029" width="21" height="22" fill="#f6b497"/>
<rect x="174" y="1029" width="21" height="22" fill="#e77c5b"/>
<rect x="195" y="1029" width="21" height="22" fill="#d3e6f0"/>
<rect x="216" y="1029" width="21" height="22" fill="#d3e6f0"/>
<rect x="69" y="1051" width="21" height="23" fill="#d3e6f0"/>
<rect x="90" y="1051" width="21" height="23" fill="#d3e6f0"/>
<rect x="111" y="1051" width="21" height="23" fill="#d3e6f0"/>
<rect x="132" y="1051" width="21" height="23" fill="#f6b497"/>
<rect x="153" y="1051" width="21" height="23" fill="#f6b497"/>
<rect x="174" y="1051" width="21" height="23" fill="#f6b497"/>
<rect x="195" y="1051" width="21" height="23" fill="#d3e6f0"/>
<rect x="216" y="1051" width="21" height="23" fill="#d3e6f0"/>
</g>
<text x="243.00" y="661.07" font-size="22.17" textLength="82.93" lengthAdjust="spacingAndGlyphs">SLAMF7</text>
<text x="243.00" y="683.80" font-size="22.17" textLength="79.02" lengthAdjust="spacingAndGlyphs">P2RY14</text>
<text x="243.00" y="706.53" font-size="22.17" textLength="46.20" lengthAdjust="spacingAndGlyphs">IRF9</text>
<text x="243.00" y="729.25" font-size="22.17" textLength="66.36" lengthAdjust="spacingAndGlyphs">CD274</text>
<text x="243.00" y="751.99" font-size="22.17" textLength="66.35" lengthAdjust="spacingAndGlyphs">HELZ2</text>
<text x="243.00" y="774.72" font-size="22.17" textLength="43.84" lengthAdjust="spacingAndGlyphs">MX2</text>
<text x="243.00" y="797.45" font-size="22.17" textLength="63.18" lengthAdjust="spacingAndGlyphs">STAT2</text>
<text x="243.00" y="820.18" font-size="22.17" textLength="67.55" lengthAdjust="spacingAndGlyphs">USP18</text>
<text x="243.00" y="842.91" font-size="22.17" textLength="60.44" lengthAdjust="spacingAndGlyphs">IFI44L</text>
<text x="243.00" y="865.64" font-size="22.17" textLength="49.75" lengthAdjust="spacingAndGlyphs">IFIT1</text>
<text x="243.00" y="888.37" font-size="22.17" textLength="80.58" lengthAdjust="spacingAndGlyphs">CXCL10</text>
<text x="243.00" y="911.10" font-size="22.17" textLength="49.75" lengthAdjust="spacingAndGlyphs">IFIT2</text>
<text x="243.00" y="933.83" font-size="22.17" textLength="71.09" lengthAdjust="spacingAndGlyphs">RSAD2</text>
<text x="243.00" y="956.56" font-size="22.17" textLength="53.32" lengthAdjust="spacingAndGlyphs">XAF1</text>
<text x="243.00" y="979.29" font-size="22.17" textLength="56.88" lengthAdjust="spacingAndGlyphs">OAS2</text>
<text x="243.00" y="1002.01" font-size="22.17" textLength="65.16" lengthAdjust="spacingAndGlyphs">HLA-G</text>
<text x="243.00" y="1024.74" font-size="22.17" textLength="64.76" lengthAdjust="spacingAndGlyphs">BATF2</text>
<text x="243.00" y="1047.47" font-size="22.17" textLength="53.32" lengthAdjust="spacingAndGlyphs">ZBP1</text>
<text x="243.00" y="1070.20" font-size="22.17" textLength="54.51" lengthAdjust="spacingAndGlyphs">CCL2</text>
<defs><linearGradient id="gD" x1="0" y1="0" x2="0" y2="1"><stop offset="0.000" stop-color="#b2182b"/><stop offset="0.167" stop-color="#ef8a62"/><stop offset="0.333" stop-color="#fddbc7"/><stop offset="0.500" stop-color="#f7f7f7"/><stop offset="0.667" stop-color="#d1e5f0"/><stop offset="0.833" stop-color="#67a9cf"/><stop offset="1.000" stop-color="#2166ac"/></linearGradient></defs>
<rect x="364.00" y="625.50" width="17.20" height="258.80" fill="url(#gD)"/>
<text x="387.80" y="656.80" font-size="16.00">2</text>
<text x="387.80" y="709.00" font-size="16.00">1</text>
<text x="387.80" y="761.30" font-size="16.00">0</text>
<text x="387.80" y="813.60" font-size="16.00">-1</text>
<text x="387.80" y="865.80" font-size="16.00">-2</text>
<text x="438.70" y="601.60" font-size="22.19" font-weight="bold" textLength="83.00" lengthAdjust="spacingAndGlyphs">Replicat</text>
<rect x="438.70" y="609.60" width="31.00" height="30.90" fill="#6dbd45"/>
<text x="475.70" y="631.95" font-size="21.83" textLength="42.00" lengthAdjust="spacingAndGlyphs">rep1</text>
<rect x="438.70" y="640.30" width="31.00" height="30.90" fill="#196633"/>
<text x="475.70" y="662.65" font-size="21.83" textLength="42.00" lengthAdjust="spacingAndGlyphs">rep2</text>
<text x="438.70" y="710.20" font-size="22.22" font-weight="bold" textLength="95.00" lengthAdjust="spacingAndGlyphs">Cell_Line</text>
<rect x="438.70" y="717.80" width="31.00" height="30.90" fill="#00a59b"/>
<text x="475.70" y="740.15" font-size="22.88" textLength="64.00" lengthAdjust="spacingAndGlyphs">RT112</text>
<rect x="438.70" y="748.50" width="31.00" height="30.90" fill="#f6931e"/>
<text x="475.70" y="770.85" font-size="22.28" textLength="75.00" lengthAdjust="spacingAndGlyphs">SCaBer</text>
<text x="438.70" y="818.40" font-size="22.18" font-weight="bold" textLength="64.00" lengthAdjust="spacingAndGlyphs">siRNA</text>
<rect x="438.70" y="827.20" width="31.00" height="30.90" fill="#a9a9a7"/>
<text x="475.70" y="849.55" font-size="22.16" textLength="103.00" lengthAdjust="spacingAndGlyphs">siControl-2</text>
<rect x="438.70" y="857.90" width="31.00" height="30.90" fill="#ec1e24"/>
<text x="475.70" y="880.25" font-size="21.91" textLength="103.00" lengthAdjust="spacingAndGlyphs">siFOXA1-1</text>
</g>
<g id="panelE">
<text x="850.20" y="588.20" font-size="28.95" font-weight="bold" text-anchor="middle" textLength="82.00" lengthAdjust="spacingAndGlyphs">RT112</text>
<path d="M731.4 643.7V625.2H763.2V643.7M794.9 643.7V628.8H826.7V643.7M858.4 643.7V627.6H890.2V643.7M921.9 643.7V626.1H953.7V643.7M874.3 627.6V622.1H937.8V626.1M810.8 628.8V619.1H906.0V622.1M747.3 625.2V604.8H858.4V619.1" stroke="#000" stroke-width="2.20" fill="none"/>
<rect x="715.50" y="644.90" width="31.75" height="21.30" fill="#6dbd45" shape-rendering="crispEdges"/>
<rect x="747.25" y="644.90" width="31.75" height="21.30" fill="#196633" shape-rendering="crispEdges"/>
<rect x="779.00" y="644.90" width="31.75" height="21.30" fill="#6dbd45" shape-rendering="crispEdges"/>
<rect x="810.75" y="644.90" width="31.75" height="21.30" fill="#196633" shape-rendering="crispEdges"/>
<rect x="842.50" y="644.90" width="31.75" height="21.30" fill="#6dbd45" shape-rendering="crispEdges"/>
<rect x="874.25" y="644.90" width="31.75" height="21.30" fill="#196633" shape-rendering="crispEdges"/>
<rect x="906.00" y="644.90" width="31.75" height="21.30" fill="#6dbd45" shape-rendering="crispEdges"/>
<rect x="937.75" y="644.90" width="31.75" height="21.30" fill="#196633" shape-rendering="crispEdges"/>
<rect x="715.50" y="671.70" width="254.00" height="21.30" fill="#00a59b" shape-rendering="crispEdges"/>
<rect x="715.50" y="698.20" width="63.50" height="21.30" fill="#ec1e24" shape-rendering="crispEdges"/>
<rect x="779.00" y="698.20" width="63.50" height="21.30" fill="#8a171a" shape-rendering="crispEdges"/>
<rect x="842.50" y="698.20" width="63.50" height="21.30" fill="#a9a9a7" shape-rendering="crispEdges"/>
<rect x="906.00" y="698.20" width="63.50" height="21.30" fill="#bdbdbd" shape-rendering="crispEdges"/>
<text x="975.90" y="663.00" font-size="22.73" font-weight="bold" textLength="85.00" lengthAdjust="spacingAndGlyphs">Replicat</text>
<text x="975.90" y="689.80" font-size="22.69" font-weight="bold" textLength="97.00" lengthAdjust="spacingAndGlyphs">Cell_Line</text>
<text x="975.90" y="716.20" font-size="22.70" font-weight="bold" textLength="65.50" lengthAdjust="spacingAndGlyphs">siRNA</text>
<g shape-rendering="crispEdges">
<rect x="716" y="727" width="31" height="19" fill="#f5bca3"/>
<rect x="747" y="727" width="32" height="19" fill="#f6e1d8"/>
<rect x="779" y="727" width="32" height="19" fill="#f2f5f6"/>
<rect x="811" y="727" width="31" height="19" fill="#f5b599"/>
<rect x="842" y="727" width="32" height="19" fill="#4396c4"/>
<rect x="874" y="727" width="32" height="19" fill="#7cb8d7"/>
<rect x="906" y="727" width="32" height="19" fill="#f4a987"/>
<rect x="938" y="727" width="32" height="19" fill="#f5cbb8"/>
<rect x="716" y="746" width="31" height="20" fill="#a1cce2"/>
<rect x="747" y="746" width="32" height="20" fill="#f5cbb8"/>
<rect x="779" y="746" width="32" height="20" fill="#d3e5ee"/>
<rect x="811" y="746" width="31" height="20" fill="#ec8670"/>
<rect x="842" y="746" width="32" height="20" fill="#a1cce2"/>
<rect x="874" y="746" width="32" height="20" fill="#a1cce2"/>
<rect x="906" y="746" width="32" height="20" fill="#e05653"/>
<rect x="938" y="746" width="32" height="20" fill="#bfdce9"/>
<rect x="716" y="766" width="31" height="19" fill="#d7e7ef"/>
<rect x="747" y="766" width="32" height="19" fill="#d7e7ef"/>
<rect x="779" y="766" width="32" height="19" fill="#9ccae0"/>
<rect x="811" y="766" width="31" height="19" fill="#5fa7cd"/>
<rect x="842" y="766" width="32" height="19" fill="#f3a381"/>
<rect x="874" y="766" width="32" height="19" fill="#e9f0f4"/>
<rect x="906" y="766" width="32" height="19" fill="#f3a381"/>
<rect x="938" y="766" width="32" height="19" fill="#ef9075"/>
<rect x="716" y="785" width="31" height="19" fill="#97c7df"/>
<rect x="747" y="785" width="32" height="19" fill="#bad9e8"/>
<rect x="779" y="785" width="32" height="19" fill="#bad9e8"/>
<rect x="811" y="785" width="31" height="19" fill="#8ac0db"/>
<rect x="842" y="785" width="32" height="19" fill="#f3a381"/>
<rect x="874" y="785" width="32" height="19" fill="#f5bca3"/>
<rect x="906" y="785" width="32" height="19" fill="#e5695e"/>
<rect x="938" y="785" width="32" height="19" fill="#f6dacd"/>
<rect x="716" y="804" width="31" height="20" fill="#f7f0ed"/>
<rect x="747" y="804" width="32" height="20" fill="#187cb6"/>
<rect x="779" y="804" width="32" height="20" fill="#a1cce2"/>
<rect x="811" y="804" width="31" height="20" fill="#f5bca3"/>
<rect x="842" y="804" width="32" height="20" fill="#f4ad8e"/>
<rect x="874" y="804" width="32" height="20" fill="#f7f0ed"/>
<rect x="906" y="804" width="32" height="20" fill="#f5cbb8"/>
<rect x="938" y="804" width="32" height="20" fill="#f5c0a8"/>
<rect x="716" y="824" width="31" height="19" fill="#bfdce9"/>
<rect x="747" y="824" width="32" height="19" fill="#1f80b8"/>
<rect x="779" y="824" width="32" height="19" fill="#d7e7ef"/>
<rect x="811" y="824" width="31" height="19" fill="#f2f5f6"/>
<rect x="842" y="824" width="32" height="19" fill="#f7f7f7"/>
<rect x="874" y="824" width="32" height="19" fill="#f3a381"/>
<rect x="906" y="824" width="32" height="19" fill="#ef9075"/>
<rect x="938" y="824" width="32" height="19" fill="#f5bca3"/>
<rect x="716" y="843" width="31" height="19" fill="#f2f5f6"/>
<rect x="747" y="843" width="32" height="19" fill="#6dafd2"/>
<rect x="779" y="843" width="32" height="19" fill="#8ac0db"/>
<rect x="811" y="843" width="31" height="19" fill="#dceaf0"/>
<rect x="842" y="843" width="32" height="19" fill="#f2f5f6"/>
<rect x="874" y="843" width="32" height="19" fill="#e77364"/>
<rect x="906" y="843" width="32" height="19" fill="#ef9075"/>
<rect x="938" y="843" width="32" height="19" fill="#f6d2c3"/>
<rect x="716" y="862" width="31" height="20" fill="#348dbf"/>
<rect x="747" y="862" width="32" height="20" fill="#c5deeb"/>
<rect x="779" y="862" width="32" height="20" fill="#f5b599"/>
<rect x="811" y="862" width="31" height="20" fill="#f6e5dd"/>
<rect x="842" y="862" width="32" height="20" fill="#f7f7f7"/>
<rect x="874" y="862" width="32" height="20" fill="#bfdce9"/>
<rect x="906" y="862" width="32" height="20" fill="#e05653"/>
<rect x="938" y="862" width="32" height="20" fill="#f6e8e2"/>
<rect x="716" y="882" width="31" height="19" fill="#b0d4e5"/>
<rect x="747" y="882" width="32" height="19" fill="#0571b0"/>
<rect x="779" y="882" width="32" height="19" fill="#f6d2c3"/>
<rect x="811" y="882" width="31" height="19" fill="#f5b599"/>
<rect x="842" y="882" width="32" height="19" fill="#f7f7f7"/>
<rect x="874" y="882" width="32" height="19" fill="#f6ddd2"/>
<rect x="906" y="882" width="32" height="19" fill="#f5bca3"/>
<rect x="938" y="882" width="32" height="19" fill="#f5b89e"/>
<rect x="716" y="901" width="31" height="19" fill="#66abd0"/>
<rect x="747" y="901" width="32" height="19" fill="#5fa7cd"/>
<rect x="779" y="901" width="32" height="19" fill="#f5bca3"/>
<rect x="811" y="901" width="31" height="19" fill="#f1997b"/>
<rect x="842" y="901" width="32" height="19" fill="#f6dacd"/>
<rect x="874" y="901" width="32" height="19" fill="#eef3f5"/>
<rect x="906" y="901" width="32" height="19" fill="#f7f3f2"/>
<rect x="938" y="901" width="32" height="19" fill="#f5b599"/>
<rect x="716" y="920" width="31" height="20" fill="#58a2cb"/>
<rect x="747" y="920" width="32" height="20" fill="#58a2cb"/>
<rect x="779" y="920" width="32" height="20" fill="#f6e5dd"/>
<rect x="811" y="920" width="31" height="20" fill="#f5b599"/>
<rect x="842" y="920" width="32" height="20" fill="#f6e5dd"/>
<rect x="874" y="920" width="32" height="20" fill="#f5bca3"/>
<rect x="906" y="920" width="32" height="20" fill="#f5cbb8"/>
<rect x="938" y="920" width="32" height="20" fill="#f5b89e"/>
<rect x="716" y="940" width="31" height="19" fill="#c5deeb"/>
<rect x="747" y="940" width="32" height="19" fill="#7cb8d7"/>
<rect x="779" y="940" width="32" height="19" fill="#e0ecf1"/>
<rect x="811" y="940" width="31" height="19" fill="#f4b193"/>
<rect x="842" y="940" width="32" height="19" fill="#e25f59"/>
<rect x="874" y="940" width="32" height="19" fill="#f7f7f7"/>
<rect x="906" y="940" width="32" height="19" fill="#f5bca3"/>
<rect x="938" y="940" width="32" height="19" fill="#8ac0db"/>
<rect x="716" y="959" width="31" height="19" fill="#7cb8d7"/>
<rect x="747" y="959" width="32" height="19" fill="#75b3d4"/>
<rect x="779" y="959" width="32" height="19" fill="#e5eef3"/>
<rect x="811" y="959" width="31" height="19" fill="#f5b89e"/>
<rect x="842" y="959" width="32" height="19" fill="#f5c4ae"/>
<rect x="874" y="959" width="32" height="19" fill="#e05653"/>
<rect x="906" y="959" width="32" height="19" fill="#f7ece7"/>
<rect x="938" y="959" width="32" height="19" fill="#e9f0f4"/>
<rect x="716" y="978" width="31" height="20" fill="#519ec9"/>
<rect x="747" y="978" width="32" height="20" fill="#8ac0db"/>
<rect x="779" y="978" width="32" height="20" fill="#cee3ed"/>
<rect x="811" y="978" width="31" height="20" fill="#f7f0ed"/>
<rect x="842" y="978" width="32" height="20" fill="#f6d2c3"/>
<rect x="874" y="978" width="32" height="20" fill="#f4a987"/>
<rect x="906" y="978" width="32" height="20" fill="#f4a987"/>
<rect x="938" y="978" width="32" height="20" fill="#f5c4ae"/>
<rect x="716" y="998" width="31" height="19" fill="#a1cce2"/>
<rect x="747" y="998" width="32" height="19" fill="#348dbf"/>
<rect x="779" y="998" width="32" height="19" fill="#f7f7f7"/>
<rect x="811" y="998" width="31" height="19" fill="#f2f5f6"/>
<rect x="842" y="998" width="32" height="19" fill="#ef9075"/>
<rect x="874" y="998" width="32" height="19" fill="#f7f0ed"/>
<rect x="906" y="998" width="32" height="19" fill="#f4a987"/>
<rect x="938" y="998" width="32" height="19" fill="#f5c4ae"/>
<rect x="716" y="1017" width="31" height="19" fill="#66abd0"/>
<rect x="747" y="1017" width="32" height="19" fill="#9ccae0"/>
<rect x="779" y="1017" width="32" height="19" fill="#f6e8e2"/>
<rect x="811" y="1017" width="31" height="19" fill="#f7f7f7"/>
<rect x="842" y="1017" width="32" height="19" fill="#d93b43"/>
<rect x="874" y="1017" width="32" height="19" fill="#f6d2c3"/>
<rect x="906" y="1017" width="32" height="19" fill="#f5bca3"/>
<rect x="938" y="1017" width="32" height="19" fill="#cae1ec"/>
</g>
<text x="975.90" y="743.87" font-size="22.38" textLength="71.75" lengthAdjust="spacingAndGlyphs">GRHL1</text>
<text x="975.90" y="763.21" font-size="22.38" textLength="71.75" lengthAdjust="spacingAndGlyphs">GRHL3</text>
<text x="975.90" y="782.55" font-size="22.38" textLength="82.50" lengthAdjust="spacingAndGlyphs">ZBTB7C</text>
<text x="975.90" y="801.89" font-size="22.38" textLength="68.97" lengthAdjust="spacingAndGlyphs">NPAS2</text>
<text x="975.90" y="821.23" font-size="22.38" textLength="71.75" lengthAdjust="spacingAndGlyphs">GRHL2</text>
<text x="975.90" y="840.57" font-size="22.38" textLength="58.58" lengthAdjust="spacingAndGlyphs">IKZF2</text>
<text x="975.90" y="859.91" font-size="22.38" textLength="53.82" lengthAdjust="spacingAndGlyphs">TBX3</text>
<text x="975.90" y="879.25" font-size="22.38" textLength="45.43" lengthAdjust="spacingAndGlyphs">AHR</text>
<text x="975.90" y="898.59" font-size="22.38" textLength="72.94" lengthAdjust="spacingAndGlyphs">FOXQ1</text>
<text x="975.90" y="917.93" font-size="22.38" textLength="43.04" lengthAdjust="spacingAndGlyphs">EHF</text>
<text x="975.90" y="937.27" font-size="22.38" textLength="67.36" lengthAdjust="spacingAndGlyphs">GATA3</text>
<text x="975.90" y="956.61" font-size="22.38" textLength="82.48" lengthAdjust="spacingAndGlyphs">MECOM</text>
<text x="975.90" y="975.95" font-size="22.38" textLength="56.21" lengthAdjust="spacingAndGlyphs">HES1</text>
<text x="975.90" y="995.29" font-size="22.38" textLength="70.55" lengthAdjust="spacingAndGlyphs">FOXA1</text>
<text x="975.90" y="1014.63" font-size="22.38" textLength="51.43" lengthAdjust="spacingAndGlyphs">KLF5</text>
<text x="975.90" y="1033.97" font-size="22.38" textLength="73.74" lengthAdjust="spacingAndGlyphs">PPARG</text>
<path d="M715.5 736.1H699.0V755.4H715.5M715.5 774.7H703.5V794.0H715.5M715.5 832.7H706.2V852.0H715.5M715.5 813.3H700.2V842.3H706.2M703.5 784.4H693.7V827.8H700.2M715.5 909.9H705.7V929.2H715.5M715.5 890.6H705.0V919.5H705.7M715.5 871.3H697.1V905.0H705.0M715.5 967.8H704.4V987.1H715.5M715.5 1006.4H703.5V1025.7H715.5M704.4 977.4H699.4V1016.0H703.5M715.5 948.5H694.6V996.7H699.4M697.1 888.1H692.9V972.6H694.6M693.7 806.1H687.8V930.4H692.9M699.0 745.8H680.3V868.2H687.8" stroke="#000" stroke-width="2.20" fill="none" stroke-linejoin="miter"/>
<text x="1299.70" y="592.40" font-size="28.58" font-weight="bold" text-anchor="middle" textLength="111.50" lengthAdjust="spacingAndGlyphs">SCaBER</text>
<path d="M1196.0 650.2V621.9H1227.7V650.2M1259.5 650.2V626.6H1291.2V650.2M1386.5 650.2V628.5H1418.2V650.2M1354.7 650.2V623.8H1402.3V628.5M1323.0 650.2V620.3H1378.5V623.8M1275.3 626.6V616.4H1350.7V620.3M1211.8 621.9V608.7H1313.0V616.4" stroke="#000" stroke-width="2.20" fill="none"/>
<rect x="1180.10" y="652.70" width="31.75" height="22.00" fill="#6dbd45" shape-rendering="crispEdges"/>
<rect x="1211.85" y="652.70" width="31.75" height="22.00" fill="#196633" shape-rendering="crispEdges"/>
<rect x="1243.60" y="652.70" width="31.75" height="22.00" fill="#6dbd45" shape-rendering="crispEdges"/>
<rect x="1275.35" y="652.70" width="31.75" height="22.00" fill="#196633" shape-rendering="crispEdges"/>
<rect x="1307.10" y="652.70" width="63.50" height="22.00" fill="#6dbd45" shape-rendering="crispEdges"/>
<rect x="1370.60" y="652.70" width="63.50" height="22.00" fill="#196633" shape-rendering="crispEdges"/>
<rect x="1180.10" y="679.40" width="254.00" height="21.80" fill="#f6931e" shape-rendering="crispEdges"/>
<rect x="1180.10" y="705.50" width="31.75" height="22.40" fill="#ec1e24" shape-rendering="crispEdges"/>
<rect x="1211.85" y="705.50" width="31.75" height="22.40" fill="#a9a9a7" shape-rendering="crispEdges"/>
<rect x="1243.60" y="705.50" width="31.75" height="22.40" fill="#bdbdbd" shape-rendering="crispEdges"/>
<rect x="1275.35" y="705.50" width="31.75" height="22.40" fill="#ec1e24" shape-rendering="crispEdges"/>
<rect x="1307.10" y="705.50" width="31.75" height="22.40" fill="#8a171a" shape-rendering="crispEdges"/>
<rect x="1338.85" y="705.50" width="31.75" height="22.40" fill="#a9a9a7" shape-rendering="crispEdges"/>
<rect x="1370.60" y="705.50" width="31.75" height="22.40" fill="#bdbdbd" shape-rendering="crispEdges"/>
<rect x="1402.35" y="705.50" width="31.75" height="22.40" fill="#8a171a" shape-rendering="crispEdges"/>
<text x="1440.70" y="671.50" font-size="22.73" font-weight="bold" textLength="85.00" lengthAdjust="spacingAndGlyphs">Replicat</text>
<text x="1440.70" y="698.00" font-size="22.69" font-weight="bold" textLength="97.00" lengthAdjust="spacingAndGlyphs">Cell_Line</text>
<text x="1440.70" y="724.50" font-size="22.70" font-weight="bold" textLength="65.50" lengthAdjust="spacingAndGlyphs">siRNA</text>
<g shape-rendering="crispEdges">
<rect x="1180" y="734" width="32" height="22" fill="#e9f0f4"/>
<rect x="1212" y="734" width="32" height="22" fill="#b5d6e7"/>
<rect x="1244" y="734" width="31" height="22" fill="#f3a381"/>
<rect x="1275" y="734" width="32" height="22" fill="#f2f5f6"/>
<rect x="1307" y="734" width="32" height="22" fill="#187cb6"/>
<rect x="1339" y="734" width="32" height="22" fill="#f3a381"/>
<rect x="1371" y="734" width="31" height="22" fill="#f6cfbd"/>
<rect x="1402" y="734" width="32" height="22" fill="#f6ddd2"/>
<rect x="1180" y="756" width="32" height="22" fill="#f4a987"/>
<rect x="1212" y="756" width="32" height="22" fill="#f6e8e2"/>
<rect x="1244" y="756" width="31" height="22" fill="#f4a987"/>
<rect x="1275" y="756" width="32" height="22" fill="#f1997b"/>
<rect x="1307" y="756" width="32" height="22" fill="#6dafd2"/>
<rect x="1339" y="756" width="32" height="22" fill="#cee3ed"/>
<rect x="1371" y="756" width="31" height="22" fill="#dceaf0"/>
<rect x="1402" y="756" width="32" height="22" fill="#7cb8d7"/>
<rect x="1180" y="778" width="32" height="22" fill="#f5c4ae"/>
<rect x="1212" y="778" width="32" height="22" fill="#f4a987"/>
<rect x="1244" y="778" width="31" height="22" fill="#f5cbb8"/>
<rect x="1275" y="778" width="32" height="22" fill="#f5c0a8"/>
<rect x="1307" y="778" width="32" height="22" fill="#7cb8d7"/>
<rect x="1339" y="778" width="32" height="22" fill="#58a2cb"/>
<rect x="1371" y="778" width="31" height="22" fill="#f5c7b3"/>
<rect x="1402" y="778" width="32" height="22" fill="#bfdce9"/>
<rect x="1180" y="800" width="32" height="21" fill="#0974b1"/>
<rect x="1212" y="800" width="32" height="21" fill="#f3a381"/>
<rect x="1244" y="800" width="31" height="21" fill="#f2f5f6"/>
<rect x="1275" y="800" width="32" height="21" fill="#bfdce9"/>
<rect x="1307" y="800" width="32" height="21" fill="#f5b89e"/>
<rect x="1339" y="800" width="32" height="21" fill="#f5b69b"/>
<rect x="1371" y="800" width="31" height="21" fill="#d3e5ee"/>
<rect x="1402" y="800" width="32" height="21" fill="#f6e1d8"/>
<rect x="1180" y="821" width="32" height="22" fill="#8ac0db"/>
<rect x="1212" y="821" width="32" height="22" fill="#f4ab8b"/>
<rect x="1244" y="821" width="31" height="22" fill="#d3e5ee"/>
<rect x="1275" y="821" width="32" height="22" fill="#d3e5ee"/>
<rect x="1307" y="821" width="32" height="22" fill="#8ac0db"/>
<rect x="1339" y="821" width="32" height="22" fill="#d93b43"/>
<rect x="1371" y="821" width="31" height="22" fill="#f7f7f7"/>
<rect x="1402" y="821" width="32" height="22" fill="#f6d2c3"/>
<rect x="1180" y="843" width="32" height="22" fill="#91c5de"/>
<rect x="1212" y="843" width="32" height="22" fill="#b0d4e5"/>
<rect x="1244" y="843" width="31" height="22" fill="#f7f3f2"/>
<rect x="1275" y="843" width="32" height="22" fill="#f4ad8e"/>
<rect x="1307" y="843" width="32" height="22" fill="#a6cfe3"/>
<rect x="1339" y="843" width="32" height="22" fill="#e5eef3"/>
<rect x="1371" y="843" width="31" height="22" fill="#f7f0ed"/>
<rect x="1402" y="843" width="32" height="22" fill="#d22133"/>
<rect x="1180" y="865" width="32" height="21" fill="#8ac0db"/>
<rect x="1212" y="865" width="32" height="21" fill="#f6cfbd"/>
<rect x="1244" y="865" width="31" height="21" fill="#75b3d4"/>
<rect x="1275" y="865" width="32" height="21" fill="#f6d2c3"/>
<rect x="1307" y="865" width="32" height="21" fill="#abd1e4"/>
<rect x="1339" y="865" width="32" height="21" fill="#f6e5dd"/>
<rect x="1371" y="865" width="31" height="21" fill="#ea7c6a"/>
<rect x="1402" y="865" width="32" height="21" fill="#f4a684"/>
<rect x="1180" y="886" width="32" height="22" fill="#b0d4e5"/>
<rect x="1212" y="886" width="32" height="22" fill="#a6cfe3"/>
<rect x="1244" y="886" width="31" height="22" fill="#ea7c6a"/>
<rect x="1275" y="886" width="32" height="22" fill="#cee3ed"/>
<rect x="1307" y="886" width="32" height="22" fill="#f6d2c3"/>
<rect x="1339" y="886" width="32" height="22" fill="#7cb8d7"/>
<rect x="1371" y="886" width="31" height="22" fill="#f6e1d8"/>
<rect x="1402" y="886" width="32" height="22" fill="#e77364"/>
<rect x="1180" y="908" width="32" height="22" fill="#b5d6e7"/>
<rect x="1212" y="908" width="32" height="22" fill="#f6e5dd"/>
<rect x="1244" y="908" width="31" height="22" fill="#f5cbb8"/>
<rect x="1275" y="908" width="32" height="22" fill="#2685bb"/>
<rect x="1307" y="908" width="32" height="22" fill="#f5bca3"/>
<rect x="1339" y="908" width="32" height="22" fill="#f5cbb8"/>
<rect x="1371" y="908" width="31" height="22" fill="#bad9e8"/>
<rect x="1402" y="908" width="32" height="22" fill="#ea7c6a"/>
<rect x="1180" y="930" width="32" height="21" fill="#7cb8d7"/>
<rect x="1212" y="930" width="32" height="21" fill="#66abd0"/>
<rect x="1244" y="930" width="31" height="21" fill="#f4ad8e"/>
<rect x="1275" y="930" width="32" height="21" fill="#cee3ed"/>
<rect x="1307" y="930" width="32" height="21" fill="#ea7c6a"/>
<rect x="1339" y="930" width="32" height="21" fill="#f7ece7"/>
<rect x="1371" y="930" width="31" height="21" fill="#f6d6c8"/>
<rect x="1402" y="930" width="32" height="21" fill="#f6d6c8"/>
<rect x="1180" y="951" width="32" height="22" fill="#0571b0"/>
<rect x="1212" y="951" width="32" height="22" fill="#d3e5ee"/>
<rect x="1244" y="951" width="31" height="22" fill="#f4b193"/>
<rect x="1275" y="951" width="32" height="22" fill="#f7f7f7"/>
<rect x="1307" y="951" width="32" height="22" fill="#f4ab8b"/>
<rect x="1339" y="951" width="32" height="22" fill="#f5bca3"/>
<rect x="1371" y="951" width="31" height="22" fill="#f6e1d8"/>
<rect x="1402" y="951" width="32" height="22" fill="#d3e5ee"/>
<rect x="1180" y="973" width="32" height="22" fill="#0974b1"/>
<rect x="1212" y="973" width="32" height="22" fill="#a6cfe3"/>
<rect x="1244" y="973" width="31" height="22" fill="#f7ece7"/>
<rect x="1275" y="973" width="32" height="22" fill="#f4ad8e"/>
<rect x="1307" y="973" width="32" height="22" fill="#f6dacd"/>
<rect x="1339" y="973" width="32" height="22" fill="#f6dacd"/>
<rect x="1371" y="973" width="31" height="22" fill="#f4a987"/>
<rect x="1402" y="973" width="32" height="22" fill="#f7ece7"/>
<rect x="1180" y="995" width="32" height="21" fill="#97c7df"/>
<rect x="1212" y="995" width="32" height="21" fill="#cae1ec"/>
<rect x="1244" y="995" width="31" height="21" fill="#ec8670"/>
<rect x="1275" y="995" width="32" height="21" fill="#ec8670"/>
<rect x="1307" y="995" width="32" height="21" fill="#e0ecf1"/>
<rect x="1339" y="995" width="32" height="21" fill="#f4a987"/>
<rect x="1371" y="995" width="31" height="21" fill="#b5d6e7"/>
<rect x="1402" y="995" width="32" height="21" fill="#a1cce2"/>
<rect x="1180" y="1016" width="32" height="22" fill="#bad9e8"/>
<rect x="1212" y="1016" width="32" height="22" fill="#6dafd2"/>
<rect x="1244" y="1016" width="31" height="22" fill="#eef3f5"/>
<rect x="1275" y="1016" width="32" height="22" fill="#f3a381"/>
<rect x="1307" y="1016" width="32" height="22" fill="#f3a381"/>
<rect x="1339" y="1016" width="32" height="22" fill="#f4a987"/>
<rect x="1371" y="1016" width="31" height="22" fill="#8ac0db"/>
<rect x="1402" y="1016" width="32" height="22" fill="#f6dacd"/>
</g>
<text x="1440.70" y="752.54" font-size="22.38" textLength="68.97" lengthAdjust="spacingAndGlyphs">NPAS2</text>
<text x="1440.70" y="774.22" font-size="22.38" textLength="45.43" lengthAdjust="spacingAndGlyphs">AHR</text>
<text x="1440.70" y="795.90" font-size="22.38" textLength="67.36" lengthAdjust="spacingAndGlyphs">GATA3</text>
<text x="1440.70" y="817.58" font-size="22.38" textLength="43.04" lengthAdjust="spacingAndGlyphs">EHF</text>
<text x="1440.70" y="839.26" font-size="22.38" textLength="70.55" lengthAdjust="spacingAndGlyphs">FOXA1</text>
<text x="1440.70" y="860.94" font-size="22.38" textLength="82.48" lengthAdjust="spacingAndGlyphs">MECOM</text>
<text x="1440.70" y="882.62" font-size="22.38" textLength="73.74" lengthAdjust="spacingAndGlyphs">PPARG</text>
<text x="1440.70" y="904.30" font-size="22.38" textLength="71.75" lengthAdjust="spacingAndGlyphs">GRHL1</text>
<text x="1440.70" y="925.98" font-size="22.38" textLength="51.43" lengthAdjust="spacingAndGlyphs">KLF5</text>
<text x="1440.70" y="947.66" font-size="22.38" textLength="72.94" lengthAdjust="spacingAndGlyphs">FOXQ1</text>
<text x="1440.70" y="969.34" font-size="22.38" textLength="71.75" lengthAdjust="spacingAndGlyphs">GRHL2</text>
<text x="1440.70" y="991.02" font-size="22.38" textLength="56.21" lengthAdjust="spacingAndGlyphs">HES1</text>
<text x="1440.70" y="1012.70" font-size="22.38" textLength="58.58" lengthAdjust="spacingAndGlyphs">IKZF2</text>
<text x="1440.70" y="1034.38" font-size="22.38" textLength="53.82" lengthAdjust="spacingAndGlyphs">TBX3</text>
<path d="M1180.1 766.6H1161.6V788.2H1180.1M1180.1 745.0H1147.2V777.4H1161.6M1180.1 809.8H1157.1V831.4H1180.1M1180.1 853.1H1156.4V874.7H1180.1M1157.1 820.6H1146.0V863.9H1156.4M1180.1 896.3H1153.4V917.9H1180.1M1180.1 961.1H1164.5V982.7H1180.1M1180.1 939.5H1160.1V971.9H1164.5M1180.1 1004.3H1156.1V1025.9H1180.1M1160.1 955.7H1149.4V1015.1H1156.1M1153.4 907.1H1140.8V985.4H1149.4M1146.0 842.3H1138.6V946.3H1140.8M1147.2 761.2H1133.1V894.3H1138.6" stroke="#000" stroke-width="2.20" fill="none" stroke-linejoin="miter"/>
<defs><linearGradient id="gE" x1="0" y1="0" x2="0" y2="1"><stop offset="0.000" stop-color="#ca0020"/><stop offset="0.250" stop-color="#f4a582"/><stop offset="0.500" stop-color="#f7f7f7"/><stop offset="0.750" stop-color="#92c5de"/><stop offset="1.000" stop-color="#0571b0"/></linearGradient></defs>
<rect x="1556.20" y="730.20" width="17.60" height="257.80" fill="url(#gE)"/>
<text x="1579.60" y="749.20" font-size="15.80">2</text>
<text x="1579.60" y="806.90" font-size="15.80">1</text>
<text x="1579.60" y="864.70" font-size="15.80">0</text>
<text x="1579.60" y="922.40" font-size="15.80">-1</text>
<text x="1579.60" y="980.20" font-size="15.80">-2</text>
<text x="1624.20" y="751.20" font-size="22.06" font-weight="bold" textLength="82.50" lengthAdjust="spacingAndGlyphs">Replicat</text>
<rect x="1624.20" y="760.10" width="31.00" height="30.85" fill="#6dbd45"/>
<text x="1661.20" y="782.43" font-size="21.31" textLength="41.00" lengthAdjust="spacingAndGlyphs">rep1</text>
<rect x="1624.20" y="790.75" width="31.00" height="30.85" fill="#196633"/>
<text x="1661.20" y="813.08" font-size="21.31" textLength="41.00" lengthAdjust="spacingAndGlyphs">rep2</text>
<text x="1624.20" y="859.20" font-size="21.99" font-weight="bold" textLength="94.00" lengthAdjust="spacingAndGlyphs">Cell_Line</text>
<rect x="1624.20" y="867.60" width="31.00" height="30.85" fill="#00a59b"/>
<text x="1661.20" y="889.93" font-size="22.70" textLength="63.50" lengthAdjust="spacingAndGlyphs">RT112</text>
<rect x="1624.20" y="898.25" width="31.00" height="30.85" fill="#f6931e"/>
<text x="1661.20" y="920.58" font-size="22.09" textLength="85.00" lengthAdjust="spacingAndGlyphs">SCaBER</text>
<text x="1783.00" y="782.60" font-size="22.01" font-weight="bold" textLength="63.50" lengthAdjust="spacingAndGlyphs">siRNA</text>
<rect x="1783.00" y="791.00" width="31.00" height="30.90" fill="#bdbdbd"/>
<text x="1820.00" y="813.35" font-size="21.95" textLength="95.00" lengthAdjust="spacingAndGlyphs">siControl1</text>
<rect x="1783.00" y="821.70" width="31.00" height="30.90" fill="#a9a9a7"/>
<text x="1820.00" y="844.05" font-size="22.18" textLength="96.00" lengthAdjust="spacingAndGlyphs">siControl2</text>
<rect x="1783.00" y="852.40" width="31.00" height="30.90" fill="#ec1e24"/>
<text x="1820.00" y="874.75" font-size="21.69" textLength="102.00" lengthAdjust="spacingAndGlyphs">siFOXA1-1</text>
<rect x="1783.00" y="883.10" width="31.00" height="30.90" fill="#8a171a"/>
<text x="1820.00" y="905.45" font-size="21.69" textLength="102.00" lengthAdjust="spacingAndGlyphs">siFOXA1-2</text>
<text x="1073.60" y="1086.20" font-size="27.72" font-weight="bold" text-anchor="middle" textLength="300.60" lengthAdjust="spacingAndGlyphs">Luminal top TF network</text>
</g>
<g id="panelF">
<text x="383.20" y="1129.30" font-size="27.81" font-weight="bold" text-anchor="middle" textLength="571.00" lengthAdjust="spacingAndGlyphs">PCA projection of basal &amp; luminal signatures</text>
<circle cx="118.70" cy="1169.20" r="4.20" fill="#6abf5b"/>
<text x="136.60" y="1177.20" font-size="25.92" textLength="72.50" lengthAdjust="spacingAndGlyphs">RT112</text>
<circle cx="118.70" cy="1200.70" r="4.20" fill="#a6dcee"/>
<text x="136.60" y="1208.60" font-size="25.15" textLength="60.50" lengthAdjust="spacingAndGlyphs">SD48</text>
<circle cx="325.00" cy="1165.80" r="3.80" fill="#ef4b4e"/>
<text x="343.00" y="1173.80" font-size="25.20" textLength="66.00" lengthAdjust="spacingAndGlyphs">Ba/Sq</text>
<circle cx="325.00" cy="1194.40" r="3.80" fill="#2f7f7f"/>
<text x="343.00" y="1202.40" font-size="25.58" textLength="82.00" lengthAdjust="spacingAndGlyphs">LumNS</text>
<circle cx="325.00" cy="1223.50" r="3.80" fill="#4dba92"/>
<text x="343.00" y="1231.50" font-size="25.48" textLength="64.00" lengthAdjust="spacingAndGlyphs">LumP</text>
<circle cx="325.00" cy="1252.10" r="3.80" fill="#089dbf"/>
<text x="343.00" y="1260.10" font-size="25.34" textLength="65.00" lengthAdjust="spacingAndGlyphs">LumU</text>
<circle cx="520.80" cy="1168.70" r="4.60" fill="#111"/>
<text x="538.10" y="1176.90" font-size="25.16" textLength="69.00" lengthAdjust="spacingAndGlyphs">Tumor</text>
<path d="M520.8 1189.6L528.6 1197.4L520.8 1205.2L513 1197.4Z" stroke="#111" stroke-width="1.30" fill="none"/>
<text x="538.10" y="1205.60" font-size="25.71" textLength="125.00" lengthAdjust="spacingAndGlyphs">crisprCTRL</text>
<path d="M520.8 1218.2L528.6 1226L520.8 1233.8L513 1226ZM520.8 1218.2V1233.8M513 1226H528.6" stroke="#111" stroke-width="1.30" fill="none"/>
<text x="538.10" y="1234.20" font-size="25.26" textLength="139.00" lengthAdjust="spacingAndGlyphs">crisprFOXA1</text>
<path d="M89.7 1288.6V1707.2" stroke="#2a2a2a" stroke-width="1.60" fill="none"/>
<line x1="74.20" y1="1288.60" x2="89.70" y2="1288.60" stroke="#2a2a2a" stroke-width="1.60"/>
<text x="73.60" y="1297.10" font-size="28.03" text-anchor="middle" fill="#111" textLength="29.97" lengthAdjust="spacingAndGlyphs" transform="rotate(-90 73.60 1297.10)">20</text>
<line x1="74.20" y1="1392.80" x2="89.70" y2="1392.80" stroke="#2a2a2a" stroke-width="1.60"/>
<text x="73.60" y="1399.10" font-size="28.03" text-anchor="middle" fill="#111" textLength="29.97" lengthAdjust="spacingAndGlyphs" transform="rotate(-90 73.60 1399.10)">10</text>
<line x1="74.20" y1="1497.00" x2="89.70" y2="1497.00" stroke="#2a2a2a" stroke-width="1.60"/>
<text x="73.60" y="1499.50" font-size="28.03" text-anchor="middle" fill="#111" textLength="14.99" lengthAdjust="spacingAndGlyphs" transform="rotate(-90 73.60 1499.50)">0</text>
<line x1="74.20" y1="1601.90" x2="89.70" y2="1601.90" stroke="#2a2a2a" stroke-width="1.60"/>
<text x="73.60" y="1608.30" font-size="28.03" text-anchor="middle" fill="#111" textLength="45.71" lengthAdjust="spacingAndGlyphs" transform="rotate(-90 73.60 1608.30)">−10</text>
<line x1="74.20" y1="1707.20" x2="89.70" y2="1707.20" stroke="#2a2a2a" stroke-width="1.60"/>
<text x="73.60" y="1705.40" font-size="28.03" text-anchor="middle" fill="#111" textLength="45.71" lengthAdjust="spacingAndGlyphs" transform="rotate(-90 73.60 1705.40)">−20</text>
<path d="M101.9 1800.2H675.8" stroke="#2a2a2a" stroke-width="1.60" fill="none"/>
<line x1="101.90" y1="1800.20" x2="101.90" y2="1816.60" stroke="#2a2a2a" stroke-width="1.60"/>
<text x="101.90" y="1859.00" font-size="28.03" text-anchor="middle" fill="#111" textLength="45.71" lengthAdjust="spacingAndGlyphs">−40</text>
<line x1="183.60" y1="1800.20" x2="183.60" y2="1816.60" stroke="#2a2a2a" stroke-width="1.60"/>
<text x="183.60" y="1859.00" font-size="28.03" text-anchor="middle" fill="#111" textLength="45.71" lengthAdjust="spacingAndGlyphs">−30</text>
<line x1="265.70" y1="1800.20" x2="265.70" y2="1816.60" stroke="#2a2a2a" stroke-width="1.60"/>
<text x="265.70" y="1859.00" font-size="28.03" text-anchor="middle" fill="#111" textLength="45.71" lengthAdjust="spacingAndGlyphs">−20</text>
<line x1="347.80" y1="1800.20" x2="347.80" y2="1816.60" stroke="#2a2a2a" stroke-width="1.60"/>
<text x="347.80" y="1859.00" font-size="28.03" text-anchor="middle" fill="#111" textLength="45.71" lengthAdjust="spacingAndGlyphs">−10</text>
<line x1="429.50" y1="1800.20" x2="429.50" y2="1816.60" stroke="#2a2a2a" stroke-width="1.60"/>
<text x="429.50" y="1859.00" font-size="28.03" text-anchor="middle" fill="#111" textLength="14.99" lengthAdjust="spacingAndGlyphs">0</text>
<line x1="511.60" y1="1800.20" x2="511.60" y2="1816.60" stroke="#2a2a2a" stroke-width="1.60"/>
<text x="511.60" y="1859.00" font-size="28.03" text-anchor="middle" fill="#111" textLength="29.97" lengthAdjust="spacingAndGlyphs">10</text>
<line x1="593.70" y1="1800.20" x2="593.70" y2="1816.60" stroke="#2a2a2a" stroke-width="1.60"/>
<text x="593.70" y="1859.00" font-size="28.03" text-anchor="middle" fill="#111" textLength="29.97" lengthAdjust="spacingAndGlyphs">20</text>
<line x1="675.80" y1="1800.20" x2="675.80" y2="1816.60" stroke="#2a2a2a" stroke-width="1.60"/>
<text x="675.80" y="1859.00" font-size="28.03" text-anchor="middle" fill="#111" textLength="29.97" lengthAdjust="spacingAndGlyphs">30</text>
<text x="31.20" y="1496.00" font-size="27.27" text-anchor="middle" fill="#111" textLength="51.00" lengthAdjust="spacingAndGlyphs" transform="rotate(-90 31.20 1496.00)">PC2</text>
<text x="405.00" y="1889.60" font-size="27.27" text-anchor="middle" fill="#111" textLength="51.00" lengthAdjust="spacingAndGlyphs">PC1</text>
<g fill="#ef4b4e"><circle cx="334.2" cy="1308.5" r="3.7"/><circle cx="378.8" cy="1307.7" r="3.7"/><circle cx="246.8" cy="1326.6" r="3.7"/><circle cx="307.5" cy="1340.4" r="3.7"/><circle cx="195.5" cy="1354.0" r="3.7"/><circle cx="373.7" cy="1349.3" r="3.7"/><circle cx="336.6" cy="1358.3" r="3.7"/><circle cx="249.2" cy="1367.0" r="3.7"/><circle cx="273.8" cy="1371.0" r="3.7"/><circle cx="228.7" cy="1378.1" r="3.7"/><circle cx="302.7" cy="1379.9" r="3.7"/><circle cx="294.0" cy="1383.0" r="3.7"/><circle cx="364.7" cy="1380.1" r="3.7"/><circle cx="239.7" cy="1387.0" r="3.7"/><circle cx="253.5" cy="1394.6" r="3.7"/><circle cx="382.6" cy="1393.3" r="3.7"/><circle cx="216.2" cy="1401.1" r="3.7"/><circle cx="374.6" cy="1400.9" r="3.7"/><circle cx="233.0" cy="1415.6" r="3.7"/><circle cx="386.6" cy="1417.2" r="3.7"/><circle cx="398.2" cy="1415.1" r="3.7"/><circle cx="195.5" cy="1420.5" r="3.7"/><circle cx="359.6" cy="1422.3" r="3.7"/><circle cx="378.3" cy="1422.0" r="3.7"/><circle cx="229.2" cy="1424.5" r="3.7"/><circle cx="190.4" cy="1428.1" r="3.7"/><circle cx="284.9" cy="1426.5" r="3.7"/><circle cx="221.6" cy="1431.6" r="3.7"/><circle cx="277.6" cy="1431.9" r="3.7"/><circle cx="169.8" cy="1434.1" r="3.7"/><circle cx="213.5" cy="1437.7" r="3.7"/><circle cx="244.8" cy="1440.3" r="3.7"/><circle cx="185.7" cy="1441.0" r="3.7"/><circle cx="398.2" cy="1440.4" r="3.7"/><circle cx="277.6" cy="1446.4" r="3.7"/><circle cx="169.0" cy="1451.5" r="3.7"/><circle cx="228.1" cy="1451.5" r="3.7"/><circle cx="366.8" cy="1454.0" r="3.7"/><circle cx="276.7" cy="1451.3" r="3.7"/><circle cx="271.8" cy="1455.5" r="3.7"/><circle cx="282.2" cy="1454.4" r="3.7"/><circle cx="284.5" cy="1458.0" r="3.7"/><circle cx="168.0" cy="1458.6" r="3.7"/><circle cx="293.0" cy="1462.6" r="3.7"/><circle cx="268.6" cy="1465.3" r="3.7"/><circle cx="229.2" cy="1465.6" r="3.7"/><circle cx="237.2" cy="1465.3" r="3.7"/><circle cx="273.1" cy="1469.8" r="3.7"/><circle cx="308.1" cy="1471.3" r="3.7"/><circle cx="351.2" cy="1470.9" r="3.7"/><circle cx="246.3" cy="1479.6" r="3.7"/><circle cx="211.8" cy="1480.3" r="3.7"/><circle cx="183.9" cy="1481.1" r="3.7"/><circle cx="261.3" cy="1481.2" r="3.7"/><circle cx="367.6" cy="1480.5" r="3.7"/><circle cx="324.4" cy="1484.5" r="3.7"/><circle cx="389.1" cy="1484.9" r="3.7"/><circle cx="150.7" cy="1487.6" r="3.7"/><circle cx="220.2" cy="1489.9" r="3.7"/><circle cx="368.6" cy="1490.1" r="3.7"/><circle cx="201.7" cy="1492.7" r="3.7"/><circle cx="213.8" cy="1493.4" r="3.7"/><circle cx="266.8" cy="1494.3" r="3.7"/><circle cx="180.6" cy="1495.7" r="3.7"/><circle cx="193.3" cy="1497.0" r="3.7"/><circle cx="174.3" cy="1499.9" r="3.7"/><circle cx="181.2" cy="1499.9" r="3.7"/><circle cx="317.9" cy="1499.9" r="3.7"/><circle cx="218.9" cy="1501.5" r="3.7"/><circle cx="359.2" cy="1500.8" r="3.7"/><circle cx="202.8" cy="1503.9" r="3.7"/><circle cx="206.0" cy="1507.0" r="3.7"/><circle cx="300.3" cy="1509.0" r="3.7"/><circle cx="220.2" cy="1510.2" r="3.7"/><circle cx="193.9" cy="1511.1" r="3.7"/><circle cx="274.9" cy="1511.0" r="3.7"/><circle cx="315.0" cy="1513.0" r="3.7"/><circle cx="190.1" cy="1515.1" r="3.7"/><circle cx="245.4" cy="1516.0" r="3.7"/><circle cx="229.2" cy="1516.8" r="3.7"/><circle cx="188.4" cy="1520.8" r="3.7"/><circle cx="179.2" cy="1521.5" r="3.7"/><circle cx="212.4" cy="1521.5" r="3.7"/><circle cx="147.7" cy="1522.6" r="3.7"/><circle cx="148.0" cy="1525.6" r="3.7"/><circle cx="156.4" cy="1526.2" r="3.7"/><circle cx="379.2" cy="1522.0" r="3.7"/><circle cx="232.5" cy="1522.9" r="3.7"/><circle cx="355.0" cy="1526.2" r="3.7"/><circle cx="348.9" cy="1527.5" r="3.7"/><circle cx="112.7" cy="1527.1" r="3.7"/><circle cx="247.9" cy="1527.5" r="3.7"/><circle cx="239.0" cy="1529.8" r="3.7"/><circle cx="156.2" cy="1535.6" r="3.7"/><circle cx="262.6" cy="1536.0" r="3.7"/><circle cx="323.5" cy="1536.0" r="3.7"/><circle cx="350.3" cy="1539.2" r="3.7"/><circle cx="454.0" cy="1297.6" r="3.7"/><circle cx="408.7" cy="1304.5" r="3.7"/><circle cx="411.2" cy="1319.0" r="3.7"/><circle cx="411.2" cy="1350.7" r="3.7"/><circle cx="451.7" cy="1363.8" r="3.7"/><circle cx="448.9" cy="1371.9" r="3.7"/><circle cx="408.7" cy="1449.0" r="3.7"/><circle cx="505.1" cy="1443.2" r="3.7"/><circle cx="458.4" cy="1453.1" r="3.7"/><circle cx="485.2" cy="1454.9" r="3.7"/><circle cx="422.3" cy="1464.0" r="3.7"/><circle cx="438.1" cy="1464.9" r="3.7"/><circle cx="475.8" cy="1474.0" r="3.7"/><circle cx="428.5" cy="1492.5" r="3.7"/><circle cx="403.6" cy="1518.9" r="3.7"/><circle cx="451.1" cy="1531.1" r="3.7"/><circle cx="169.2" cy="1543.6" r="3.7"/><circle cx="217.3" cy="1543.3" r="3.7"/><circle cx="323.3" cy="1541.8" r="3.7"/><circle cx="203.5" cy="1554.5" r="3.7"/><circle cx="283.4" cy="1551.4" r="3.7"/><circle cx="302.5" cy="1556.3" r="3.7"/><circle cx="249.2" cy="1557.2" r="3.7"/><circle cx="252.6" cy="1558.7" r="3.7"/><circle cx="397.3" cy="1558.1" r="3.7"/><circle cx="196.4" cy="1564.8" r="3.7"/><circle cx="254.6" cy="1564.5" r="3.7"/><circle cx="258.2" cy="1569.0" r="3.7"/><circle cx="295.6" cy="1578.6" r="3.7"/><circle cx="127.0" cy="1589.3" r="3.7"/><circle cx="211.1" cy="1586.8" r="3.7"/><circle cx="231.8" cy="1585.3" r="3.7"/><circle cx="197.0" cy="1591.1" r="3.7"/><circle cx="262.2" cy="1589.3" r="3.7"/><circle cx="339.8" cy="1592.6" r="3.7"/><circle cx="168.1" cy="1604.2" r="3.7"/><circle cx="345.3" cy="1600.4" r="3.7"/><circle cx="326.2" cy="1611.8" r="3.7"/><circle cx="132.6" cy="1619.0" r="3.7"/><circle cx="361.6" cy="1619.0" r="3.7"/><circle cx="157.6" cy="1655.3" r="3.7"/><circle cx="251.3" cy="1691.0" r="3.7"/><circle cx="219.4" cy="1694.3" r="3.7"/><circle cx="299.4" cy="1691.0" r="3.7"/><circle cx="246.3" cy="1706.8" r="3.7"/><circle cx="197.1" cy="1711.3" r="3.7"/><circle cx="354.5" cy="1711.7" r="3.7"/><circle cx="162.7" cy="1735.8" r="3.7"/><circle cx="388.2" cy="1764.8" r="3.7"/><circle cx="363.7" cy="1779.3" r="3.7"/><circle cx="465.6" cy="1556.3" r="3.7"/><circle cx="430.3" cy="1570.8" r="3.7"/><circle cx="447.1" cy="1641.0" r="3.7"/></g>
<g fill="#4dba92"><circle cx="371.9" cy="1376.1" r="3.7"/><circle cx="367.9" cy="1409.6" r="3.7"/><circle cx="477.6" cy="1305.0" r="3.7"/><circle cx="498.4" cy="1329.3" r="3.7"/><circle cx="412.0" cy="1333.7" r="3.7"/><circle cx="522.4" cy="1373.7" r="3.7"/><circle cx="477.6" cy="1380.1" r="3.7"/><circle cx="460.7" cy="1384.2" r="3.7"/><circle cx="467.1" cy="1383.9" r="3.7"/><circle cx="421.0" cy="1385.7" r="3.7"/><circle cx="546.8" cy="1385.7" r="3.7"/><circle cx="590.5" cy="1385.5" r="3.7"/><circle cx="445.0" cy="1398.2" r="3.7"/><circle cx="503.3" cy="1398.4" r="3.7"/><circle cx="573.1" cy="1394.9" r="3.7"/><circle cx="595.6" cy="1395.3" r="3.7"/><circle cx="550.1" cy="1399.3" r="3.7"/><circle cx="510.2" cy="1404.2" r="3.7"/><circle cx="566.4" cy="1404.7" r="3.7"/><circle cx="568.2" cy="1408.2" r="3.7"/><circle cx="439.9" cy="1409.6" r="3.7"/><circle cx="537.2" cy="1409.1" r="3.7"/><circle cx="508.2" cy="1415.6" r="3.7"/><circle cx="576.8" cy="1415.1" r="3.7"/><circle cx="548.3" cy="1419.1" r="3.7"/><circle cx="563.5" cy="1420.5" r="3.7"/><circle cx="545.0" cy="1425.4" r="3.7"/><circle cx="588.9" cy="1425.0" r="3.7"/><circle cx="634.0" cy="1425.4" r="3.7"/><circle cx="480.7" cy="1430.3" r="3.7"/><circle cx="508.2" cy="1432.6" r="3.7"/><circle cx="580.2" cy="1429.0" r="3.7"/><circle cx="577.3" cy="1433.2" r="3.7"/><circle cx="567.7" cy="1434.8" r="3.7"/><circle cx="530.0" cy="1439.5" r="3.7"/><circle cx="535.1" cy="1442.6" r="3.7"/><circle cx="580.4" cy="1439.2" r="3.7"/><circle cx="580.0" cy="1441.9" r="3.7"/><circle cx="591.6" cy="1440.8" r="3.7"/><circle cx="602.5" cy="1440.3" r="3.7"/><circle cx="501.5" cy="1443.5" r="3.7"/><circle cx="557.4" cy="1446.4" r="3.7"/><circle cx="611.6" cy="1447.3" r="3.7"/><circle cx="425.9" cy="1451.5" r="3.7"/><circle cx="573.7" cy="1454.9" r="3.7"/><circle cx="595.8" cy="1455.3" r="3.7"/><circle cx="599.4" cy="1458.0" r="3.7"/><circle cx="579.5" cy="1459.8" r="3.7"/><circle cx="587.1" cy="1458.6" r="3.7"/><circle cx="600.0" cy="1460.7" r="3.7"/><circle cx="505.1" cy="1460.9" r="3.7"/><circle cx="630.1" cy="1460.7" r="3.7"/><circle cx="496.1" cy="1463.5" r="3.7"/><circle cx="646.0" cy="1463.1" r="3.7"/><circle cx="535.6" cy="1466.4" r="3.7"/><circle cx="499.7" cy="1469.4" r="3.7"/><circle cx="504.2" cy="1471.6" r="3.7"/><circle cx="447.5" cy="1471.3" r="3.7"/><circle cx="541.8" cy="1470.7" r="3.7"/><circle cx="603.4" cy="1469.4" r="3.7"/><circle cx="627.5" cy="1469.4" r="3.7"/><circle cx="544.1" cy="1474.0" r="3.7"/><circle cx="547.2" cy="1475.8" r="3.7"/><circle cx="517.5" cy="1475.8" r="3.7"/><circle cx="589.4" cy="1474.0" r="3.7"/><circle cx="593.6" cy="1476.7" r="3.7"/><circle cx="617.9" cy="1475.8" r="3.7"/><circle cx="658.9" cy="1474.9" r="3.7"/><circle cx="561.0" cy="1478.2" r="3.7"/><circle cx="565.3" cy="1480.9" r="3.7"/><circle cx="467.4" cy="1480.3" r="3.7"/><circle cx="466.7" cy="1482.7" r="3.7"/><circle cx="578.6" cy="1484.0" r="3.7"/><circle cx="539.6" cy="1485.4" r="3.7"/><circle cx="607.0" cy="1484.9" r="3.7"/><circle cx="615.7" cy="1486.3" r="3.7"/><circle cx="622.6" cy="1489.4" r="3.7"/><circle cx="655.1" cy="1487.9" r="3.7"/><circle cx="562.8" cy="1491.2" r="3.7"/><circle cx="662.9" cy="1493.4" r="3.7"/><circle cx="587.3" cy="1495.7" r="3.7"/><circle cx="535.6" cy="1497.2" r="3.7"/><circle cx="608.8" cy="1495.7" r="3.7"/><circle cx="620.8" cy="1498.8" r="3.7"/><circle cx="507.0" cy="1500.3" r="3.7"/><circle cx="513.7" cy="1500.3" r="3.7"/><circle cx="609.8" cy="1501.2" r="3.7"/><circle cx="507.3" cy="1505.3" r="3.7"/><circle cx="561.0" cy="1504.4" r="3.7"/><circle cx="611.6" cy="1508.4" r="3.7"/><circle cx="630.8" cy="1508.1" r="3.7"/><circle cx="486.1" cy="1512.6" r="3.7"/><circle cx="564.6" cy="1512.6" r="3.7"/><circle cx="485.6" cy="1516.6" r="3.7"/><circle cx="589.4" cy="1520.8" r="3.7"/><circle cx="644.2" cy="1520.2" r="3.7"/><circle cx="685.9" cy="1522.4" r="3.7"/><circle cx="651.6" cy="1526.2" r="3.7"/><circle cx="583.1" cy="1528.0" r="3.7"/><circle cx="677.4" cy="1528.9" r="3.7"/><circle cx="472.2" cy="1538.3" r="3.7"/><circle cx="590.9" cy="1546.0" r="3.7"/><circle cx="618.8" cy="1548.2" r="3.7"/><circle cx="641.1" cy="1546.3" r="3.7"/><circle cx="673.7" cy="1548.5" r="3.7"/><circle cx="622.6" cy="1557.6" r="3.7"/><circle cx="640.2" cy="1557.2" r="3.7"/><circle cx="674.1" cy="1556.7" r="3.7"/><circle cx="572.8" cy="1561.8" r="3.7"/><circle cx="604.5" cy="1564.1" r="3.7"/><circle cx="647.8" cy="1563.6" r="3.7"/><circle cx="574.6" cy="1572.6" r="3.7"/><circle cx="541.4" cy="1574.4" r="3.7"/><circle cx="516.9" cy="1579.0" r="3.7"/><circle cx="600.3" cy="1579.5" r="3.7"/><circle cx="629.3" cy="1584.1" r="3.7"/><circle cx="626.3" cy="1598.4" r="3.7"/><circle cx="616.1" cy="1601.6" r="3.7"/><circle cx="627.0" cy="1603.5" r="3.7"/><circle cx="558.6" cy="1610.3" r="3.7"/><circle cx="655.6" cy="1609.1" r="3.7"/><circle cx="604.5" cy="1612.2" r="3.7"/><circle cx="487.7" cy="1618.3" r="3.7"/><circle cx="606.1" cy="1621.9" r="3.7"/><circle cx="479.8" cy="1631.2" r="3.7"/><circle cx="655.6" cy="1652.8" r="3.7"/></g>
<g fill="#2f7f7f"><circle cx="517.1" cy="1365.2" r="3.7"/><circle cx="436.6" cy="1367.6" r="3.7"/><circle cx="483.4" cy="1392.9" r="3.7"/><circle cx="523.8" cy="1397.5" r="3.7"/><circle cx="531.4" cy="1401.1" r="3.7"/><circle cx="426.8" cy="1407.4" r="3.7"/><circle cx="503.0" cy="1408.4" r="3.7"/><circle cx="535.6" cy="1419.6" r="3.7"/><circle cx="550.1" cy="1421.0" r="3.7"/><circle cx="504.2" cy="1425.6" r="3.7"/><circle cx="443.5" cy="1420.5" r="3.7"/><circle cx="451.1" cy="1423.2" r="3.7"/><circle cx="458.4" cy="1418.7" r="3.7"/><circle cx="416.7" cy="1443.2" r="3.7"/><circle cx="489.6" cy="1453.5" r="3.7"/><circle cx="493.0" cy="1467.1" r="3.7"/><circle cx="468.5" cy="1469.4" r="3.7"/><circle cx="525.1" cy="1471.3" r="3.7"/><circle cx="494.3" cy="1476.7" r="3.7"/><circle cx="523.8" cy="1528.9" r="3.7"/><circle cx="549.6" cy="1531.1" r="3.7"/></g>
<g fill="#089dbf"><circle cx="469.8" cy="1430.5" r="3.7"/><circle cx="465.8" cy="1444.4" r="3.7"/><circle cx="422.7" cy="1460.4" r="3.7"/><circle cx="430.5" cy="1461.8" r="3.7"/><circle cx="465.3" cy="1460.7" r="3.7"/><circle cx="412.0" cy="1465.8" r="3.7"/><circle cx="545.4" cy="1480.0" r="3.7"/><circle cx="507.3" cy="1493.0" r="3.7"/><circle cx="514.2" cy="1495.2" r="3.7"/><circle cx="443.5" cy="1496.1" r="3.7"/><circle cx="529.1" cy="1509.3" r="3.7"/><circle cx="556.8" cy="1507.9" r="3.7"/><circle cx="559.5" cy="1513.0" r="3.7"/><circle cx="552.3" cy="1527.1" r="3.7"/><circle cx="493.7" cy="1531.5" r="3.7"/><circle cx="542.9" cy="1538.3" r="3.7"/><circle cx="466.2" cy="1539.2" r="3.7"/><circle cx="376.1" cy="1602.0" r="3.7"/><circle cx="447.7" cy="1548.7" r="3.7"/><circle cx="404.9" cy="1557.8" r="3.7"/><circle cx="472.2" cy="1557.6" r="3.7"/><circle cx="550.5" cy="1559.6" r="3.7"/><circle cx="502.4" cy="1566.3" r="3.7"/><circle cx="474.3" cy="1569.0" r="3.7"/><circle cx="594.9" cy="1568.1" r="3.7"/><circle cx="545.0" cy="1576.3" r="3.7"/><circle cx="488.3" cy="1592.6" r="3.7"/><circle cx="516.6" cy="1593.8" r="3.7"/><circle cx="509.3" cy="1596.2" r="3.7"/><circle cx="506.1" cy="1598.4" r="3.7"/><circle cx="592.5" cy="1598.9" r="3.7"/><circle cx="562.3" cy="1612.5" r="3.7"/><circle cx="472.7" cy="1615.8" r="3.7"/><circle cx="509.7" cy="1614.3" r="3.7"/><circle cx="552.3" cy="1616.9" r="3.7"/><circle cx="417.2" cy="1622.7" r="3.7"/><circle cx="644.7" cy="1628.8" r="3.7"/><circle cx="585.5" cy="1629.9" r="3.7"/><circle cx="421.0" cy="1632.5" r="3.7"/><circle cx="479.8" cy="1633.9" r="3.7"/><circle cx="479.8" cy="1637.9" r="3.7"/><circle cx="540.1" cy="1636.1" r="3.7"/><circle cx="541.6" cy="1643.3" r="3.7"/><circle cx="534.7" cy="1646.4" r="3.7"/><circle cx="574.4" cy="1650.2" r="3.7"/><circle cx="549.2" cy="1653.5" r="3.7"/><circle cx="578.8" cy="1658.7" r="3.7"/><circle cx="404.9" cy="1663.3" r="3.7"/><circle cx="531.1" cy="1664.5" r="3.7"/><circle cx="447.5" cy="1666.9" r="3.7"/><circle cx="587.3" cy="1695.0" r="3.7"/><circle cx="565.0" cy="1700.1" r="3.7"/><circle cx="425.6" cy="1734.9" r="3.7"/></g>
<path d="M385.3 1360.1L395.9 1370.7L385.3 1381.3L374.7 1370.7Z" stroke="#6abf5b" stroke-width="3.00" fill="none" stroke-linejoin="miter"/>
<path d="M385.3 1360.1V1381.3M374.7 1370.7H395.9" stroke="#6abf5b" stroke-width="2.55" fill="none"/>
<path d="M273.7 1431.3L284.3 1441.9L273.7 1452.5L263.1 1441.9Z" stroke="#6abf5b" stroke-width="3.00" fill="none" stroke-linejoin="miter"/>
<path d="M273.7 1431.3V1452.5M263.1 1441.9H284.3" stroke="#6abf5b" stroke-width="2.55" fill="none"/>
<path d="M399.2 1443.1L409.8 1453.7L399.2 1464.3L388.6 1453.7Z" stroke="#6abf5b" stroke-width="3.00" fill="none" stroke-linejoin="miter"/>
<path d="M399.2 1443.1V1464.3M388.6 1453.7H409.8" stroke="#6abf5b" stroke-width="2.55" fill="none"/>
<path d="M452.6 1407.3L463.2 1417.9L452.6 1428.5L442.0 1417.9Z" stroke="#6abf5b" stroke-width="3.00" fill="none" stroke-linejoin="miter"/>
<path d="M452.6 1407.3V1428.5M442.0 1417.9H463.2" stroke="#6abf5b" stroke-width="2.55" fill="none"/>
<path d="M517.9 1388.3L528.5 1398.9L517.9 1409.5L507.3 1398.9Z" stroke="#6abf5b" stroke-width="3.00" fill="none" stroke-linejoin="miter"/>
<path d="M527.2 1400.1L537.8 1410.7L527.2 1421.3L516.6 1410.7Z" stroke="#6abf5b" stroke-width="3.00" fill="none" stroke-linejoin="miter"/>
<path d="M578.9 1406.0L589.5 1416.6L578.9 1427.2L568.3 1416.6Z" stroke="#6abf5b" stroke-width="3.00" fill="none" stroke-linejoin="miter"/>
<path d="M326.3 1521.0L336.9 1531.6L326.3 1542.2L315.7 1531.6Z" stroke="#a6dcee" stroke-width="3.00" fill="none" stroke-linejoin="miter"/>
<path d="M326.3 1521.0V1542.2M315.7 1531.6H336.9" stroke="#a6dcee" stroke-width="2.55" fill="none"/>
<path d="M440.8 1500.8L451.4 1511.4L440.8 1522.0L430.2 1511.4Z" stroke="#a6dcee" stroke-width="3.00" fill="none" stroke-linejoin="miter"/>
<path d="M440.8 1500.8V1522.0M430.2 1511.4H451.4" stroke="#a6dcee" stroke-width="2.55" fill="none"/>
<path d="M383.2 1568.1L393.8 1578.7L383.2 1589.3L372.6 1578.7Z" stroke="#a6dcee" stroke-width="3.00" fill="none" stroke-linejoin="miter"/>
<path d="M383.2 1568.1V1589.3M372.6 1578.7H393.8" stroke="#a6dcee" stroke-width="2.55" fill="none"/>
<path d="M404.2 1586.2L414.8 1596.8L404.2 1607.4L393.6 1596.8Z" stroke="#a6dcee" stroke-width="3.00" fill="none" stroke-linejoin="miter"/>
<path d="M404.2 1586.2V1607.4M393.6 1596.8H414.8" stroke="#a6dcee" stroke-width="2.55" fill="none"/>
<path d="M403.4 1591.3L414.0 1601.9L403.4 1612.5L392.8 1601.9Z" stroke="#a6dcee" stroke-width="3.00" fill="none" stroke-linejoin="miter"/>
<path d="M403.4 1591.3V1612.5M392.8 1601.9H414.0" stroke="#a6dcee" stroke-width="2.55" fill="none"/>
<path d="M457.7 1583.3L468.3 1593.9L457.7 1604.5L447.1 1593.9Z" stroke="#a6dcee" stroke-width="3.00" fill="none" stroke-linejoin="miter"/>
<path d="M457.7 1583.3V1604.5M447.1 1593.9H468.3" stroke="#a6dcee" stroke-width="2.55" fill="none"/>
<path d="M458.9 1515.5L469.5 1526.1L458.9 1536.7L448.3 1526.1Z" stroke="#a6dcee" stroke-width="3.00" fill="none" stroke-linejoin="miter"/>
<path d="M431.6 1540.8L442.2 1551.4L431.6 1562.0L421.0 1551.4Z" stroke="#a6dcee" stroke-width="3.00" fill="none" stroke-linejoin="miter"/>
<path d="M447.6 1570.7L458.2 1581.3L447.6 1591.9L437.0 1581.3Z" stroke="#a6dcee" stroke-width="3.00" fill="none" stroke-linejoin="miter"/>
<path d="M527.2 1408.6L391.8 1429.6M400.0 1424.1L391.8 1429.6L401.3 1432.4" stroke="#1a1a1a" stroke-width="2.60" fill="none" stroke-linecap="round" stroke-linejoin="round"/>
<path d="M448.5 1551.6L402.6 1587.2M407.1 1578.4L402.6 1587.2L412.3 1585.0" stroke="#1a1a1a" stroke-width="2.60" fill="none" stroke-linecap="round" stroke-linejoin="round"/>
<line x1="257.70" y1="1422.10" x2="269.50" y2="1433.50" stroke="#111" stroke-width="1.50"/>
<line x1="318.70" y1="1536.60" x2="308.20" y2="1548.40" stroke="#111" stroke-width="1.50"/>
<text x="250.50" y="1418.00" font-size="20.81" font-weight="bold" fill="#1a1a1a" textLength="99.00" lengthAdjust="spacingAndGlyphs">RT112 F22</text>
<text x="272.80" y="1571.70" font-size="20.60" font-weight="bold" fill="#1a1a1a" textLength="100.20" lengthAdjust="spacingAndGlyphs">SD48 F122</text>
<text x="114.50" y="1775.80" font-size="22.87" fill="#111" textLength="55.00" lengthAdjust="spacingAndGlyphs">Basal</text>
<text x="603.20" y="1775.80" font-size="23.23" fill="#111" textLength="78.20" lengthAdjust="spacingAndGlyphs">Luminal</text>
<path d="M348.6 1771.6L183.6 1771.6M191.6 1767.4L183.6 1771.6L191.6 1775.8" stroke="#111" stroke-width="1.70" fill="none" stroke-linecap="round" stroke-linejoin="round"/>
<path d="M429.2 1772.2L594.3 1772.2M586.3 1776.4L594.3 1772.2L586.3 1768.0" stroke="#111" stroke-width="1.70" fill="none" stroke-linecap="round" stroke-linejoin="round"/>
</g>
<g id="panelG">
<rect x="910.80" y="1199.20" width="204.20" height="408.60" fill="none" stroke="#000" stroke-width="3.30"/>
<line x1="910.80" y1="1245.00" x2="1115.00" y2="1245.00" stroke="#000" stroke-width="3.30"/>
<text x="1012.90" y="1229.70" font-size="24.69" text-anchor="middle" fill="#111" textLength="69.05" lengthAdjust="spacingAndGlyphs">RT112</text>
<rect x="1130.20" y="1199.20" width="204.00" height="408.60" fill="none" stroke="#000" stroke-width="3.30"/>
<line x1="1130.20" y1="1245.00" x2="1334.20" y2="1245.00" stroke="#000" stroke-width="3.30"/>
<text x="1232.20" y="1229.70" font-size="24.69" text-anchor="middle" fill="#111" textLength="59.38" lengthAdjust="spacingAndGlyphs">SD48</text>
<line x1="903.80" y1="1322.70" x2="910.80" y2="1322.70" stroke="#222" stroke-width="1.90"/>
<text x="897.60" y="1331.40" font-size="24.94" text-anchor="end" fill="#111" textLength="46.68" lengthAdjust="spacingAndGlyphs">0.25</text>
<line x1="903.80" y1="1412.30" x2="910.80" y2="1412.30" stroke="#222" stroke-width="1.90"/>
<text x="897.60" y="1421.00" font-size="24.94" text-anchor="end" fill="#111" textLength="46.68" lengthAdjust="spacingAndGlyphs">0.00</text>
<line x1="903.80" y1="1502.00" x2="910.80" y2="1502.00" stroke="#222" stroke-width="1.90"/>
<text x="897.60" y="1510.70" font-size="24.94" text-anchor="end" fill="#111" textLength="60.69" lengthAdjust="spacingAndGlyphs">−0.25</text>
<line x1="903.80" y1="1591.70" x2="910.80" y2="1591.70" stroke="#222" stroke-width="1.90"/>
<text x="897.60" y="1600.40" font-size="24.94" text-anchor="end" fill="#111" textLength="60.69" lengthAdjust="spacingAndGlyphs">−0.50</text>
<line x1="966.70" y1="1608.50" x2="966.70" y2="1615.40" stroke="#222" stroke-width="1.90"/>
<text x="966.70" y="1636.80" font-size="24.94" text-anchor="middle" fill="#111" textLength="23.98" lengthAdjust="spacingAndGlyphs">Ct</text>
<line x1="1059.30" y1="1608.50" x2="1059.30" y2="1615.40" stroke="#222" stroke-width="1.90"/>
<text x="1059.30" y="1636.80" font-size="24.94" text-anchor="middle" fill="#111" textLength="73.32" lengthAdjust="spacingAndGlyphs">Mutant</text>
<line x1="1185.00" y1="1608.50" x2="1185.00" y2="1615.40" stroke="#222" stroke-width="1.90"/>
<text x="1185.00" y="1636.80" font-size="24.94" text-anchor="middle" fill="#111" textLength="23.98" lengthAdjust="spacingAndGlyphs">Ct</text>
<line x1="1277.30" y1="1608.50" x2="1277.30" y2="1615.40" stroke="#222" stroke-width="1.90"/>
<text x="1277.30" y="1636.80" font-size="24.94" text-anchor="middle" fill="#111" textLength="73.32" lengthAdjust="spacingAndGlyphs">Mutant</text>
<text x="823.00" y="1425.50" font-size="30.35" text-anchor="middle" fill="#111" textLength="385.50" lengthAdjust="spacingAndGlyphs" transform="rotate(-90 823.00 1425.50)">Urothelial differentiation score</text>
<line x1="948.33" y1="1351.33" x2="990.00" y2="1351.33" stroke="#111" stroke-width="2.00"/>
<line x1="1036.00" y1="1438.67" x2="1082.67" y2="1438.67" stroke="#111" stroke-width="2.00"/>
<line x1="1167.33" y1="1394.33" x2="1209.00" y2="1394.33" stroke="#111" stroke-width="2.00"/>
<line x1="1259.33" y1="1504.33" x2="1301.00" y2="1504.33" stroke="#111" stroke-width="2.00"/>
<circle cx="983.33" cy="1261.67" r="7.90" fill="#58595b"/>
<circle cx="948.33" cy="1351.33" r="7.90" fill="#58595b"/>
<circle cx="966.67" cy="1391.00" r="7.90" fill="#58595b"/>
<circle cx="1202.67" cy="1380.00" r="7.90" fill="#58595b"/>
<circle cx="1167.33" cy="1394.33" r="7.90" fill="#58595b"/>
<circle cx="1185.00" cy="1431.33" r="7.90" fill="#58595b"/>
<circle cx="1035.33" cy="1408.33" r="7.90" fill="#be1e2d"/>
<circle cx="1076.67" cy="1426.67" r="7.90" fill="#be1e2d"/>
<circle cx="1045.33" cy="1450.67" r="7.90" fill="#be1e2d"/>
<circle cx="1059.33" cy="1533.67" r="7.90" fill="#be1e2d"/>
<circle cx="1300.67" cy="1419.67" r="7.90" fill="#be1e2d"/>
<circle cx="1270.67" cy="1436.67" r="7.90" fill="#be1e2d"/>
<circle cx="1251.00" cy="1504.33" r="7.90" fill="#be1e2d"/>
<circle cx="1286.67" cy="1500.00" r="7.90" fill="#be1e2d"/>
<circle cx="1292.67" cy="1548.00" r="7.90" fill="#be1e2d"/>
<circle cx="1259.33" cy="1574.33" r="7.90" fill="#be1e2d"/>
<circle cx="1278.00" cy="1591.00" r="7.90" fill="#be1e2d"/>
<text x="1024.00" y="1275.60" font-size="20.52" fill="#111" textLength="85.50" lengthAdjust="spacingAndGlyphs">Wilcoxon,</text>
<text x="1024.00" y="1299.40" font-size="20.56" fill="#111" textLength="83.00" lengthAdjust="spacingAndGlyphs">p = 0.057</text>
<text x="1142.70" y="1272.20" font-size="20.52" fill="#111" textLength="85.50" lengthAdjust="spacingAndGlyphs">Wilcoxon,</text>
<text x="1142.70" y="1296.00" font-size="20.56" fill="#111" textLength="83.00" lengthAdjust="spacingAndGlyphs">p = 0.033</text>
</g>
<g id="panelH">
<rect x="1475.20" y="1195.00" width="210.40" height="408.60" fill="none" stroke="#000" stroke-width="3.30"/>
<line x1="1475.20" y1="1241.80" x2="1685.60" y2="1241.80" stroke="#000" stroke-width="3.30"/>
<text x="1580.40" y="1226.00" font-size="24.69" text-anchor="middle" fill="#111" textLength="69.05" lengthAdjust="spacingAndGlyphs">RT112</text>
<rect x="1700.40" y="1195.00" width="210.80" height="408.60" fill="none" stroke="#000" stroke-width="3.30"/>
<line x1="1700.40" y1="1241.80" x2="1911.20" y2="1241.80" stroke="#000" stroke-width="3.30"/>
<text x="1805.80" y="1226.00" font-size="24.69" text-anchor="middle" fill="#111" textLength="59.38" lengthAdjust="spacingAndGlyphs">SD48</text>
<line x1="1468.00" y1="1243.00" x2="1475.20" y2="1243.00" stroke="#222" stroke-width="1.90"/>
<text x="1460.00" y="1251.70" font-size="24.94" text-anchor="end" fill="#111" textLength="33.34" lengthAdjust="spacingAndGlyphs">0.6</text>
<line x1="1468.00" y1="1324.80" x2="1475.20" y2="1324.80" stroke="#222" stroke-width="1.90"/>
<text x="1460.00" y="1333.50" font-size="24.94" text-anchor="end" fill="#111" textLength="33.34" lengthAdjust="spacingAndGlyphs">0.3</text>
<line x1="1468.00" y1="1406.90" x2="1475.20" y2="1406.90" stroke="#222" stroke-width="1.90"/>
<text x="1460.00" y="1415.60" font-size="24.94" text-anchor="end" fill="#111" textLength="33.34" lengthAdjust="spacingAndGlyphs">0.0</text>
<line x1="1468.00" y1="1489.00" x2="1475.20" y2="1489.00" stroke="#222" stroke-width="1.90"/>
<text x="1460.00" y="1497.70" font-size="24.94" text-anchor="end" fill="#111" textLength="47.35" lengthAdjust="spacingAndGlyphs">−0.3</text>
<line x1="1468.00" y1="1571.10" x2="1475.20" y2="1571.10" stroke="#222" stroke-width="1.90"/>
<text x="1460.00" y="1579.80" font-size="24.94" text-anchor="end" fill="#111" textLength="47.35" lengthAdjust="spacingAndGlyphs">−0.6</text>
<line x1="1532.30" y1="1604.40" x2="1532.30" y2="1611.40" stroke="#222" stroke-width="1.90"/>
<text x="1532.30" y="1633.60" font-size="24.94" text-anchor="middle" fill="#111" textLength="23.98" lengthAdjust="spacingAndGlyphs">Ct</text>
<line x1="1628.20" y1="1604.40" x2="1628.20" y2="1611.40" stroke="#222" stroke-width="1.90"/>
<text x="1628.20" y="1633.60" font-size="24.94" text-anchor="middle" fill="#111" textLength="73.32" lengthAdjust="spacingAndGlyphs">Mutant</text>
<line x1="1757.80" y1="1604.40" x2="1757.80" y2="1611.40" stroke="#222" stroke-width="1.90"/>
<text x="1757.80" y="1633.60" font-size="24.94" text-anchor="middle" fill="#111" textLength="23.98" lengthAdjust="spacingAndGlyphs">Ct</text>
<line x1="1853.70" y1="1604.40" x2="1853.70" y2="1611.40" stroke="#222" stroke-width="1.90"/>
<text x="1853.70" y="1633.60" font-size="24.94" text-anchor="middle" fill="#111" textLength="73.32" lengthAdjust="spacingAndGlyphs">Mutant</text>
<text x="1399.50" y="1422.50" font-size="30.40" text-anchor="middle" fill="#111" textLength="196.00" lengthAdjust="spacingAndGlyphs" transform="rotate(-90 1399.50 1422.50)">Basal TF score</text>
<line x1="1513.52" y1="1586.16" x2="1556.75" y2="1586.16" stroke="#111" stroke-width="2.00"/>
<line x1="1604.67" y1="1318.76" x2="1652.25" y2="1318.76" stroke="#111" stroke-width="2.00"/>
<line x1="1738.70" y1="1435.70" x2="1781.59" y2="1435.70" stroke="#111" stroke-width="2.00"/>
<line x1="1830.18" y1="1316.08" x2="1877.76" y2="1316.08" stroke="#111" stroke-width="2.00"/>
<circle cx="1542.00" cy="1498.03" r="7.90" fill="#58595b"/>
<circle cx="1513.52" cy="1586.16" r="7.90" fill="#58595b"/>
<circle cx="1532.29" cy="1586.83" r="7.90" fill="#58595b"/>
<circle cx="1776.90" cy="1373.38" r="7.90" fill="#58595b"/>
<circle cx="1738.70" cy="1435.70" r="7.90" fill="#58595b"/>
<circle cx="1757.80" cy="1539.92" r="7.90" fill="#58595b"/>
<circle cx="1601.99" cy="1258.11" r="7.90" fill="#be1e2d"/>
<circle cx="1645.55" cy="1281.90" r="7.90" fill="#be1e2d"/>
<circle cx="1616.06" cy="1356.29" r="7.90" fill="#be1e2d"/>
<circle cx="1628.12" cy="1406.22" r="7.90" fill="#be1e2d"/>
<circle cx="1845.93" cy="1269.84" r="7.90" fill="#be1e2d"/>
<circle cx="1825.15" cy="1297.65" r="7.90" fill="#be1e2d"/>
<circle cx="1863.35" cy="1295.30" r="7.90" fill="#be1e2d"/>
<circle cx="1867.37" cy="1334.84" r="7.90" fill="#be1e2d"/>
<circle cx="1845.26" cy="1501.05" r="7.90" fill="#be1e2d"/>
<circle cx="1853.64" cy="1544.61" r="7.90" fill="#be1e2d"/>
<text x="1485.70" y="1287.60" font-size="20.52" fill="#111" textLength="85.50" lengthAdjust="spacingAndGlyphs">Wilcoxon,</text>
<text x="1485.70" y="1311.20" font-size="20.56" fill="#111" textLength="83.00" lengthAdjust="spacingAndGlyphs">p = 0.057</text>
<text x="1717.60" y="1268.20" font-size="20.52" fill="#111" textLength="85.50" lengthAdjust="spacingAndGlyphs">Wilcoxon,</text>
<text x="1717.60" y="1291.70" font-size="20.70" fill="#111" textLength="72.50" lengthAdjust="spacingAndGlyphs">p = 0.38</text>
</g>
<g id="panelI">
<line x1="1204.68" y1="1678.80" x2="1204.68" y2="1887.30" stroke="#ececec" stroke-width="1.00"/>
<line x1="1250.23" y1="1678.80" x2="1250.23" y2="1887.30" stroke="#ececec" stroke-width="1.00"/>
<line x1="1295.78" y1="1678.80" x2="1295.78" y2="1887.30" stroke="#ececec" stroke-width="1.00"/>
<line x1="1341.33" y1="1678.80" x2="1341.33" y2="1887.30" stroke="#ececec" stroke-width="1.00"/>
<line x1="1181.90" y1="1678.80" x2="1181.90" y2="1887.30" stroke="#e4e4e4" stroke-width="1.90"/>
<line x1="1227.45" y1="1678.80" x2="1227.45" y2="1887.30" stroke="#e4e4e4" stroke-width="1.90"/>
<line x1="1273.00" y1="1678.80" x2="1273.00" y2="1887.30" stroke="#e4e4e4" stroke-width="1.90"/>
<line x1="1318.55" y1="1678.80" x2="1318.55" y2="1887.30" stroke="#e4e4e4" stroke-width="1.90"/>
<line x1="1174.60" y1="1708.50" x2="1353.80" y2="1708.50" stroke="#e4e4e4" stroke-width="1.90"/>
<line x1="1174.60" y1="1758.60" x2="1353.80" y2="1758.60" stroke="#e4e4e4" stroke-width="1.90"/>
<line x1="1174.60" y1="1808.70" x2="1353.80" y2="1808.70" stroke="#e4e4e4" stroke-width="1.90"/>
<line x1="1174.60" y1="1858.80" x2="1353.80" y2="1858.80" stroke="#e4e4e4" stroke-width="1.90"/>
<rect x="1181.90" y="1685.90" width="163.98" height="45.20" fill="#ec2024"/>
<rect x="1181.90" y="1736.00" width="132.09" height="45.20" fill="#e9174b"/>
<rect x="1181.90" y="1786.10" width="118.43" height="45.20" fill="#3b50a2"/>
<rect x="1181.90" y="1836.20" width="118.43" height="45.20" fill="#3b50a2"/>
<rect x="1174.60" y="1678.80" width="179.20" height="208.50" fill="none" stroke="#333" stroke-width="1.60"/>
<line x1="1169.40" y1="1708.50" x2="1174.60" y2="1708.50" stroke="#333" stroke-width="3.40"/>
<line x1="1169.40" y1="1758.60" x2="1174.60" y2="1758.60" stroke="#333" stroke-width="3.40"/>
<line x1="1169.40" y1="1808.70" x2="1174.60" y2="1808.70" stroke="#333" stroke-width="3.40"/>
<line x1="1169.40" y1="1858.80" x2="1174.60" y2="1858.80" stroke="#333" stroke-width="3.40"/>
<line x1="1181.90" y1="1887.30" x2="1181.90" y2="1891.50" stroke="#333" stroke-width="2.90"/>
<text x="1181.90" y="1907.20" font-size="16.00" text-anchor="middle" fill="#111">0</text>
<line x1="1227.45" y1="1887.30" x2="1227.45" y2="1891.50" stroke="#333" stroke-width="2.90"/>
<text x="1227.45" y="1907.20" font-size="16.00" text-anchor="middle" fill="#111">10</text>
<line x1="1273.00" y1="1887.30" x2="1273.00" y2="1891.50" stroke="#333" stroke-width="2.90"/>
<text x="1273.00" y="1907.20" font-size="16.00" text-anchor="middle" fill="#111">20</text>
<line x1="1318.55" y1="1887.30" x2="1318.55" y2="1891.50" stroke="#333" stroke-width="2.90"/>
<text x="1318.55" y="1907.20" font-size="16.00" text-anchor="middle" fill="#111">30</text>
<text x="1157.30" y="1709.40" font-size="23.05" text-anchor="end" textLength="225.40" lengthAdjust="spacingAndGlyphs">KRAS SIGNALING DN</text>
<text x="1151.80" y="1761.40" font-size="23.13" text-anchor="end" textLength="264.00" lengthAdjust="spacingAndGlyphs">ALLOGRAFT REJECTION</text>
<text x="1151.80" y="1809.70" font-size="22.47" font-weight="bold" text-anchor="end" fill="#be1e2d" textLength="45.60" lengthAdjust="spacingAndGlyphs">EMT</text>
<text x="1151.80" y="1859.50" font-size="23.38" font-weight="bold" text-anchor="end" fill="#be1e2d" textLength="310.20" lengthAdjust="spacingAndGlyphs">INFLAMMATORY RESPONSE</text>
<text x="1373.40" y="1695.60" font-size="20.01" fill="#111" textLength="67.40" lengthAdjust="spacingAndGlyphs">p.adjust</text>
<defs><linearGradient id="gI" x1="0" y1="0" x2="0" y2="1"><stop offset="0" stop-color="#ed1c24"/><stop offset="0.25" stop-color="#e8175a"/><stop offset="0.5" stop-color="#c2188b"/><stop offset="0.75" stop-color="#833c9b"/><stop offset="1" stop-color="#3b54a4"/></linearGradient></defs>
<rect x="1390.9" y="1713.2" width="30.8" height="153" fill="url(#gI)"/>
<line x1="1415.40" y1="1745.40" x2="1421.70" y2="1745.40" stroke="#fff" stroke-width="1.00"/>
<line x1="1390.90" y1="1745.40" x2="1397.00" y2="1745.40" stroke="#fff" stroke-width="0.00"/>
<text x="1431.20" y="1750.80" font-size="15.87" fill="#111" textLength="29.70" lengthAdjust="spacingAndGlyphs">0.01</text>
<line x1="1415.40" y1="1777.50" x2="1421.70" y2="1777.50" stroke="#fff" stroke-width="1.00"/>
<line x1="1390.90" y1="1777.50" x2="1397.00" y2="1777.50" stroke="#fff" stroke-width="0.00"/>
<text x="1431.20" y="1782.90" font-size="15.87" fill="#111" textLength="29.70" lengthAdjust="spacingAndGlyphs">0.02</text>
<line x1="1415.40" y1="1809.60" x2="1421.70" y2="1809.60" stroke="#fff" stroke-width="1.00"/>
<line x1="1390.90" y1="1809.60" x2="1397.00" y2="1809.60" stroke="#fff" stroke-width="0.00"/>
<text x="1431.20" y="1815.00" font-size="15.87" fill="#111" textLength="29.70" lengthAdjust="spacingAndGlyphs">0.03</text>
<line x1="1415.40" y1="1841.70" x2="1421.70" y2="1841.70" stroke="#fff" stroke-width="1.00"/>
<line x1="1390.90" y1="1841.70" x2="1397.00" y2="1841.70" stroke="#fff" stroke-width="0.00"/>
<text x="1431.20" y="1847.10" font-size="15.87" fill="#111" textLength="29.70" lengthAdjust="spacingAndGlyphs">0.04</text>
</g>
<g id="panelJ">
<text x="415.50" y="1949.80" font-size="27.83" font-weight="bold" text-anchor="middle" textLength="347.00" lengthAdjust="spacingAndGlyphs">sgRNA guide1 vs Scramble</text>
<path d="M322.0 2288.2 L259.6 2288.2 L255.9 2295.7 Q255.9 2301.7 259.6 2303.6 Q291.0 2320.4 322.0 2329.8 Z" stroke="#248a42" stroke-width="1.20" fill="#248a42" stroke-linejoin="round"/>
<path d="M373.0 2288.2 L434.8 2288.2 L437.8 2294.8 Q437.4 2300.4 433.3 2302.3 Q403.3 2319.7 373.0 2329.0 Z" stroke="#248a42" stroke-width="1.20" fill="#248a42" stroke-linejoin="round"/>
<path d="M321.0 2287.9 L374.3 2287.9 L374.9 2327.9 L347.2 2336.9 L320.4 2328.8 Z" stroke="#4d4d4d" stroke-width="1.00" fill="#4d4d4d" stroke-linejoin="round"/>
<path d="M345.9 2288.8 L348.7 2288.8 L347.4 2299.5 Z" stroke="none" stroke-width="0.00" fill="#fff"/>
<path d="M323.2 2287.5 L323.2 2247.1 L327.5 2242.4 L337.8 2241.5 L342.5 2254.6 L344.9 2273.3 L345.7 2287.5 Z" stroke="#4f6dbd" stroke-width="2.00" fill="#4f6dbd" stroke-linejoin="round"/>
<path d="M350.6 2287.5 L351.3 2271.4 L353.2 2247.1 L356.5 2241.5 L370.0 2247.1 L370.0 2287.5 Z" stroke="#4f6dbd" stroke-width="2.00" fill="#4f6dbd" stroke-linejoin="round"/>
<g fill="#4f6dbd" fill-opacity="0.75"><circle cx="333.5" cy="2059.0" r="2.7"/><circle cx="371.5" cy="2127.7" r="2.7"/><circle cx="326.2" cy="2198.4" r="2.7"/><circle cx="362.2" cy="2195.6" r="2.7"/><circle cx="328.1" cy="2215.3" r="2.7"/><circle cx="333.2" cy="2211.5" r="2.7"/><circle cx="337.8" cy="2217.1" r="2.7"/><circle cx="330.7" cy="2223.7" r="2.7"/><circle cx="339.3" cy="2227.4" r="2.7"/><circle cx="329.4" cy="2231.7" r="2.7"/><circle cx="334.5" cy="2234.9" r="2.7"/><circle cx="338.8" cy="2235.8" r="2.7"/><circle cx="332.2" cy="2237.7" r="2.7"/><circle cx="358.4" cy="2215.3" r="2.7"/><circle cx="365.0" cy="2219.0" r="2.7"/><circle cx="360.3" cy="2221.8" r="2.7"/><circle cx="358.0" cy="2224.6" r="2.7"/><circle cx="363.1" cy="2233.0" r="2.7"/><circle cx="365.9" cy="2234.9" r="2.7"/><circle cx="363.7" cy="2238.6" r="2.7"/><circle cx="359.3" cy="2239.6" r="2.7"/><circle cx="335.2" cy="2236.2" r="2.7"/><circle cx="358.5" cy="2240.2" r="2.7"/><circle cx="336.7" cy="2244.7" r="2.7"/><circle cx="367.2" cy="2238.7" r="2.7"/><circle cx="332.0" cy="2236.2" r="2.7"/><circle cx="357.7" cy="2243.4" r="2.7"/><circle cx="326.1" cy="2238.4" r="2.7"/><circle cx="363.8" cy="2243.8" r="2.7"/><circle cx="329.0" cy="2243.6" r="2.7"/><circle cx="366.0" cy="2237.8" r="2.7"/><circle cx="337.7" cy="2245.0" r="2.7"/><circle cx="359.4" cy="2239.5" r="2.7"/><circle cx="340.0" cy="2240.2" r="2.7"/><circle cx="356.0" cy="2238.8" r="2.7"/><circle cx="338.4" cy="2243.7" r="2.7"/><circle cx="366.0" cy="2245.9" r="2.7"/><circle cx="333.7" cy="2248.6" r="2.7"/><circle cx="360.0" cy="2243.9" r="2.7"/><circle cx="338.1" cy="2243.9" r="2.7"/><circle cx="366.8" cy="2244.2" r="2.7"/><circle cx="336.2" cy="2236.4" r="2.7"/><circle cx="357.9" cy="2241.0" r="2.7"/><circle cx="326.9" cy="2238.9" r="2.7"/><circle cx="356.1" cy="2240.8" r="2.7"/><circle cx="335.2" cy="2240.6" r="2.7"/><circle cx="359.9" cy="2240.1" r="2.7"/><circle cx="329.7" cy="2248.1" r="2.7"/><circle cx="363.8" cy="2244.5" r="2.7"/><circle cx="328.2" cy="2245.4" r="2.7"/><circle cx="357.0" cy="2242.0" r="2.7"/><circle cx="340.5" cy="2244.2" r="2.7"/><circle cx="362.5" cy="2245.4" r="2.7"/><circle cx="338.3" cy="2246.0" r="2.7"/><circle cx="357.9" cy="2238.1" r="2.7"/><circle cx="330.4" cy="2239.3" r="2.7"/><circle cx="357.6" cy="2248.3" r="2.7"/><circle cx="338.8" cy="2240.0" r="2.7"/><circle cx="363.9" cy="2242.2" r="2.7"/><circle cx="339.4" cy="2241.8" r="2.7"/><circle cx="358.4" cy="2240.5" r="2.7"/><circle cx="334.1" cy="2239.3" r="2.7"/><circle cx="362.9" cy="2247.8" r="2.7"/><circle cx="331.6" cy="2238.7" r="2.7"/><circle cx="368.7" cy="2243.4" r="2.7"/><circle cx="327.0" cy="2236.5" r="2.7"/><circle cx="356.2" cy="2244.8" r="2.7"/><circle cx="337.5" cy="2241.4" r="2.7"/><circle cx="355.6" cy="2242.0" r="2.7"/><circle cx="340.6" cy="2242.8" r="2.7"/><circle cx="368.3" cy="2247.4" r="2.7"/><circle cx="325.8" cy="2245.3" r="2.7"/><circle cx="364.2" cy="2243.7" r="2.7"/><circle cx="329.7" cy="2244.2" r="2.7"/><circle cx="356.2" cy="2242.6" r="2.7"/><circle cx="332.5" cy="2248.3" r="2.7"/><circle cx="367.0" cy="2240.7" r="2.7"/><circle cx="333.2" cy="2238.2" r="2.7"/><circle cx="367.5" cy="2247.5" r="2.7"/><circle cx="330.1" cy="2244.2" r="2.7"/><circle cx="363.2" cy="2239.4" r="2.7"/><circle cx="337.1" cy="2242.9" r="2.7"/><circle cx="365.6" cy="2243.7" r="2.7"/><circle cx="325.7" cy="2240.1" r="2.7"/><circle cx="354.9" cy="2248.1" r="2.7"/><circle cx="338.8" cy="2246.7" r="2.7"/><circle cx="359.0" cy="2238.4" r="2.7"/><circle cx="338.8" cy="2248.2" r="2.7"/><circle cx="355.9" cy="2243.2" r="2.7"/><circle cx="326.7" cy="2245.8" r="2.7"/><circle cx="365.4" cy="2239.2" r="2.7"/><circle cx="332.8" cy="2243.0" r="2.7"/><circle cx="358.4" cy="2247.5" r="2.7"/><circle cx="332.0" cy="2238.6" r="2.7"/><circle cx="362.2" cy="2245.9" r="2.7"/><circle cx="328.7" cy="2239.9" r="2.7"/><circle cx="368.6" cy="2245.0" r="2.7"/><circle cx="332.2" cy="2242.6" r="2.7"/><circle cx="356.4" cy="2240.2" r="2.7"/><circle cx="330.7" cy="2243.5" r="2.7"/><circle cx="357.9" cy="2240.2" r="2.7"/></g>
<g fill="#ee2a24" fill-opacity="0.55" stroke="#ee2a24" stroke-opacity="0.75" stroke-width="0.9"><circle cx="376.2" cy="2088.4" r="2.5"/><circle cx="415.5" cy="2091.8" r="2.5"/><circle cx="394.3" cy="2107.8" r="2.5"/><circle cx="301.9" cy="2128.4" r="2.5"/><circle cx="247.4" cy="2147.0" r="2.5"/><circle cx="250.4" cy="2159.5" r="2.5"/><circle cx="378.4" cy="2150.3" r="2.5"/><circle cx="408.9" cy="2153.5" r="2.5"/><circle cx="409.3" cy="2159.5" r="2.5"/><circle cx="388.4" cy="2166.6" r="2.5"/><circle cx="317.6" cy="2174.6" r="2.5"/><circle cx="383.7" cy="2181.9" r="2.5"/><circle cx="380.9" cy="2185.7" r="2.5"/><circle cx="255.1" cy="2190.2" r="2.5"/><circle cx="311.3" cy="2195.4" r="2.5"/><circle cx="243.0" cy="2200.3" r="2.5"/><circle cx="375.3" cy="2205.9" r="2.5"/><circle cx="407.1" cy="2209.6" r="2.5"/><circle cx="418.3" cy="2211.1" r="2.5"/><circle cx="400.9" cy="2217.1" r="2.5"/><circle cx="395.3" cy="2222.2" r="2.5"/><circle cx="439.4" cy="2220.9" r="2.5"/><circle cx="443.9" cy="2223.3" r="2.5"/><circle cx="264.9" cy="2225.5" r="2.5"/><circle cx="396.8" cy="2231.5" r="2.5"/><circle cx="244.8" cy="2234.9" r="2.5"/><circle cx="432.3" cy="2233.6" r="2.5"/><circle cx="412.7" cy="2235.8" r="2.5"/><circle cx="286.4" cy="2236.8" r="2.5"/><circle cx="286.4" cy="2241.1" r="2.5"/><circle cx="307.0" cy="2239.6" r="2.5"/><circle cx="313.1" cy="2239.2" r="2.5"/><circle cx="407.4" cy="2240.0" r="2.5"/><circle cx="439.3" cy="2243.3" r="2.5"/><circle cx="417.4" cy="2247.1" r="2.5"/><circle cx="379.0" cy="2231.2" r="2.5"/><circle cx="382.7" cy="2233.0" r="2.5"/><circle cx="377.1" cy="2237.7" r="2.5"/><circle cx="270.5" cy="2247.1" r="2.5"/><circle cx="277.9" cy="2248.9" r="2.5"/><circle cx="284.5" cy="2249.9" r="2.5"/><circle cx="266.7" cy="2255.5" r="2.5"/><circle cx="287.3" cy="2257.4" r="2.5"/><circle cx="251.8" cy="2263.0" r="2.5"/><circle cx="281.7" cy="2265.8" r="2.5"/><circle cx="292.9" cy="2265.8" r="2.5"/><circle cx="298.5" cy="2262.0" r="2.5"/><circle cx="226.5" cy="2274.2" r="2.5"/><circle cx="251.8" cy="2275.1" r="2.5"/><circle cx="259.2" cy="2274.2" r="2.5"/><circle cx="270.5" cy="2273.3" r="2.5"/><circle cx="407.1" cy="2251.7" r="2.5"/><circle cx="394.0" cy="2250.8" r="2.5"/><circle cx="423.9" cy="2256.4" r="2.5"/><circle cx="427.6" cy="2256.4" r="2.5"/><circle cx="437.0" cy="2265.8" r="2.5"/><circle cx="433.3" cy="2266.7" r="2.5"/><circle cx="448.2" cy="2282.6" r="2.5"/><circle cx="443.6" cy="2283.0" r="2.5"/><circle cx="434.2" cy="2279.8" r="2.5"/><circle cx="318.2" cy="2251.7" r="2.5"/><circle cx="319.1" cy="2261.1" r="2.5"/><circle cx="406.9" cy="2282.9" r="2.5"/><circle cx="389.2" cy="2251.8" r="2.5"/><circle cx="379.4" cy="2282.8" r="2.5"/><circle cx="380.8" cy="2270.4" r="2.5"/><circle cx="376.1" cy="2246.2" r="2.5"/><circle cx="386.8" cy="2274.3" r="2.5"/><circle cx="419.0" cy="2262.4" r="2.5"/><circle cx="380.9" cy="2283.7" r="2.5"/><circle cx="396.2" cy="2278.6" r="2.5"/><circle cx="389.1" cy="2277.5" r="2.5"/><circle cx="412.5" cy="2285.3" r="2.5"/><circle cx="392.8" cy="2257.5" r="2.5"/><circle cx="386.9" cy="2282.6" r="2.5"/><circle cx="383.6" cy="2278.7" r="2.5"/><circle cx="400.0" cy="2282.0" r="2.5"/><circle cx="373.0" cy="2278.1" r="2.5"/><circle cx="433.4" cy="2257.5" r="2.5"/><circle cx="375.6" cy="2260.0" r="2.5"/><circle cx="432.8" cy="2258.8" r="2.5"/><circle cx="384.7" cy="2284.1" r="2.5"/><circle cx="391.3" cy="2279.2" r="2.5"/><circle cx="374.6" cy="2285.9" r="2.5"/><circle cx="429.1" cy="2282.2" r="2.5"/><circle cx="426.4" cy="2264.1" r="2.5"/><circle cx="399.8" cy="2240.0" r="2.5"/><circle cx="412.8" cy="2284.3" r="2.5"/><circle cx="387.5" cy="2281.6" r="2.5"/><circle cx="407.4" cy="2275.2" r="2.5"/><circle cx="379.8" cy="2266.4" r="2.5"/><circle cx="406.0" cy="2276.4" r="2.5"/><circle cx="385.3" cy="2258.4" r="2.5"/><circle cx="410.2" cy="2285.6" r="2.5"/><circle cx="429.7" cy="2283.8" r="2.5"/><circle cx="406.0" cy="2282.8" r="2.5"/><circle cx="395.4" cy="2284.9" r="2.5"/><circle cx="388.4" cy="2273.4" r="2.5"/><circle cx="385.7" cy="2272.5" r="2.5"/><circle cx="403.8" cy="2275.8" r="2.5"/><circle cx="390.1" cy="2246.3" r="2.5"/><circle cx="384.9" cy="2282.8" r="2.5"/><circle cx="413.6" cy="2279.3" r="2.5"/><circle cx="383.5" cy="2281.2" r="2.5"/><circle cx="392.8" cy="2266.1" r="2.5"/><circle cx="389.5" cy="2282.2" r="2.5"/><circle cx="381.1" cy="2246.7" r="2.5"/><circle cx="413.1" cy="2280.0" r="2.5"/><circle cx="410.3" cy="2284.3" r="2.5"/><circle cx="393.8" cy="2272.8" r="2.5"/><circle cx="374.8" cy="2261.6" r="2.5"/><circle cx="375.6" cy="2281.5" r="2.5"/><circle cx="405.6" cy="2284.7" r="2.5"/><circle cx="426.9" cy="2285.0" r="2.5"/><circle cx="399.4" cy="2282.1" r="2.5"/><circle cx="394.0" cy="2273.0" r="2.5"/><circle cx="376.5" cy="2271.9" r="2.5"/><circle cx="390.5" cy="2282.3" r="2.5"/><circle cx="430.8" cy="2259.1" r="2.5"/><circle cx="377.1" cy="2285.4" r="2.5"/><circle cx="392.0" cy="2286.8" r="2.5"/><circle cx="382.8" cy="2264.9" r="2.5"/><circle cx="386.4" cy="2266.8" r="2.5"/><circle cx="388.7" cy="2274.9" r="2.5"/><circle cx="376.2" cy="2285.6" r="2.5"/><circle cx="374.5" cy="2255.0" r="2.5"/><circle cx="400.5" cy="2260.1" r="2.5"/><circle cx="391.9" cy="2273.9" r="2.5"/><circle cx="381.2" cy="2281.3" r="2.5"/><circle cx="384.1" cy="2252.8" r="2.5"/><circle cx="388.0" cy="2252.8" r="2.5"/><circle cx="423.7" cy="2283.3" r="2.5"/><circle cx="372.9" cy="2264.3" r="2.5"/><circle cx="385.3" cy="2254.8" r="2.5"/><circle cx="403.8" cy="2284.3" r="2.5"/><circle cx="393.5" cy="2247.4" r="2.5"/><circle cx="421.1" cy="2262.1" r="2.5"/><circle cx="427.8" cy="2255.2" r="2.5"/><circle cx="416.0" cy="2280.8" r="2.5"/><circle cx="379.7" cy="2247.2" r="2.5"/><circle cx="390.1" cy="2262.1" r="2.5"/><circle cx="423.4" cy="2282.2" r="2.5"/><circle cx="375.9" cy="2256.3" r="2.5"/><circle cx="385.3" cy="2257.8" r="2.5"/><circle cx="381.4" cy="2277.7" r="2.5"/><circle cx="421.4" cy="2281.4" r="2.5"/><circle cx="378.3" cy="2286.4" r="2.5"/><circle cx="391.3" cy="2283.6" r="2.5"/><circle cx="420.0" cy="2282.0" r="2.5"/><circle cx="393.8" cy="2275.4" r="2.5"/><circle cx="377.8" cy="2283.9" r="2.5"/><circle cx="393.3" cy="2285.1" r="2.5"/><circle cx="377.8" cy="2278.4" r="2.5"/><circle cx="376.0" cy="2273.0" r="2.5"/><circle cx="395.9" cy="2276.2" r="2.5"/><circle cx="399.2" cy="2282.4" r="2.5"/><circle cx="396.0" cy="2268.5" r="2.5"/><circle cx="433.8" cy="2275.3" r="2.5"/><circle cx="373.5" cy="2268.0" r="2.5"/><circle cx="374.9" cy="2280.1" r="2.5"/><circle cx="412.7" cy="2285.7" r="2.5"/><circle cx="385.2" cy="2281.2" r="2.5"/><circle cx="393.4" cy="2258.9" r="2.5"/><circle cx="377.2" cy="2281.3" r="2.5"/><circle cx="395.1" cy="2279.0" r="2.5"/><circle cx="391.2" cy="2284.8" r="2.5"/><circle cx="385.8" cy="2278.7" r="2.5"/><circle cx="410.3" cy="2252.2" r="2.5"/><circle cx="387.6" cy="2272.6" r="2.5"/><circle cx="383.5" cy="2286.8" r="2.5"/><circle cx="404.8" cy="2281.8" r="2.5"/><circle cx="404.7" cy="2271.0" r="2.5"/><circle cx="387.9" cy="2277.5" r="2.5"/><circle cx="390.2" cy="2277.3" r="2.5"/><circle cx="379.5" cy="2252.5" r="2.5"/><circle cx="377.5" cy="2285.5" r="2.5"/><circle cx="388.5" cy="2276.1" r="2.5"/><circle cx="389.1" cy="2261.5" r="2.5"/><circle cx="390.8" cy="2266.2" r="2.5"/><circle cx="381.8" cy="2283.5" r="2.5"/><circle cx="389.7" cy="2286.4" r="2.5"/><circle cx="373.9" cy="2258.7" r="2.5"/><circle cx="403.2" cy="2285.7" r="2.5"/><circle cx="405.2" cy="2283.6" r="2.5"/><circle cx="392.2" cy="2269.1" r="2.5"/><circle cx="392.9" cy="2271.0" r="2.5"/><circle cx="373.6" cy="2286.7" r="2.5"/><circle cx="373.2" cy="2285.1" r="2.5"/><circle cx="418.7" cy="2278.6" r="2.5"/><circle cx="403.1" cy="2276.0" r="2.5"/><circle cx="433.0" cy="2286.0" r="2.5"/><circle cx="373.1" cy="2277.8" r="2.5"/><circle cx="424.8" cy="2262.8" r="2.5"/><circle cx="412.2" cy="2273.4" r="2.5"/><circle cx="426.4" cy="2272.7" r="2.5"/><circle cx="390.3" cy="2268.0" r="2.5"/><circle cx="423.2" cy="2275.0" r="2.5"/><circle cx="374.4" cy="2253.1" r="2.5"/><circle cx="374.1" cy="2282.4" r="2.5"/><circle cx="403.2" cy="2282.6" r="2.5"/><circle cx="402.4" cy="2275.9" r="2.5"/><circle cx="407.5" cy="2272.2" r="2.5"/><circle cx="374.5" cy="2281.8" r="2.5"/><circle cx="383.5" cy="2282.1" r="2.5"/><circle cx="387.0" cy="2284.6" r="2.5"/><circle cx="403.0" cy="2282.9" r="2.5"/><circle cx="387.3" cy="2285.8" r="2.5"/><circle cx="412.2" cy="2279.0" r="2.5"/><circle cx="399.6" cy="2283.4" r="2.5"/><circle cx="380.2" cy="2278.7" r="2.5"/><circle cx="402.1" cy="2269.2" r="2.5"/><circle cx="392.8" cy="2258.0" r="2.5"/><circle cx="375.4" cy="2286.7" r="2.5"/><circle cx="398.9" cy="2280.4" r="2.5"/><circle cx="374.0" cy="2241.3" r="2.5"/><circle cx="425.2" cy="2278.8" r="2.5"/><circle cx="373.4" cy="2273.1" r="2.5"/><circle cx="406.5" cy="2283.1" r="2.5"/><circle cx="378.3" cy="2286.4" r="2.5"/><circle cx="400.9" cy="2280.7" r="2.5"/><circle cx="384.6" cy="2284.1" r="2.5"/><circle cx="397.4" cy="2277.5" r="2.5"/><circle cx="398.8" cy="2286.4" r="2.5"/><circle cx="399.7" cy="2279.4" r="2.5"/><circle cx="378.6" cy="2271.5" r="2.5"/><circle cx="375.4" cy="2284.6" r="2.5"/><circle cx="381.2" cy="2279.7" r="2.5"/><circle cx="374.9" cy="2283.3" r="2.5"/><circle cx="393.9" cy="2279.7" r="2.5"/><circle cx="412.9" cy="2266.1" r="2.5"/><circle cx="382.9" cy="2285.5" r="2.5"/><circle cx="390.6" cy="2286.5" r="2.5"/><circle cx="401.1" cy="2280.4" r="2.5"/><circle cx="400.2" cy="2271.2" r="2.5"/><circle cx="410.6" cy="2266.0" r="2.5"/><circle cx="389.8" cy="2286.5" r="2.5"/><circle cx="378.4" cy="2284.4" r="2.5"/><circle cx="400.8" cy="2274.5" r="2.5"/><circle cx="401.2" cy="2283.2" r="2.5"/><circle cx="387.1" cy="2284.1" r="2.5"/><circle cx="416.2" cy="2272.9" r="2.5"/><circle cx="373.1" cy="2261.4" r="2.5"/><circle cx="377.6" cy="2281.3" r="2.5"/><circle cx="376.7" cy="2270.0" r="2.5"/><circle cx="398.8" cy="2268.2" r="2.5"/><circle cx="379.9" cy="2285.6" r="2.5"/><circle cx="386.6" cy="2285.2" r="2.5"/><circle cx="407.8" cy="2264.9" r="2.5"/><circle cx="394.2" cy="2284.9" r="2.5"/><circle cx="377.9" cy="2278.5" r="2.5"/><circle cx="397.0" cy="2279.9" r="2.5"/><circle cx="397.3" cy="2258.7" r="2.5"/><circle cx="373.8" cy="2261.2" r="2.5"/><circle cx="426.5" cy="2271.8" r="2.5"/><circle cx="414.7" cy="2260.6" r="2.5"/><circle cx="380.5" cy="2267.2" r="2.5"/><circle cx="379.0" cy="2275.3" r="2.5"/><circle cx="421.1" cy="2277.0" r="2.5"/><circle cx="412.7" cy="2282.2" r="2.5"/><circle cx="389.9" cy="2258.5" r="2.5"/><circle cx="378.4" cy="2255.2" r="2.5"/><circle cx="382.8" cy="2282.7" r="2.5"/><circle cx="408.7" cy="2279.7" r="2.5"/><circle cx="381.0" cy="2286.4" r="2.5"/><circle cx="382.9" cy="2283.3" r="2.5"/><circle cx="386.5" cy="2263.1" r="2.5"/><circle cx="402.5" cy="2268.9" r="2.5"/><circle cx="419.3" cy="2282.0" r="2.5"/><circle cx="437.7" cy="2285.5" r="2.5"/><circle cx="377.0" cy="2267.9" r="2.5"/><circle cx="417.8" cy="2269.4" r="2.5"/><circle cx="376.1" cy="2271.4" r="2.5"/><circle cx="420.2" cy="2285.4" r="2.5"/><circle cx="375.6" cy="2283.1" r="2.5"/><circle cx="381.1" cy="2273.9" r="2.5"/><circle cx="394.2" cy="2277.3" r="2.5"/><circle cx="400.5" cy="2266.5" r="2.5"/><circle cx="378.3" cy="2280.8" r="2.5"/><circle cx="313.4" cy="2283.4" r="2.5"/><circle cx="295.7" cy="2285.3" r="2.5"/><circle cx="315.2" cy="2277.9" r="2.5"/><circle cx="305.3" cy="2270.1" r="2.5"/><circle cx="311.9" cy="2279.1" r="2.5"/><circle cx="299.7" cy="2271.8" r="2.5"/><circle cx="280.8" cy="2282.9" r="2.5"/><circle cx="315.1" cy="2285.6" r="2.5"/><circle cx="312.9" cy="2284.5" r="2.5"/><circle cx="298.6" cy="2286.6" r="2.5"/><circle cx="315.4" cy="2277.4" r="2.5"/><circle cx="315.5" cy="2263.2" r="2.5"/><circle cx="304.7" cy="2278.9" r="2.5"/><circle cx="290.7" cy="2279.4" r="2.5"/><circle cx="289.8" cy="2280.0" r="2.5"/><circle cx="316.8" cy="2253.8" r="2.5"/><circle cx="311.2" cy="2279.2" r="2.5"/><circle cx="306.3" cy="2285.9" r="2.5"/><circle cx="290.7" cy="2275.2" r="2.5"/><circle cx="303.2" cy="2277.2" r="2.5"/><circle cx="314.8" cy="2282.6" r="2.5"/><circle cx="304.4" cy="2270.0" r="2.5"/><circle cx="320.5" cy="2275.9" r="2.5"/><circle cx="315.1" cy="2278.2" r="2.5"/><circle cx="298.0" cy="2279.8" r="2.5"/><circle cx="297.8" cy="2282.6" r="2.5"/><circle cx="287.9" cy="2271.1" r="2.5"/><circle cx="289.5" cy="2252.5" r="2.5"/><circle cx="315.1" cy="2274.2" r="2.5"/><circle cx="298.9" cy="2284.8" r="2.5"/><circle cx="315.0" cy="2286.8" r="2.5"/><circle cx="309.4" cy="2279.8" r="2.5"/><circle cx="298.1" cy="2283.7" r="2.5"/><circle cx="305.7" cy="2272.5" r="2.5"/><circle cx="310.4" cy="2273.3" r="2.5"/><circle cx="286.0" cy="2256.8" r="2.5"/><circle cx="310.1" cy="2274.2" r="2.5"/><circle cx="275.6" cy="2255.2" r="2.5"/><circle cx="283.8" cy="2274.7" r="2.5"/><circle cx="302.1" cy="2259.0" r="2.5"/><circle cx="315.2" cy="2284.7" r="2.5"/><circle cx="309.7" cy="2282.5" r="2.5"/><circle cx="320.8" cy="2282.8" r="2.5"/><circle cx="277.8" cy="2285.3" r="2.5"/><circle cx="301.6" cy="2253.5" r="2.5"/><circle cx="273.1" cy="2278.7" r="2.5"/><circle cx="307.4" cy="2286.3" r="2.5"/><circle cx="320.6" cy="2280.2" r="2.5"/><circle cx="310.0" cy="2285.7" r="2.5"/><circle cx="298.3" cy="2248.7" r="2.5"/><circle cx="298.6" cy="2251.7" r="2.5"/><circle cx="308.7" cy="2286.3" r="2.5"/><circle cx="297.7" cy="2270.4" r="2.5"/><circle cx="273.4" cy="2257.9" r="2.5"/><circle cx="312.2" cy="2284.5" r="2.5"/><circle cx="280.4" cy="2278.9" r="2.5"/><circle cx="296.9" cy="2285.7" r="2.5"/><circle cx="303.8" cy="2273.9" r="2.5"/><circle cx="296.6" cy="2264.1" r="2.5"/><circle cx="296.4" cy="2282.8" r="2.5"/><circle cx="276.1" cy="2253.0" r="2.5"/><circle cx="304.7" cy="2279.7" r="2.5"/><circle cx="282.2" cy="2282.4" r="2.5"/><circle cx="281.8" cy="2280.8" r="2.5"/><circle cx="312.0" cy="2274.3" r="2.5"/><circle cx="287.9" cy="2284.4" r="2.5"/><circle cx="312.0" cy="2281.6" r="2.5"/><circle cx="319.2" cy="2270.2" r="2.5"/><circle cx="274.3" cy="2284.2" r="2.5"/><circle cx="297.8" cy="2280.1" r="2.5"/><circle cx="305.0" cy="2275.9" r="2.5"/><circle cx="319.8" cy="2277.5" r="2.5"/><circle cx="301.5" cy="2277.4" r="2.5"/><circle cx="263.6" cy="2258.4" r="2.5"/><circle cx="304.9" cy="2266.0" r="2.5"/><circle cx="317.1" cy="2278.8" r="2.5"/><circle cx="312.8" cy="2283.1" r="2.5"/><circle cx="282.2" cy="2265.8" r="2.5"/><circle cx="296.3" cy="2277.5" r="2.5"/><circle cx="318.0" cy="2281.2" r="2.5"/><circle cx="286.0" cy="2262.2" r="2.5"/><circle cx="302.4" cy="2263.6" r="2.5"/><circle cx="311.4" cy="2280.6" r="2.5"/><circle cx="262.9" cy="2255.1" r="2.5"/><circle cx="259.3" cy="2282.9" r="2.5"/><circle cx="318.1" cy="2282.7" r="2.5"/><circle cx="257.1" cy="2279.0" r="2.5"/><circle cx="296.4" cy="2281.9" r="2.5"/><circle cx="287.7" cy="2277.5" r="2.5"/><circle cx="285.7" cy="2282.3" r="2.5"/><circle cx="311.2" cy="2284.4" r="2.5"/><circle cx="307.0" cy="2283.7" r="2.5"/><circle cx="280.0" cy="2269.4" r="2.5"/><circle cx="268.0" cy="2272.6" r="2.5"/><circle cx="306.2" cy="2267.4" r="2.5"/><circle cx="283.9" cy="2266.8" r="2.5"/><circle cx="311.9" cy="2278.7" r="2.5"/><circle cx="320.8" cy="2276.4" r="2.5"/><circle cx="274.7" cy="2280.0" r="2.5"/><circle cx="271.5" cy="2278.1" r="2.5"/></g>
<line x1="322.10" y1="1963.50" x2="322.10" y2="2350.50" stroke="#000" stroke-width="3.00" stroke-dasharray="22.4 7.54" stroke-dashoffset="9.2"/>
<line x1="371.80" y1="1963.50" x2="371.80" y2="2350.50" stroke="#000" stroke-width="3.00" stroke-dasharray="22.4 7.54" stroke-dashoffset="9.2"/>
<line x1="200.00" y1="2287.30" x2="494.00" y2="2287.30" stroke="#000" stroke-width="3.00" stroke-dasharray="22.4 7.54" stroke-dashoffset="28.7"/>
<path d="M199.9 1963.6V2350.9H493.8" stroke="#000" stroke-width="3.90" fill="none"/>
<line x1="189.60" y1="1980.50" x2="199.90" y2="1980.50" stroke="#333" stroke-width="6.20"/>
<text x="182.00" y="1990.90" font-size="30.12" text-anchor="end" fill="#4d4d4d" textLength="56.35" lengthAdjust="spacingAndGlyphs">10.0</text>
<line x1="189.60" y1="2069.50" x2="199.90" y2="2069.50" stroke="#333" stroke-width="6.20"/>
<text x="182.00" y="2079.90" font-size="30.12" text-anchor="end" fill="#4d4d4d" textLength="40.25" lengthAdjust="spacingAndGlyphs">7.5</text>
<line x1="189.60" y1="2157.50" x2="199.90" y2="2157.50" stroke="#333" stroke-width="6.20"/>
<text x="182.00" y="2167.90" font-size="30.12" text-anchor="end" fill="#4d4d4d" textLength="40.25" lengthAdjust="spacingAndGlyphs">5.0</text>
<line x1="189.60" y1="2245.50" x2="199.90" y2="2245.50" stroke="#333" stroke-width="6.20"/>
<text x="182.00" y="2255.90" font-size="30.12" text-anchor="end" fill="#4d4d4d" textLength="40.25" lengthAdjust="spacingAndGlyphs">2.5</text>
<line x1="189.60" y1="2333.40" x2="199.90" y2="2333.40" stroke="#333" stroke-width="6.20"/>
<text x="182.00" y="2343.80" font-size="30.12" text-anchor="end" fill="#4d4d4d" textLength="40.25" lengthAdjust="spacingAndGlyphs">0.0</text>
<line x1="263.40" y1="2350.90" x2="263.40" y2="2360.20" stroke="#333" stroke-width="6.80"/>
<text x="263.40" y="2389.80" font-size="30.12" text-anchor="middle" fill="#4d4d4d" textLength="25.75" lengthAdjust="spacingAndGlyphs">-5</text>
<line x1="347.00" y1="2350.90" x2="347.00" y2="2360.20" stroke="#333" stroke-width="6.80"/>
<text x="347.00" y="2389.80" font-size="30.12" text-anchor="middle" fill="#4d4d4d" textLength="16.10" lengthAdjust="spacingAndGlyphs">0</text>
<line x1="430.50" y1="2350.90" x2="430.50" y2="2360.20" stroke="#333" stroke-width="6.80"/>
<text x="430.50" y="2389.80" font-size="30.12" text-anchor="middle" fill="#4d4d4d" textLength="16.10" lengthAdjust="spacingAndGlyphs">5</text>
<text x="262.00" y="2409.60" font-size="22.44" fill="#111" textLength="48.00" lengthAdjust="spacingAndGlyphs">Log2</text>
<text x="330.50" y="2409.60" font-size="22.83" fill="#111" textLength="113.50" lengthAdjust="spacingAndGlyphs">fold change</text>
<text transform="translate(101.8 2218.5) rotate(-90)" font-size="29.5" fill="#111">− Log<tspan font-size="18.5" dy="5.5">10</tspan><tspan dy="-5.5" font-style="italic"> P</tspan></text>
<circle cx="584.00" cy="2054.60" r="7.60" fill="#58585a" stroke="#58585a" stroke-width="1.40" fill-opacity="0.72"/>
<text x="607.40" y="2061.20" font-size="22.08" fill="#111" textLength="29.50" lengthAdjust="spacingAndGlyphs">NS</text>
<circle cx="584.00" cy="2093.90" r="7.60" fill="#3f9b4f" stroke="#3f9b4f" stroke-width="1.40" fill-opacity="0.72"/>
<circle cx="584.00" cy="2133.60" r="7.60" fill="#6f84cc" stroke="#6f84cc" stroke-width="1.40" fill-opacity="0.72"/>
<text x="607.40" y="2140.20" font-size="22.83" fill="#111" textLength="72.00" lengthAdjust="spacingAndGlyphs">p-value</text>
<circle cx="584.00" cy="2170.90" r="7.60" fill="#f0553a" stroke="#f0553a" stroke-width="1.40" fill-opacity="0.72"/>
<text x="607.40" y="2177.50" font-size="22.93" fill="#111" textLength="198.50" lengthAdjust="spacingAndGlyphs">p-value and log2 FC</text>
<text x="607.4" y="2099.2" font-size="22.6" fill="#111">Log<tspan font-size="14.5" dy="5">2</tspan><tspan dy="-5"> FC</tspan></text>
<text x="586.50" y="2325.20" font-size="23.22" fill="#111" textLength="140.50" lengthAdjust="spacingAndGlyphs">pCutoff = 0.05</text>
<text x="586.50" y="2351.50" font-size="23.23" fill="#111" textLength="140.50" lengthAdjust="spacingAndGlyphs">FCcutoff = 1.5</text>
<text x="421.50" y="2085.00" font-size="23.07" fill="#111" textLength="71.50" lengthAdjust="spacingAndGlyphs">ZBED2</text>
<text x="378.80" y="2131.20" font-size="22.36" fill="#111" textLength="70.50" lengthAdjust="spacingAndGlyphs">NR3C1</text>
</g>
<g id="panelK">
<text x="1280.20" y="1955.70" font-size="29.06" font-weight="bold" text-anchor="middle" fill="#231f20" textLength="91.60" lengthAdjust="spacingAndGlyphs">ZBED2</text>
<line x1="1130.45" y1="2236.80" x2="1130.45" y2="2253.40" stroke="#333" stroke-width="1.40"/>
<line x1="1123.45" y1="2236.80" x2="1137.45" y2="2236.80" stroke="#333" stroke-width="1.40"/>
<rect x="1116.40" y="2252.40" width="28.10" height="23.80" fill="#231f20"/>
<line x1="1172.35" y1="2260.20" x2="1172.35" y2="2266.30" stroke="#333" stroke-width="1.40"/>
<line x1="1165.35" y1="2260.20" x2="1179.35" y2="2260.20" stroke="#333" stroke-width="1.40"/>
<rect x="1159.40" y="2265.90" width="25.90" height="10.30" fill="#a01c22" stroke="#2a1a1b" stroke-width="1.20"/>
<line x1="1242.55" y1="2031.90" x2="1242.55" y2="2114.40" stroke="#333" stroke-width="1.40"/>
<line x1="1235.55" y1="2031.90" x2="1249.55" y2="2031.90" stroke="#333" stroke-width="1.40"/>
<rect x="1228.60" y="2113.40" width="27.90" height="162.80" fill="#231f20"/>
<line x1="1284.45" y1="2191.70" x2="1284.45" y2="2205.90" stroke="#333" stroke-width="1.40"/>
<line x1="1277.45" y1="2191.70" x2="1291.45" y2="2191.70" stroke="#333" stroke-width="1.40"/>
<rect x="1271.30" y="2205.50" width="26.30" height="70.70" fill="#a01c22" stroke="#2a1a1b" stroke-width="1.20"/>
<line x1="1354.65" y1="2200.50" x2="1354.65" y2="2228.30" stroke="#333" stroke-width="1.40"/>
<line x1="1347.65" y1="2200.50" x2="1361.65" y2="2200.50" stroke="#333" stroke-width="1.40"/>
<rect x="1340.60" y="2227.30" width="28.10" height="48.90" fill="#231f20"/>
<line x1="1396.90" y1="2249.40" x2="1396.90" y2="2259.50" stroke="#333" stroke-width="1.40"/>
<line x1="1389.90" y1="2249.40" x2="1403.90" y2="2249.40" stroke="#333" stroke-width="1.40"/>
<rect x="1383.60" y="2259.10" width="26.60" height="17.10" fill="#a01c22" stroke="#2a1a1b" stroke-width="1.20"/>
<line x1="1466.60" y1="2047.50" x2="1466.60" y2="2124.50" stroke="#333" stroke-width="1.40"/>
<line x1="1459.60" y1="2047.50" x2="1473.60" y2="2047.50" stroke="#333" stroke-width="1.40"/>
<rect x="1452.50" y="2123.50" width="28.20" height="152.70" fill="#231f20"/>
<line x1="1508.80" y1="2216.80" x2="1508.80" y2="2219.50" stroke="#333" stroke-width="1.40"/>
<line x1="1501.80" y1="2216.80" x2="1515.80" y2="2216.80" stroke="#333" stroke-width="1.40"/>
<rect x="1495.50" y="2219.10" width="26.60" height="57.10" fill="#a01c22" stroke="#2a1a1b" stroke-width="1.20"/>
<path d="M1102.1 1985.0V2276.2H1538" stroke="#333" stroke-width="1.50" fill="none"/>
<line x1="1090.20" y1="1985.50" x2="1102.10" y2="1985.50" stroke="#333" stroke-width="1.50"/>
<text x="1083.60" y="1992.40" font-size="19.90" font-weight="bold" text-anchor="end" fill="#231f20" textLength="26.60" lengthAdjust="spacingAndGlyphs">0.5</text>
<line x1="1090.20" y1="2044.80" x2="1102.10" y2="2044.80" stroke="#333" stroke-width="1.50"/>
<text x="1083.60" y="2051.70" font-size="19.90" font-weight="bold" text-anchor="end" fill="#231f20" textLength="26.60" lengthAdjust="spacingAndGlyphs">0.4</text>
<line x1="1090.20" y1="2102.50" x2="1102.10" y2="2102.50" stroke="#333" stroke-width="1.50"/>
<text x="1083.60" y="2109.40" font-size="19.90" font-weight="bold" text-anchor="end" fill="#231f20" textLength="26.60" lengthAdjust="spacingAndGlyphs">0.3</text>
<line x1="1090.20" y1="2160.50" x2="1102.10" y2="2160.50" stroke="#333" stroke-width="1.50"/>
<text x="1083.60" y="2167.40" font-size="19.90" font-weight="bold" text-anchor="end" fill="#231f20" textLength="26.60" lengthAdjust="spacingAndGlyphs">0.2</text>
<line x1="1090.20" y1="2218.50" x2="1102.10" y2="2218.50" stroke="#333" stroke-width="1.50"/>
<text x="1083.60" y="2225.40" font-size="19.90" font-weight="bold" text-anchor="end" fill="#231f20" textLength="26.60" lengthAdjust="spacingAndGlyphs">0.1</text>
<line x1="1090.20" y1="2276.20" x2="1102.10" y2="2276.20" stroke="#333" stroke-width="1.50"/>
<text x="1083.60" y="2283.10" font-size="19.90" font-weight="bold" text-anchor="end" fill="#231f20" textLength="26.60" lengthAdjust="spacingAndGlyphs">0.0</text>
<line x1="1150.60" y1="2276.20" x2="1150.60" y2="2288.00" stroke="#333" stroke-width="1.50"/>
<line x1="1263.20" y1="2276.20" x2="1263.20" y2="2288.00" stroke="#333" stroke-width="1.50"/>
<line x1="1375.50" y1="2276.20" x2="1375.50" y2="2288.00" stroke="#333" stroke-width="1.50"/>
<line x1="1487.80" y1="2276.20" x2="1487.80" y2="2288.00" stroke="#333" stroke-width="1.50"/>
<line x1="1242.20" y1="1998.00" x2="1284.30" y2="1998.00" stroke="#333" stroke-width="1.50"/>
<line x1="1466.80" y1="1998.00" x2="1508.50" y2="1998.00" stroke="#333" stroke-width="1.50"/>
<text x="1262.80" y="1995.00" font-size="34.00" font-weight="bold" text-anchor="middle" fill="#231f20">*</text>
<text x="1487.20" y="1995.00" font-size="34.00" font-weight="bold" text-anchor="middle" fill="#231f20">*</text>
<text x="1147.90" y="2320.30" font-size="23.68" text-anchor="middle" fill="#231f20" textLength="29.11" lengthAdjust="spacingAndGlyphs">C4</text>
<text x="1148.50" y="2348.10" font-size="23.68" text-anchor="middle" fill="#231f20" textLength="68.34" lengthAdjust="spacingAndGlyphs">control</text>
<text x="1263.50" y="2317.60" font-size="23.68" text-anchor="middle" fill="#231f20" textLength="39.23" lengthAdjust="spacingAndGlyphs">F22</text>
<text x="1264.00" y="2345.70" font-size="23.68" text-anchor="middle" fill="#231f20" textLength="69.61" lengthAdjust="spacingAndGlyphs">mutant</text>
<text x="1263.50" y="2373.50" font-size="23.68" text-anchor="middle" fill="#231f20" textLength="74.66" lengthAdjust="spacingAndGlyphs">FOXA1</text>
<text x="1377.20" y="2320.30" font-size="23.68" text-anchor="middle" fill="#231f20" textLength="66.24" lengthAdjust="spacingAndGlyphs">RT112</text>
<text x="1491.00" y="2320.30" font-size="23.68" text-anchor="middle" fill="#231f20" textLength="91.12" lengthAdjust="spacingAndGlyphs">SCaBER</text>
<line x1="1115.70" y1="2387.10" x2="1319.20" y2="2387.10" stroke="#231f20" stroke-width="2.60"/>
<text x="1103.80" y="2418.60" font-size="24.23" fill="#231f20" textLength="228.30" lengthAdjust="spacingAndGlyphs">RT112 CRispR clones</text>
<text x="1008.60" y="2130.00" font-size="24.12" font-weight="bold" text-anchor="middle" fill="#231f20" textLength="217.80" lengthAdjust="spacingAndGlyphs" transform="rotate(-90 1008.60 2130.00)">Relative expression</text>
<text x="1039.30" y="2130.60" font-size="24.44" font-weight="bold" text-anchor="middle" fill="#231f20" textLength="206.30" lengthAdjust="spacingAndGlyphs" transform="rotate(-90 1039.30 2130.60)">normalized to TBP</text>
<rect x="1602.80" y="1997.70" width="31.00" height="16.10" fill="#231f20"/>
<text x="1651.10" y="2013.30" font-size="24.24" fill="#231f20" textLength="79.00" lengthAdjust="spacingAndGlyphs">pEmpty</text>
<rect x="1603.40" y="2037.40" width="29.80" height="14.90" fill="#a01c22" stroke="#2a1a1b" stroke-width="1.20"/>
<text x="1651.10" y="2051.90" font-size="23.96" fill="#a01c22" textLength="128.00" lengthAdjust="spacingAndGlyphs">pHA-FOXA1</text>
</g>
</svg>
</body></html>
